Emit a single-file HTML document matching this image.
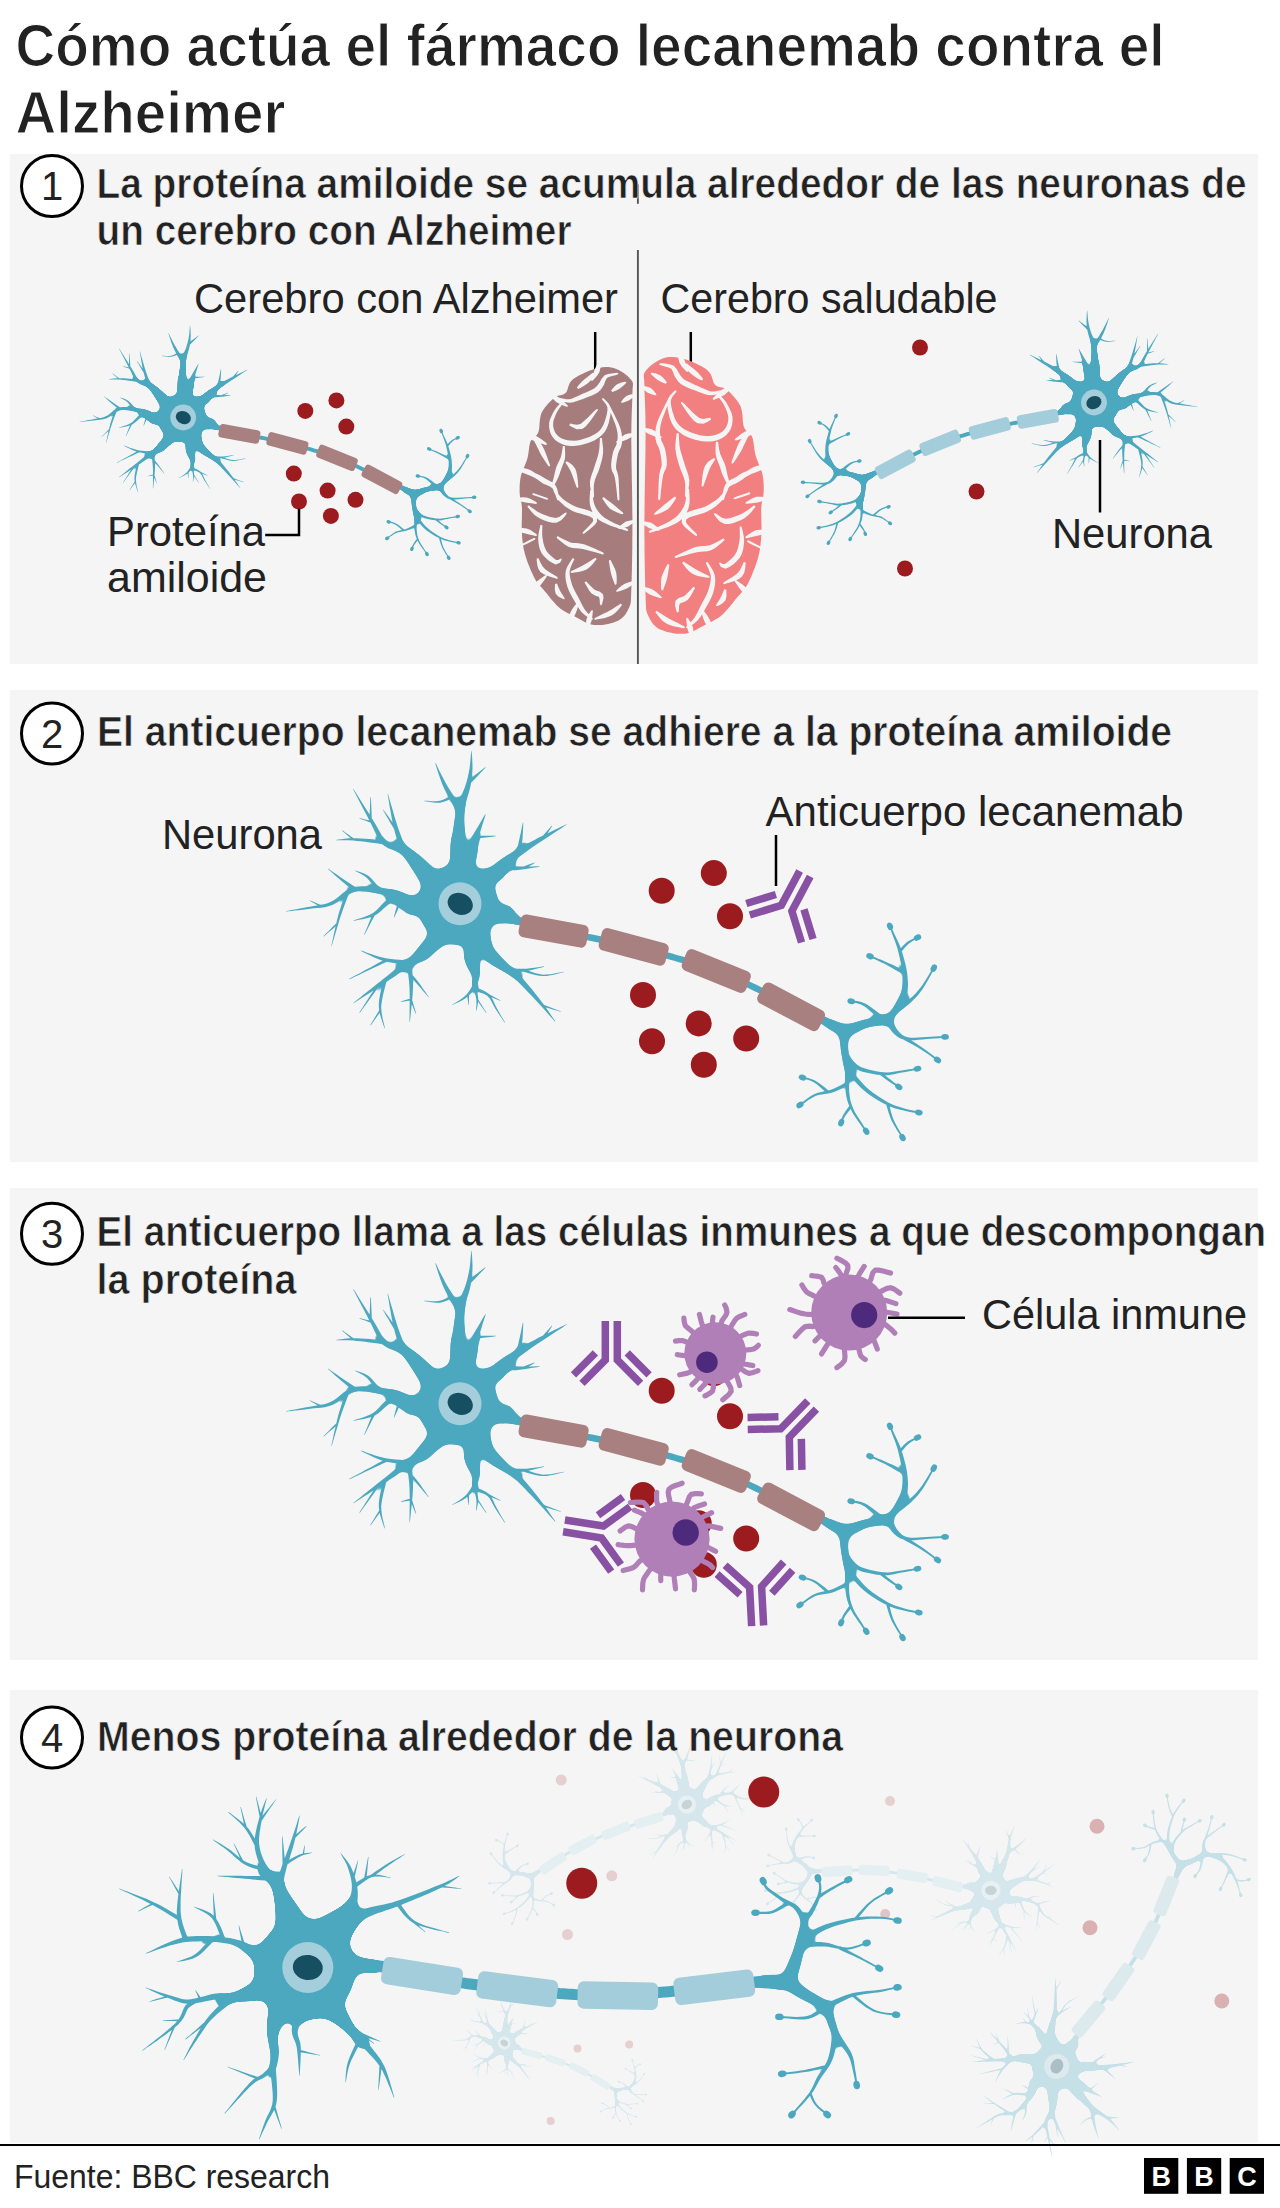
<!DOCTYPE html><html><head><meta charset="utf-8"><style>html,body{margin:0;padding:0;background:#fff}svg{display:block}text{font-family:"Liberation Sans",sans-serif}.nb{fill:var(--nb)}.ax{stroke:var(--nb)}.my{fill:var(--my)}.nr{fill:var(--nr)}.nn{fill:var(--nn)}.bf{fill:var(--bf)}</style></head><body>
<svg width="1280" height="2208" viewBox="0 0 1280 2208">
<defs>
<filter id="goo2" x="-50%" y="-50%" width="200%" height="200%" color-interpolation-filters="sRGB"><feGaussianBlur stdDeviation="6"/><feColorMatrix type="matrix" values="1 0 0 0 0 0 1 0 0 0 0 0 1 0 0 0 0 0 30 -13"/></filter>
<filter id="goo" x="-50%" y="-50%" width="200%" height="200%" color-interpolation-filters="sRGB"><feGaussianBlur stdDeviation="4"/><feColorMatrix type="matrix" values="1 0 0 0 0 0 1 0 0 0 0 0 1 0 0 0 0 0 14 -6"/></filter>
<g id="nA">
<path class="ax" d="M60.0 17.0L62.3 17.7L65.2 18.5L68.6 19.6L72.4 20.7L76.6 21.9L81.0 23.2L85.4 24.4L89.8 25.6L94.0 26.6L97.4 27.4L100.9 28.1L104.5 28.9L108.1 29.6L111.8 30.3L115.5 31.0L119.2 31.7L122.9 32.3L126.6 33.1L130.3 33.8L134.0 34.5L137.6 35.2L141.3 36.0L144.9 36.7L148.5 37.4L152.1 38.2L155.8 38.9L159.4 39.7L163.0 40.5L166.7 41.3L170.3 42.1L174.0 43.0L177.7 43.9L181.4 44.8L185.1 45.8L188.8 46.7L192.6 47.7L196.3 48.7L200.0 49.7L203.8 50.8L207.5 51.8L211.3 52.9L215.0 54.0L218.7 55.1L222.5 56.2L226.2 57.3L230.0 58.4L233.7 59.5L237.5 60.7L241.2 61.9L245.0 63.1L248.7 64.4L252.3 65.7L256.0 67.0L259.6 68.4L263.3 69.8L266.9 71.3L270.5 72.8L274.0 74.3L277.6 75.9L281.1 77.5L284.6 79.1L288.1 80.7L291.6 82.4L295.0 84.0L298.4 85.7L301.8 87.4L305.2 89.2L308.6 91.1L312.0 92.9L315.3 94.7L318.6 96.5L321.8 98.3L324.9 99.9L328.0 101.5L331.0 103.0L335.0 104.8L338.9 106.5L342.6 108.1L346.2 109.6L349.8 111.0L353.3 112.3L356.7 113.6L360.0 115.0L363.9 116.6L367.9 118.3L371.9 120.0L375.7 121.5L379.0 122.9L381.9 124.1L384.0 125.0" fill="none" stroke-width="6.5" stroke-linecap="round"/>
<path class="nb" d="M10.0 -18.0L9.5 -20.4L8.9 -23.7L8.1 -27.6L7.3 -31.9L6.5 -36.1L6.0 -40.0L5.7 -43.9L5.4 -47.9L5.3 -51.9L5.2 -55.7L5.1 -59.1L5.0 -61.7L4.8 -64.7L4.8 -66.4L4.7 -69.6L4.5 -73.1L4.3 -76.9L4.0 -80.8L4.0 -84.6L4.1 -88.2L4.3 -91.7L4.7 -95.3L5.4 -99.1L6.2 -102.4L7.2 -106.0L8.4 -109.8L9.5 -113.6L10.4 -117.3L11.1 -120.9L11.6 -124.4L12.0 -127.9L12.3 -131.3L12.5 -134.9L12.5 -138.7L12.3 -142.9L12.1 -146.9L11.8 -150.4L11.6 -152.8L11.4 -153.1L11.2 -152.8L11.0 -150.4L10.7 -146.9L10.4 -142.9L10.0 -138.9L9.5 -135.1L8.9 -131.8L8.2 -128.5L7.5 -125.2L6.6 -122.0L5.6 -118.7L4.4 -115.2L2.9 -111.7L1.4 -108.1L-0.1 -104.4L-1.4 -100.9L-2.6 -96.8L-3.5 -92.9L-4.3 -89.2L-5.0 -85.4L-5.6 -81.3L-6.1 -77.2L-6.5 -73.4L-6.9 -70.4L-7.6 -68.2L-8.4 -66.2L-9.0 -62.3L-9.2 -59.2L-9.3 -55.7L-9.4 -51.8L-9.5 -47.8L-9.7 -43.8L-10.0 -40.0L-10.5 -36.1L-11.3 -31.9L-12.1 -27.6L-12.9 -23.7L-13.5 -20.4L-14.0 -18.0ZM3.0 -93.9L1.7 -95.8L0.0 -98.3L-2.0 -101.2L-4.1 -104.5L-6.4 -108.0L-8.7 -111.4L-10.8 -114.8L-12.6 -117.8L-14.6 -121.3L-16.5 -125.0L-18.5 -128.7L-20.3 -132.3L-21.9 -135.6L-23.2 -138.4L-24.3 -140.4L-24.6 -140.6L-24.7 -140.2L-24.0 -138.0L-23.1 -135.1L-22.0 -131.6L-20.7 -127.8L-19.3 -123.7L-17.8 -119.8L-16.2 -116.0L-14.6 -112.7L-12.7 -109.1L-10.7 -105.4L-8.6 -101.8L-6.6 -98.3L-4.8 -95.2L-3.2 -92.7L-2.1 -90.7ZM-9.2 -108.0L-11.1 -107.0L-13.8 -105.4L-16.9 -103.9L-20.1 -102.9L-23.9 -102.6L-28.4 -102.6L-32.6 -102.9L-35.5 -103.0L-35.8 -102.8L-35.5 -102.6L-32.7 -102.2L-28.5 -101.6L-24.0 -101.1L-19.9 -101.1L-16.2 -101.9L-12.8 -103.2L-9.9 -104.5L-7.9 -105.3ZM10.2 -120.0L12.0 -121.9L14.8 -124.8L17.9 -128.1L21.1 -131.4L23.8 -134.3L25.7 -136.2L25.7 -136.6L25.3 -136.6L23.2 -134.9L20.0 -132.5L16.4 -129.8L12.8 -127.0L9.6 -124.6L7.5 -122.9ZM9.0 -13.1L9.6 -15.9L10.4 -19.8L11.4 -24.3L12.4 -28.8L13.3 -32.7L14.2 -36.9L15.1 -40.8L16.0 -44.7L16.8 -48.5L17.4 -52.2L17.8 -55.6L18.1 -58.6L18.4 -61.2L18.6 -63.7L18.7 -65.6L19.5 -69.0L20.3 -71.9L21.4 -75.6L22.6 -79.7L23.9 -83.6L25.0 -87.0L25.7 -89.4L25.6 -89.8L25.3 -89.6L24.0 -87.5L22.2 -84.4L20.1 -80.8L17.9 -77.1L15.9 -73.7L14.3 -71.0L12.5 -67.7L11.5 -65.4L10.6 -62.8L9.8 -60.1L9.2 -57.1L8.4 -54.3L7.2 -51.5L5.6 -48.8L3.6 -45.9L1.2 -42.8L-1.3 -39.3L-3.6 -35.9L-6.3 -32.2L-9.0 -28.4L-11.3 -25.2L-13.0 -22.9ZM15.7 -65.1L18.7 -65.5L23.2 -66.0L28.1 -66.6L32.6 -67.1L35.6 -67.5L35.9 -67.7L35.6 -67.9L32.5 -68.0L28.1 -68.0L23.1 -68.1L18.6 -68.1L15.6 -68.1ZM1.6 -8.8L3.8 -9.5L6.9 -10.6L10.7 -11.8L14.9 -13.2L19.2 -14.7L23.6 -16.2L27.8 -17.7L31.5 -19.1L35.0 -20.6L40.0 -23.4L43.6 -26.7L45.2 -29.2L46.6 -31.2L48.5 -34.1L50.3 -37.3L52.2 -40.4L55.3 -43.9L57.6 -45.9L60.3 -48.0L63.4 -50.3L66.7 -52.5L70.2 -54.9L73.8 -57.4L77.5 -59.9L80.6 -62.0L84.1 -64.3L87.9 -66.8L91.7 -69.3L95.4 -71.7L99.0 -74.0L102.1 -76.1L104.8 -77.9L106.8 -79.2L107.0 -79.5L106.6 -79.6L104.4 -78.6L101.5 -77.2L98.1 -75.6L94.3 -73.7L90.3 -71.8L86.2 -69.8L82.1 -67.8L78.3 -65.9L75.0 -64.1L71.0 -62.0L67.2 -59.9L63.4 -57.8L59.9 -55.8L56.5 -53.8L53.3 -52.0L50.3 -50.1L45.9 -47.4L42.3 -44.9L39.3 -42.8L36.4 -40.8L33.8 -38.4L32.6 -36.8L32.0 -36.3L29.0 -35.4L26.9 -35.1L23.5 -34.7L19.5 -34.2L15.1 -33.8L10.7 -33.4L6.4 -33.1L2.4 -32.8L-0.9 -32.5L-3.4 -32.2ZM60.6 -50.5L61.0 -53.0L61.5 -56.6L62.0 -60.7L62.5 -64.8L62.7 -68.1L62.9 -71.9L63.1 -75.5L63.2 -78.7L63.2 -80.9L63.0 -81.2L62.8 -80.9L62.3 -78.8L61.7 -75.7L61.0 -72.1L60.2 -68.5L59.5 -65.2L58.6 -61.3L57.7 -57.3L56.8 -53.8L56.2 -51.3ZM84.3 -65.1L85.9 -67.7L88.2 -71.4L90.5 -75.1L92.1 -77.7L92.1 -78.0L91.7 -77.9L89.7 -75.7L86.8 -72.4L83.9 -69.2L81.9 -66.9ZM42.7 -34.6L44.6 -34.4L47.6 -33.9L51.4 -33.6L55.8 -33.6L59.5 -34.0L63.8 -34.5L68.5 -35.2L72.9 -35.9L76.7 -36.5L79.4 -37.0L79.7 -37.2L79.4 -37.4L76.7 -37.4L72.8 -37.3L68.3 -37.2L63.7 -37.2L59.4 -37.3L56.0 -37.6L52.3 -38.6L49.3 -39.9L47.0 -41.3L45.2 -42.2ZM64.3 -34.7L66.4 -36.0L69.5 -37.8L72.7 -39.6L74.8 -40.9L75.0 -41.2L74.6 -41.3L72.3 -40.4L68.9 -39.2L65.5 -37.9L63.2 -37.0ZM10.9 19.0L13.5 19.0L17.1 18.9L21.4 18.9L25.8 18.8L29.9 18.8L33.4 18.9L38.3 19.2L41.5 19.5L43.4 19.4L45.7 19.1L49.1 19.3L53.1 20.1L57.0 20.9L60.6 21.8L63.0 22.4L68.0 20.2L65.0 15.6L62.7 14.8L59.6 13.6L56.9 11.9L55.4 9.4L53.4 5.9L49.6 2.6L45.1 0.9L41.0 0.2L36.6 -0.9L33.5 -2.0L29.7 -3.4L25.5 -4.9L21.5 -6.4L18.1 -7.7L15.7 -8.6ZM5.1 8.2L5.9 10.4L6.9 13.5L8.2 17.2L9.6 21.4L11.2 25.8L12.7 30.2L14.3 34.6L15.8 38.6L17.1 42.2L18.4 45.4L20.7 50.3L23.0 53.8L25.3 56.0L27.6 57.8L30.6 59.9L34.1 62.2L37.8 64.3L41.3 66.3L44.5 68.2L47.5 70.1L50.0 71.5L52.4 73.2L55.7 75.9L57.8 77.8L60.2 80.2L62.7 82.7L65.4 85.5L68.1 88.4L70.9 91.3L73.5 94.1L76.0 96.8L78.6 99.6L81.3 102.5L84.0 105.5L86.7 108.5L89.2 111.4L91.5 113.9L93.4 116.0L94.8 117.7L95.2 117.7L95.2 117.3L94.0 115.6L92.3 113.2L90.4 110.4L88.3 107.3L86.0 104.0L83.6 100.6L81.2 97.4L79.0 94.4L76.6 91.4L74.2 88.4L71.7 85.3L69.1 82.2L66.6 79.2L64.2 76.4L61.9 73.9L59.9 71.6L56.7 68.3L54.1 66.0L51.9 64.2L49.3 61.8L46.8 59.3L43.9 56.4L41.0 53.4L38.5 50.7L36.4 48.2L34.2 46.0L33.3 45.3L32.7 44.5L31.6 40.6L31.1 38.2L30.5 34.7L29.9 30.7L29.3 26.2L28.8 21.6L28.2 17.1L27.7 12.8L27.2 8.9L26.8 5.6L26.5 3.1ZM49.8 69.1L52.1 68.9L55.3 68.7L59.1 68.3L63.0 67.9L66.8 67.3L70.5 66.6L74.5 65.6L78.4 64.6L81.7 63.7L84.1 63.0L84.3 62.7L83.9 62.6L81.5 62.9L78.1 63.4L74.2 64.0L70.2 64.5L66.4 64.9L62.8 65.0L58.9 65.1L55.1 65.1L51.9 65.1L49.6 65.1ZM62.6 67.7L64.7 68.3L67.8 69.2L71.4 70.2L75.3 71.2L79.2 72.0L83.0 72.3L86.7 72.2L90.7 71.6L94.7 70.7L98.4 69.8L101.5 69.1L103.8 68.5L104.0 68.2L103.7 68.1L101.4 68.5L98.3 69.1L94.5 69.8L90.5 70.4L86.6 70.8L83.0 70.9L79.5 70.3L75.7 69.4L72.0 68.3L68.4 67.0L65.5 66.0L63.3 65.3ZM82.1 102.5L84.9 103.4L89.0 104.6L93.5 105.9L97.6 107.1L100.4 107.9L100.8 107.8L100.6 107.5L97.9 106.4L93.9 104.9L89.5 103.2L85.5 101.7L82.8 100.6ZM9.7 19.7L9.2 22.0L8.4 25.4L7.5 29.6L6.4 34.1L5.5 38.6L4.7 42.8L4.1 46.9L4.0 52.2L4.8 56.6L5.8 59.6L6.8 61.9L8.6 65.4L10.7 68.3L12.0 70.5L12.4 72.6L12.3 75.0L12.0 77.6L12.0 80.7L12.0 82.8L14.2 86.0L17.0 83.2L17.4 81.3L18.0 78.4L18.6 76.2L19.5 73.3L20.0 69.5L19.9 65.5L19.5 61.8L19.2 58.1L18.5 55.3L17.7 53.2L17.4 51.7L17.9 49.1L18.9 47.1L20.6 43.9L22.6 40.3L24.9 36.6L27.0 33.0L28.9 30.0L30.2 27.7ZM12.9 81.7L11.5 83.8L9.5 86.7L7.2 89.9L4.7 92.6L1.6 95.0L-2.1 97.4L-5.5 99.4L-7.9 100.9L-8.1 101.2L-7.7 101.3L-5.2 100.1L-1.6 98.4L2.4 96.4L5.9 94.2L9.0 91.6L11.9 88.7L14.4 86.1L16.1 84.3ZM7.1 90.8L7.5 93.9L8.0 98.1L8.4 101.1L8.6 101.4L8.8 101.1L8.9 98.0L9.0 93.8L9.1 90.7ZM13.0 83.4L13.7 85.7L14.7 88.9L15.7 92.5L16.3 95.7L16.5 99.7L16.2 103.7L16.0 106.6L16.2 106.9L16.5 106.6L17.1 103.9L17.9 99.8L18.3 95.5L17.9 92.1L17.2 88.3L16.5 84.9L16.0 82.6ZM16.7 96.0L18.5 98.6L21.3 102.5L24.0 106.3L25.9 108.9L26.3 109.0L26.3 108.6L24.6 105.9L22.1 101.9L19.6 97.9L17.9 95.2ZM14.5 86.9L17.0 87.8L20.7 88.9L24.4 90.3L27.5 92.2L29.6 94.6L31.5 97.8L33.3 101.3L35.2 104.8L37.2 107.7L39.3 111.0L41.4 114.1L43.2 116.8L44.5 118.7L44.9 118.9L44.9 118.5L43.8 116.5L42.1 113.7L40.2 110.4L38.3 107.1L36.6 104.0L34.8 100.5L33.3 96.9L31.5 93.4L29.1 90.3L25.7 87.9L21.8 86.0L18.1 84.6L15.7 83.7ZM27.9 92.2L30.4 93.1L34.0 94.5L37.7 96.0L40.2 96.9L40.6 96.8L40.4 96.5L38.0 95.2L34.6 93.4L31.1 91.6L28.7 90.3ZM-21.5 15.8L-22.9 17.9L-24.9 20.9L-27.1 24.5L-29.5 28.2L-31.8 31.6L-33.8 34.5L-36.4 37.9L-38.6 40.6L-40.5 42.8L-42.1 44.7L-44.0 47.3L-46.0 49.9L-48.3 52.4L-50.5 54.3L-52.9 56.2L-56.9 59.2L-59.0 61.0L-61.5 62.9L-64.2 65.1L-67.1 67.4L-70.1 69.9L-73.2 72.4L-76.4 74.9L-79.5 77.4L-82.5 79.8L-85.8 82.4L-89.3 85.2L-92.8 88.0L-96.3 90.8L-99.5 93.4L-102.4 95.8L-104.9 97.7L-106.7 99.2L-106.8 99.6L-106.5 99.6L-104.5 98.3L-101.8 96.6L-98.7 94.6L-95.2 92.3L-91.5 89.9L-87.7 87.4L-84.0 85.0L-80.4 82.7L-77.3 80.6L-73.9 78.4L-70.5 76.1L-67.2 73.9L-63.9 71.7L-60.9 69.6L-58.0 67.7L-55.4 66.0L-53.1 64.6L-49.0 62.1L-46.4 60.8L-43.7 59.6L-40.4 58.4L-36.8 57.3L-32.9 55.3L-30.1 53.1L-27.7 50.7L-25.2 48.1L-22.2 45.5L-19.4 43.4L-16.1 40.9L-12.5 38.3L-9.1 35.9L-6.2 33.8L-4.1 32.3ZM-50.7 56.9L-53.1 56.7L-56.4 56.4L-60.2 56.1L-64.5 55.8L-68.8 55.3L-72.9 54.8L-76.5 54.1L-80.6 53.1L-84.9 51.8L-89.1 50.3L-93.0 48.9L-96.3 47.6L-98.7 46.8L-99.0 46.9L-98.8 47.2L-96.6 48.4L-93.5 50.0L-89.8 51.8L-85.7 53.8L-81.4 55.6L-77.3 57.1L-73.5 58.0L-69.3 58.8L-64.9 59.5L-60.7 60.1L-56.8 60.6L-53.5 61.0L-51.2 61.3ZM-73.9 55.1L-76.0 56.2L-78.8 57.7L-82.2 59.6L-86.1 61.7L-90.1 63.9L-94.3 66.1L-98.4 68.4L-102.2 70.4L-105.7 72.3L-108.5 73.8L-110.6 75.0L-110.8 75.3L-110.4 75.4L-108.2 74.4L-105.3 73.0L-101.8 71.4L-97.8 69.6L-93.6 67.6L-89.3 65.6L-85.1 63.6L-81.1 61.8L-77.6 60.1L-74.7 58.7L-72.5 57.7ZM-53.4 59.4L-53.1 61.5L-52.7 64.4L-52.2 67.7L-51.7 71.4L-51.2 75.4L-50.8 79.6L-50.5 83.8L-50.4 87.3L-50.3 91.3L-50.3 95.7L-50.3 100.2L-50.4 104.6L-50.4 108.8L-50.5 112.6L-50.5 115.7L-50.5 118.1L-50.3 118.4L-50.1 118.1L-49.8 115.8L-49.5 112.6L-49.1 108.9L-48.7 104.7L-48.2 100.3L-47.8 95.8L-47.4 91.4L-47.2 87.4L-47.0 83.7L-47.0 79.4L-47.1 75.1L-47.4 71.0L-47.7 67.2L-48.0 63.8L-48.3 61.0L-48.4 58.8ZM-50.6 72.2L-48.9 74.0L-46.3 76.5L-43.3 79.7L-41.1 82.2L-38.5 85.3L-35.8 88.5L-33.4 91.3L-31.8 93.3L-31.4 93.3L-31.4 92.9L-32.8 90.9L-34.9 87.8L-37.3 84.4L-39.6 81.1L-41.7 78.3L-44.4 74.8L-46.8 72.0L-48.4 70.2ZM-49.3 94.8L-52.1 95.6L-56.1 96.7L-59.0 97.6L-59.2 97.9L-58.8 98.0L-55.9 97.7L-51.8 97.1L-48.8 96.7ZM-50.0 96.1L-48.8 98.9L-47.1 103.1L-45.4 107.2L-44.2 110.1L-43.9 110.3L-43.8 109.9L-44.6 107.0L-45.9 102.7L-47.2 98.4L-48.1 95.4ZM-76.9 76.3L-77.3 78.6L-78.1 81.9L-78.9 85.8L-79.8 90.0L-80.6 94.4L-81.1 98.6L-81.2 102.5L-80.8 106.8L-79.9 111.1L-78.6 115.2L-77.4 119.0L-76.3 122.2L-75.5 124.5L-75.2 124.7L-75.1 124.3L-75.6 122.0L-76.4 118.7L-77.3 114.9L-78.1 110.7L-78.6 106.5L-78.8 102.5L-78.4 98.9L-77.7 94.9L-76.8 90.6L-75.8 86.5L-74.8 82.6L-74.0 79.4L-73.4 77.0ZM-80.5 106.1L-81.9 108.4L-84.0 111.7L-86.2 115.5L-88.2 118.8L-89.6 121.1L-89.6 121.5L-89.2 121.4L-87.6 119.2L-85.3 116.0L-82.8 112.5L-80.4 109.3L-78.9 107.2ZM-82.5 80.5L-83.8 82.6L-85.6 85.4L-87.8 88.8L-90.3 92.6L-92.8 96.5L-95.2 100.3L-97.4 103.7L-99.2 106.6L-100.5 108.6L-100.5 109.0L-100.1 108.9L-98.7 106.9L-96.7 104.2L-94.3 100.9L-91.6 97.3L-88.9 93.5L-86.3 89.9L-83.9 86.6L-81.9 83.9L-80.4 81.9ZM-8.4 -30.5L-10.3 -29.2L-12.9 -27.5L-15.9 -25.6L-19.3 -23.3L-22.9 -21.0L-26.6 -18.6L-30.3 -16.2L-33.8 -14.0L-37.0 -12.1L-39.7 -10.4L-41.5 -9.4L-45.3 -7.7L-45.9 -7.4L-45.6 -7.4L-45.9 -7.0L-47.7 -6.7L-50.7 -7.9L-54.9 -10.0L-58.0 -11.3L-60.9 -12.5L-64.7 -13.8L-69.9 -14.7L-72.9 -15.1L-76.4 -15.6L-80.4 -16.1L-84.6 -16.6L-89.0 -17.1L-93.3 -17.4L-97.6 -17.5L-101.7 -17.3L-105.5 -16.7L-109.8 -15.3L-113.6 -13.2L-117.1 -10.7L-120.3 -8.1L-123.3 -5.6L-126.2 -3.5L-129.1 -1.9L-132.5 -0.5L-136.0 0.4L-139.4 1.1L-142.9 1.7L-146.5 2.2L-150.2 2.9L-153.6 3.6L-157.4 4.3L-161.4 5.0L-165.2 5.7L-168.7 6.3L-171.6 6.9L-173.8 7.3L-174.0 7.5L-173.7 7.7L-171.5 7.5L-168.6 7.2L-165.0 6.8L-161.2 6.4L-157.2 6.0L-153.3 5.5L-149.8 5.1L-146.1 4.6L-142.5 4.3L-139.0 3.9L-135.3 3.4L-131.6 2.5L-127.7 1.3L-124.3 -0.4L-121.0 -2.6L-117.9 -5.0L-114.7 -7.4L-111.4 -9.5L-108.1 -11.1L-104.5 -12.1L-101.4 -12.4L-97.7 -12.3L-93.7 -12.0L-89.6 -11.5L-85.4 -10.8L-81.4 -10.1L-77.6 -9.3L-74.1 -8.5L-71.3 -7.8L-66.9 -6.5L-64.4 -5.2L-62.6 -3.7L-61.1 -2.0L-59.6 0.9L-57.9 5.1L-54.1 9.0L-50.1 10.8L-45.6 11.6L-40.3 10.9L-34.5 9.4L-31.3 8.3L-27.9 7.1L-24.1 5.7L-20.0 4.1L-15.8 2.5L-11.6 0.8L-7.6 -0.8L-3.8 -2.3L-0.5 -3.6L2.3 -4.7L4.4 -5.5ZM-103.8 -16.0L-105.6 -17.2L-108.2 -18.9L-111.2 -20.9L-114.3 -23.0L-117.2 -25.0L-120.3 -27.1L-123.5 -29.4L-126.7 -31.6L-129.5 -33.5L-131.4 -34.9L-131.8 -34.9L-131.8 -34.5L-130.0 -32.9L-127.5 -30.7L-124.6 -28.1L-121.5 -25.4L-118.8 -23.0L-116.0 -20.7L-113.1 -18.3L-110.3 -16.1L-107.9 -14.2L-106.2 -12.8ZM-79.3 -14.3L-80.9 -16.3L-83.2 -19.1L-86.0 -22.3L-88.9 -25.4L-91.7 -27.9L-95.4 -30.0L-99.2 -31.5L-102.6 -32.6L-104.9 -33.3L-105.3 -33.2L-105.1 -32.9L-102.9 -31.8L-99.8 -30.2L-96.3 -28.3L-93.3 -25.9L-91.0 -23.4L-88.5 -20.2L-86.0 -16.9L-83.9 -13.9L-82.4 -11.9ZM-114.2 -11.9L-114.9 -9.8L-115.8 -7.1L-116.9 -3.8L-118.2 -0.1L-119.4 3.9L-120.7 7.9L-121.8 11.8L-122.7 15.5L-123.7 19.6L-124.7 24.0L-125.7 28.3L-126.6 32.5L-127.4 36.3L-128.1 39.5L-128.6 41.8L-128.5 42.2L-128.2 42.0L-127.5 39.6L-126.6 36.5L-125.5 32.8L-124.3 28.7L-123.0 24.4L-121.8 20.2L-120.5 16.1L-119.4 12.6L-118.1 8.7L-116.7 4.8L-115.3 0.9L-113.9 -2.7L-112.7 -6.0L-111.7 -8.7L-110.9 -10.8ZM-123.4 19.2L-125.4 21.2L-128.3 24.1L-131.5 27.4L-134.4 30.3L-136.4 32.3L-136.5 32.7L-136.1 32.7L-133.9 30.8L-130.8 28.1L-127.3 25.2L-124.2 22.5L-122.1 20.6ZM-138.7 1.6L-141.0 0.6L-144.4 -1.0L-147.9 -2.6L-150.2 -3.6L-150.6 -3.5L-150.4 -3.2L-148.2 -1.8L-145.0 0.1L-141.8 2.1L-139.6 3.4ZM-48.9 -1.8L-51.3 -2.7L-54.8 -4.2L-59.1 -5.8L-63.8 -6.8L-68.6 -6.4L-72.3 -4.6L-75.4 -1.9L-78.4 1.1L-81.3 4.3L-84.1 7.1L-87.0 9.3L-90.2 11.0L-93.9 12.5L-97.8 13.9L-101.4 15.0L-104.5 15.9L-106.7 16.7L-106.9 17.0L-106.5 17.1L-104.3 16.7L-101.1 16.1L-97.4 15.4L-93.3 14.6L-89.3 13.4L-85.5 11.9L-82.0 9.7L-78.7 7.0L-75.5 4.1L-72.5 1.4L-69.8 -0.6L-67.4 -1.6L-64.4 -1.5L-60.7 -0.5L-57.0 1.1L-53.6 2.7L-51.1 3.8ZM-87.4 10.1L-88.4 12.6L-89.9 16.2L-91.6 20.4L-93.3 24.7L-94.8 28.3L-95.8 30.8L-95.7 31.2L-95.4 31.0L-94.1 28.6L-92.3 25.1L-90.2 21.1L-88.2 17.0L-86.3 13.5L-85.1 11.1ZM-61.6 -3.8L-62.3 -1.1L-63.3 2.8L-64.5 7.1L-65.5 11.0L-66.2 13.7L-66.1 14.0L-65.8 13.8L-64.6 11.3L-62.9 7.7L-61.1 3.6L-59.4 -0.1L-58.3 -2.6ZM-6.6 -19.2L-8.8 -20.8L-11.8 -23.1L-15.3 -25.8L-18.9 -28.6L-22.3 -31.4L-24.9 -33.7L-27.7 -36.3L-30.4 -39.0L-33.3 -41.7L-36.1 -44.3L-38.8 -46.7L-41.9 -49.2L-44.9 -51.6L-47.9 -53.8L-51.1 -55.9L-54.5 -57.8L-58.9 -59.2L-63.1 -59.9L-66.7 -60.4L-69.5 -61.1L-72.2 -62.2L-74.1 -63.4L-76.4 -65.9L-78.0 -68.1L-79.6 -70.8L-81.4 -74.0L-83.6 -77.9L-86.3 -82.4L-88.0 -85.2L-90.0 -88.4L-92.2 -92.0L-94.6 -95.7L-97.0 -99.5L-99.3 -103.3L-101.5 -106.8L-103.5 -109.9L-105.1 -112.5L-106.4 -114.5L-106.7 -114.7L-106.8 -114.3L-105.7 -112.2L-104.3 -109.5L-102.6 -106.2L-100.7 -102.5L-98.6 -98.6L-96.5 -94.6L-94.5 -90.7L-92.5 -87.0L-90.8 -83.6L-89.3 -80.8L-87.0 -76.1L-85.2 -72.1L-83.6 -68.7L-82.1 -65.7L-80.4 -62.9L-77.8 -59.6L-75.0 -57.4L-71.7 -55.5L-68.3 -54.2L-64.7 -53.1L-61.4 -51.9L-58.7 -50.2L-57.0 -48.4L-55.1 -46.2L-53.3 -43.5L-51.3 -40.5L-49.2 -37.3L-47.4 -34.6L-45.5 -31.6L-43.6 -28.4L-41.6 -25.1L-39.6 -21.8L-37.7 -18.6L-35.4 -14.7L-33.1 -10.6L-31.0 -6.6L-29.2 -3.3L-27.9 -1.0ZM-53.8 -55.0L-54.6 -57.0L-55.6 -59.6L-56.9 -62.6L-58.3 -66.0L-59.7 -69.7L-61.1 -73.6L-62.5 -77.4L-63.5 -80.7L-64.7 -84.5L-65.9 -88.6L-67.1 -92.9L-68.3 -97.0L-69.5 -101.0L-70.5 -104.5L-71.3 -107.5L-72.0 -109.8L-72.3 -110.0L-72.4 -109.6L-72.0 -107.4L-71.5 -104.3L-70.9 -100.7L-70.2 -96.6L-69.4 -92.3L-68.7 -88.0L-67.9 -83.8L-67.1 -79.8L-66.3 -76.4L-65.3 -72.3L-64.2 -68.2L-63.0 -64.4L-61.9 -60.8L-60.9 -57.6L-60.0 -55.0L-59.4 -53.0ZM-62.0 -73.7L-63.4 -75.7L-65.5 -78.7L-68.0 -82.1L-70.6 -85.7L-73.1 -89.2L-75.2 -92.1L-76.7 -94.1L-77.1 -94.3L-77.1 -93.9L-75.9 -91.7L-74.1 -88.6L-71.9 -84.9L-69.7 -81.0L-67.5 -77.4L-65.7 -74.3L-64.5 -72.1ZM-88.1 -84.4L-88.3 -87.1L-88.4 -91.0L-88.6 -95.5L-88.8 -100.0L-89.0 -103.9L-89.2 -106.6L-89.4 -106.9L-89.6 -106.6L-89.8 -103.9L-89.9 -100.0L-90.1 -95.5L-90.3 -91.0L-90.5 -87.1L-90.6 -84.4ZM-87.5 -82.6L-90.1 -83.2L-93.9 -84.1L-97.6 -85.1L-100.2 -85.7L-100.6 -85.6L-100.4 -85.3L-97.9 -84.3L-94.2 -83.0L-90.6 -81.6L-88.1 -80.6ZM-75.7 -63.5L-78.2 -63.7L-81.5 -64.0L-85.6 -64.3L-90.0 -64.7L-94.6 -65.0L-99.0 -65.3L-103.1 -65.6L-106.6 -65.6L-111.2 -65.5L-115.3 -65.1L-118.8 -64.6L-121.7 -64.2L-123.8 -63.8L-124.0 -63.6L-123.7 -63.4L-121.6 -63.4L-118.7 -63.5L-115.2 -63.5L-111.2 -63.4L-106.6 -63.2L-103.3 -62.8L-99.3 -62.4L-94.9 -61.9L-90.4 -61.3L-86.0 -60.7L-81.9 -60.2L-78.6 -59.8L-76.1 -59.5ZM-106.0 -65.2L-108.3 -66.8L-111.7 -69.2L-115.0 -71.6L-117.3 -73.2L-117.7 -73.2L-117.7 -72.8L-115.5 -70.9L-112.4 -68.2L-109.3 -65.5L-107.2 -63.6Z"/>
<g filter="url(#goo)"><circle class="nb" cx="-2" cy="1" r="40"/><path class="nb" d="M10.0 -18.0L9.5 -20.4L8.9 -23.7L8.1 -27.6L7.3 -31.9L6.5 -36.1L6.0 -40.0L5.7 -43.9L5.4 -47.9L5.3 -51.9L5.2 -55.7L5.1 -59.1L5.0 -61.7L4.8 -64.7L4.8 -66.4L4.7 -69.6L4.5 -73.1L4.3 -76.9L4.0 -80.8L4.0 -84.6L4.1 -88.2L4.3 -91.7L4.7 -95.3L5.4 -99.1L6.2 -102.4L7.2 -106.0L8.4 -109.8L9.5 -113.6L10.4 -117.3L11.1 -120.9L11.6 -124.4L12.0 -127.9L12.3 -131.3L12.5 -134.9L12.5 -138.7L12.3 -142.9L12.1 -146.9L11.8 -150.4L11.6 -152.8L11.4 -153.1L11.2 -152.8L11.0 -150.4L10.7 -146.9L10.4 -142.9L10.0 -138.9L9.5 -135.1L8.9 -131.8L8.2 -128.5L7.5 -125.2L6.6 -122.0L5.6 -118.7L4.4 -115.2L2.9 -111.7L1.4 -108.1L-0.1 -104.4L-1.4 -100.9L-2.6 -96.8L-3.5 -92.9L-4.3 -89.2L-5.0 -85.4L-5.6 -81.3L-6.1 -77.2L-6.5 -73.4L-6.9 -70.4L-7.6 -68.2L-8.4 -66.2L-9.0 -62.3L-9.2 -59.2L-9.3 -55.7L-9.4 -51.8L-9.5 -47.8L-9.7 -43.8L-10.0 -40.0L-10.5 -36.1L-11.3 -31.9L-12.1 -27.6L-12.9 -23.7L-13.5 -20.4L-14.0 -18.0ZM3.0 -93.9L1.7 -95.8L0.0 -98.3L-2.0 -101.2L-4.1 -104.5L-6.4 -108.0L-8.7 -111.4L-10.8 -114.8L-12.6 -117.8L-14.6 -121.3L-16.5 -125.0L-18.5 -128.7L-20.3 -132.3L-21.9 -135.6L-23.2 -138.4L-24.3 -140.4L-24.6 -140.6L-24.7 -140.2L-24.0 -138.0L-23.1 -135.1L-22.0 -131.6L-20.7 -127.8L-19.3 -123.7L-17.8 -119.8L-16.2 -116.0L-14.6 -112.7L-12.7 -109.1L-10.7 -105.4L-8.6 -101.8L-6.6 -98.3L-4.8 -95.2L-3.2 -92.7L-2.1 -90.7ZM-9.2 -108.0L-11.1 -107.0L-13.8 -105.4L-16.9 -103.9L-20.1 -102.9L-23.9 -102.6L-28.4 -102.6L-32.6 -102.9L-35.5 -103.0L-35.8 -102.8L-35.5 -102.6L-32.7 -102.2L-28.5 -101.6L-24.0 -101.1L-19.9 -101.1L-16.2 -101.9L-12.8 -103.2L-9.9 -104.5L-7.9 -105.3ZM10.2 -120.0L12.0 -121.9L14.8 -124.8L17.9 -128.1L21.1 -131.4L23.8 -134.3L25.7 -136.2L25.7 -136.6L25.3 -136.6L23.2 -134.9L20.0 -132.5L16.4 -129.8L12.8 -127.0L9.6 -124.6L7.5 -122.9ZM9.0 -13.1L9.6 -15.9L10.4 -19.8L11.4 -24.3L12.4 -28.8L13.3 -32.7L14.2 -36.9L15.1 -40.8L16.0 -44.7L16.8 -48.5L17.4 -52.2L17.8 -55.6L18.1 -58.6L18.4 -61.2L18.6 -63.7L18.7 -65.6L19.5 -69.0L20.3 -71.9L21.4 -75.6L22.6 -79.7L23.9 -83.6L25.0 -87.0L25.7 -89.4L25.6 -89.8L25.3 -89.6L24.0 -87.5L22.2 -84.4L20.1 -80.8L17.9 -77.1L15.9 -73.7L14.3 -71.0L12.5 -67.7L11.5 -65.4L10.6 -62.8L9.8 -60.1L9.2 -57.1L8.4 -54.3L7.2 -51.5L5.6 -48.8L3.6 -45.9L1.2 -42.8L-1.3 -39.3L-3.6 -35.9L-6.3 -32.2L-9.0 -28.4L-11.3 -25.2L-13.0 -22.9ZM15.7 -65.1L18.7 -65.5L23.2 -66.0L28.1 -66.6L32.6 -67.1L35.6 -67.5L35.9 -67.7L35.6 -67.9L32.5 -68.0L28.1 -68.0L23.1 -68.1L18.6 -68.1L15.6 -68.1ZM1.6 -8.8L3.8 -9.5L6.9 -10.6L10.7 -11.8L14.9 -13.2L19.2 -14.7L23.6 -16.2L27.8 -17.7L31.5 -19.1L35.0 -20.6L40.0 -23.4L43.6 -26.7L45.2 -29.2L46.6 -31.2L48.5 -34.1L50.3 -37.3L52.2 -40.4L55.3 -43.9L57.6 -45.9L60.3 -48.0L63.4 -50.3L66.7 -52.5L70.2 -54.9L73.8 -57.4L77.5 -59.9L80.6 -62.0L84.1 -64.3L87.9 -66.8L91.7 -69.3L95.4 -71.7L99.0 -74.0L102.1 -76.1L104.8 -77.9L106.8 -79.2L107.0 -79.5L106.6 -79.6L104.4 -78.6L101.5 -77.2L98.1 -75.6L94.3 -73.7L90.3 -71.8L86.2 -69.8L82.1 -67.8L78.3 -65.9L75.0 -64.1L71.0 -62.0L67.2 -59.9L63.4 -57.8L59.9 -55.8L56.5 -53.8L53.3 -52.0L50.3 -50.1L45.9 -47.4L42.3 -44.9L39.3 -42.8L36.4 -40.8L33.8 -38.4L32.6 -36.8L32.0 -36.3L29.0 -35.4L26.9 -35.1L23.5 -34.7L19.5 -34.2L15.1 -33.8L10.7 -33.4L6.4 -33.1L2.4 -32.8L-0.9 -32.5L-3.4 -32.2ZM60.6 -50.5L61.0 -53.0L61.5 -56.6L62.0 -60.7L62.5 -64.8L62.7 -68.1L62.9 -71.9L63.1 -75.5L63.2 -78.7L63.2 -80.9L63.0 -81.2L62.8 -80.9L62.3 -78.8L61.7 -75.7L61.0 -72.1L60.2 -68.5L59.5 -65.2L58.6 -61.3L57.7 -57.3L56.8 -53.8L56.2 -51.3ZM84.3 -65.1L85.9 -67.7L88.2 -71.4L90.5 -75.1L92.1 -77.7L92.1 -78.0L91.7 -77.9L89.7 -75.7L86.8 -72.4L83.9 -69.2L81.9 -66.9ZM42.7 -34.6L44.6 -34.4L47.6 -33.9L51.4 -33.6L55.8 -33.6L59.5 -34.0L63.8 -34.5L68.5 -35.2L72.9 -35.9L76.7 -36.5L79.4 -37.0L79.7 -37.2L79.4 -37.4L76.7 -37.4L72.8 -37.3L68.3 -37.2L63.7 -37.2L59.4 -37.3L56.0 -37.6L52.3 -38.6L49.3 -39.9L47.0 -41.3L45.2 -42.2ZM64.3 -34.7L66.4 -36.0L69.5 -37.8L72.7 -39.6L74.8 -40.9L75.0 -41.2L74.6 -41.3L72.3 -40.4L68.9 -39.2L65.5 -37.9L63.2 -37.0ZM10.9 19.0L13.5 19.0L17.1 18.9L21.4 18.9L25.8 18.8L29.9 18.8L33.4 18.9L38.3 19.2L41.5 19.5L43.4 19.4L45.7 19.1L49.1 19.3L53.1 20.1L57.0 20.9L60.6 21.8L63.0 22.4L68.0 20.2L65.0 15.6L62.7 14.8L59.6 13.6L56.9 11.9L55.4 9.4L53.4 5.9L49.6 2.6L45.1 0.9L41.0 0.2L36.6 -0.9L33.5 -2.0L29.7 -3.4L25.5 -4.9L21.5 -6.4L18.1 -7.7L15.7 -8.6ZM5.1 8.2L5.9 10.4L6.9 13.5L8.2 17.2L9.6 21.4L11.2 25.8L12.7 30.2L14.3 34.6L15.8 38.6L17.1 42.2L18.4 45.4L20.7 50.3L23.0 53.8L25.3 56.0L27.6 57.8L30.6 59.9L34.1 62.2L37.8 64.3L41.3 66.3L44.5 68.2L47.5 70.1L50.0 71.5L52.4 73.2L55.7 75.9L57.8 77.8L60.2 80.2L62.7 82.7L65.4 85.5L68.1 88.4L70.9 91.3L73.5 94.1L76.0 96.8L78.6 99.6L81.3 102.5L84.0 105.5L86.7 108.5L89.2 111.4L91.5 113.9L93.4 116.0L94.8 117.7L95.2 117.7L95.2 117.3L94.0 115.6L92.3 113.2L90.4 110.4L88.3 107.3L86.0 104.0L83.6 100.6L81.2 97.4L79.0 94.4L76.6 91.4L74.2 88.4L71.7 85.3L69.1 82.2L66.6 79.2L64.2 76.4L61.9 73.9L59.9 71.6L56.7 68.3L54.1 66.0L51.9 64.2L49.3 61.8L46.8 59.3L43.9 56.4L41.0 53.4L38.5 50.7L36.4 48.2L34.2 46.0L33.3 45.3L32.7 44.5L31.6 40.6L31.1 38.2L30.5 34.7L29.9 30.7L29.3 26.2L28.8 21.6L28.2 17.1L27.7 12.8L27.2 8.9L26.8 5.6L26.5 3.1ZM49.8 69.1L52.1 68.9L55.3 68.7L59.1 68.3L63.0 67.9L66.8 67.3L70.5 66.6L74.5 65.6L78.4 64.6L81.7 63.7L84.1 63.0L84.3 62.7L83.9 62.6L81.5 62.9L78.1 63.4L74.2 64.0L70.2 64.5L66.4 64.9L62.8 65.0L58.9 65.1L55.1 65.1L51.9 65.1L49.6 65.1ZM62.6 67.7L64.7 68.3L67.8 69.2L71.4 70.2L75.3 71.2L79.2 72.0L83.0 72.3L86.7 72.2L90.7 71.6L94.7 70.7L98.4 69.8L101.5 69.1L103.8 68.5L104.0 68.2L103.7 68.1L101.4 68.5L98.3 69.1L94.5 69.8L90.5 70.4L86.6 70.8L83.0 70.9L79.5 70.3L75.7 69.4L72.0 68.3L68.4 67.0L65.5 66.0L63.3 65.3ZM82.1 102.5L84.9 103.4L89.0 104.6L93.5 105.9L97.6 107.1L100.4 107.9L100.8 107.8L100.6 107.5L97.9 106.4L93.9 104.9L89.5 103.2L85.5 101.7L82.8 100.6ZM9.7 19.7L9.2 22.0L8.4 25.4L7.5 29.6L6.4 34.1L5.5 38.6L4.7 42.8L4.1 46.9L4.0 52.2L4.8 56.6L5.8 59.6L6.8 61.9L8.6 65.4L10.7 68.3L12.0 70.5L12.4 72.6L12.3 75.0L12.0 77.6L12.0 80.7L12.0 82.8L14.2 86.0L17.0 83.2L17.4 81.3L18.0 78.4L18.6 76.2L19.5 73.3L20.0 69.5L19.9 65.5L19.5 61.8L19.2 58.1L18.5 55.3L17.7 53.2L17.4 51.7L17.9 49.1L18.9 47.1L20.6 43.9L22.6 40.3L24.9 36.6L27.0 33.0L28.9 30.0L30.2 27.7ZM12.9 81.7L11.5 83.8L9.5 86.7L7.2 89.9L4.7 92.6L1.6 95.0L-2.1 97.4L-5.5 99.4L-7.9 100.9L-8.1 101.2L-7.7 101.3L-5.2 100.1L-1.6 98.4L2.4 96.4L5.9 94.2L9.0 91.6L11.9 88.7L14.4 86.1L16.1 84.3ZM7.1 90.8L7.5 93.9L8.0 98.1L8.4 101.1L8.6 101.4L8.8 101.1L8.9 98.0L9.0 93.8L9.1 90.7ZM13.0 83.4L13.7 85.7L14.7 88.9L15.7 92.5L16.3 95.7L16.5 99.7L16.2 103.7L16.0 106.6L16.2 106.9L16.5 106.6L17.1 103.9L17.9 99.8L18.3 95.5L17.9 92.1L17.2 88.3L16.5 84.9L16.0 82.6ZM16.7 96.0L18.5 98.6L21.3 102.5L24.0 106.3L25.9 108.9L26.3 109.0L26.3 108.6L24.6 105.9L22.1 101.9L19.6 97.9L17.9 95.2ZM14.5 86.9L17.0 87.8L20.7 88.9L24.4 90.3L27.5 92.2L29.6 94.6L31.5 97.8L33.3 101.3L35.2 104.8L37.2 107.7L39.3 111.0L41.4 114.1L43.2 116.8L44.5 118.7L44.9 118.9L44.9 118.5L43.8 116.5L42.1 113.7L40.2 110.4L38.3 107.1L36.6 104.0L34.8 100.5L33.3 96.9L31.5 93.4L29.1 90.3L25.7 87.9L21.8 86.0L18.1 84.6L15.7 83.7ZM27.9 92.2L30.4 93.1L34.0 94.5L37.7 96.0L40.2 96.9L40.6 96.8L40.4 96.5L38.0 95.2L34.6 93.4L31.1 91.6L28.7 90.3ZM-21.5 15.8L-22.9 17.9L-24.9 20.9L-27.1 24.5L-29.5 28.2L-31.8 31.6L-33.8 34.5L-36.4 37.9L-38.6 40.6L-40.5 42.8L-42.1 44.7L-44.0 47.3L-46.0 49.9L-48.3 52.4L-50.5 54.3L-52.9 56.2L-56.9 59.2L-59.0 61.0L-61.5 62.9L-64.2 65.1L-67.1 67.4L-70.1 69.9L-73.2 72.4L-76.4 74.9L-79.5 77.4L-82.5 79.8L-85.8 82.4L-89.3 85.2L-92.8 88.0L-96.3 90.8L-99.5 93.4L-102.4 95.8L-104.9 97.7L-106.7 99.2L-106.8 99.6L-106.5 99.6L-104.5 98.3L-101.8 96.6L-98.7 94.6L-95.2 92.3L-91.5 89.9L-87.7 87.4L-84.0 85.0L-80.4 82.7L-77.3 80.6L-73.9 78.4L-70.5 76.1L-67.2 73.9L-63.9 71.7L-60.9 69.6L-58.0 67.7L-55.4 66.0L-53.1 64.6L-49.0 62.1L-46.4 60.8L-43.7 59.6L-40.4 58.4L-36.8 57.3L-32.9 55.3L-30.1 53.1L-27.7 50.7L-25.2 48.1L-22.2 45.5L-19.4 43.4L-16.1 40.9L-12.5 38.3L-9.1 35.9L-6.2 33.8L-4.1 32.3ZM-50.7 56.9L-53.1 56.7L-56.4 56.4L-60.2 56.1L-64.5 55.8L-68.8 55.3L-72.9 54.8L-76.5 54.1L-80.6 53.1L-84.9 51.8L-89.1 50.3L-93.0 48.9L-96.3 47.6L-98.7 46.8L-99.0 46.9L-98.8 47.2L-96.6 48.4L-93.5 50.0L-89.8 51.8L-85.7 53.8L-81.4 55.6L-77.3 57.1L-73.5 58.0L-69.3 58.8L-64.9 59.5L-60.7 60.1L-56.8 60.6L-53.5 61.0L-51.2 61.3ZM-73.9 55.1L-76.0 56.2L-78.8 57.7L-82.2 59.6L-86.1 61.7L-90.1 63.9L-94.3 66.1L-98.4 68.4L-102.2 70.4L-105.7 72.3L-108.5 73.8L-110.6 75.0L-110.8 75.3L-110.4 75.4L-108.2 74.4L-105.3 73.0L-101.8 71.4L-97.8 69.6L-93.6 67.6L-89.3 65.6L-85.1 63.6L-81.1 61.8L-77.6 60.1L-74.7 58.7L-72.5 57.7ZM-53.4 59.4L-53.1 61.5L-52.7 64.4L-52.2 67.7L-51.7 71.4L-51.2 75.4L-50.8 79.6L-50.5 83.8L-50.4 87.3L-50.3 91.3L-50.3 95.7L-50.3 100.2L-50.4 104.6L-50.4 108.8L-50.5 112.6L-50.5 115.7L-50.5 118.1L-50.3 118.4L-50.1 118.1L-49.8 115.8L-49.5 112.6L-49.1 108.9L-48.7 104.7L-48.2 100.3L-47.8 95.8L-47.4 91.4L-47.2 87.4L-47.0 83.7L-47.0 79.4L-47.1 75.1L-47.4 71.0L-47.7 67.2L-48.0 63.8L-48.3 61.0L-48.4 58.8ZM-50.6 72.2L-48.9 74.0L-46.3 76.5L-43.3 79.7L-41.1 82.2L-38.5 85.3L-35.8 88.5L-33.4 91.3L-31.8 93.3L-31.4 93.3L-31.4 92.9L-32.8 90.9L-34.9 87.8L-37.3 84.4L-39.6 81.1L-41.7 78.3L-44.4 74.8L-46.8 72.0L-48.4 70.2ZM-49.3 94.8L-52.1 95.6L-56.1 96.7L-59.0 97.6L-59.2 97.9L-58.8 98.0L-55.9 97.7L-51.8 97.1L-48.8 96.7ZM-50.0 96.1L-48.8 98.9L-47.1 103.1L-45.4 107.2L-44.2 110.1L-43.9 110.3L-43.8 109.9L-44.6 107.0L-45.9 102.7L-47.2 98.4L-48.1 95.4ZM-76.9 76.3L-77.3 78.6L-78.1 81.9L-78.9 85.8L-79.8 90.0L-80.6 94.4L-81.1 98.6L-81.2 102.5L-80.8 106.8L-79.9 111.1L-78.6 115.2L-77.4 119.0L-76.3 122.2L-75.5 124.5L-75.2 124.7L-75.1 124.3L-75.6 122.0L-76.4 118.7L-77.3 114.9L-78.1 110.7L-78.6 106.5L-78.8 102.5L-78.4 98.9L-77.7 94.9L-76.8 90.6L-75.8 86.5L-74.8 82.6L-74.0 79.4L-73.4 77.0ZM-80.5 106.1L-81.9 108.4L-84.0 111.7L-86.2 115.5L-88.2 118.8L-89.6 121.1L-89.6 121.5L-89.2 121.4L-87.6 119.2L-85.3 116.0L-82.8 112.5L-80.4 109.3L-78.9 107.2ZM-82.5 80.5L-83.8 82.6L-85.6 85.4L-87.8 88.8L-90.3 92.6L-92.8 96.5L-95.2 100.3L-97.4 103.7L-99.2 106.6L-100.5 108.6L-100.5 109.0L-100.1 108.9L-98.7 106.9L-96.7 104.2L-94.3 100.9L-91.6 97.3L-88.9 93.5L-86.3 89.9L-83.9 86.6L-81.9 83.9L-80.4 81.9ZM-8.4 -30.5L-10.3 -29.2L-12.9 -27.5L-15.9 -25.6L-19.3 -23.3L-22.9 -21.0L-26.6 -18.6L-30.3 -16.2L-33.8 -14.0L-37.0 -12.1L-39.7 -10.4L-41.5 -9.4L-45.3 -7.7L-45.9 -7.4L-45.6 -7.4L-45.9 -7.0L-47.7 -6.7L-50.7 -7.9L-54.9 -10.0L-58.0 -11.3L-60.9 -12.5L-64.7 -13.8L-69.9 -14.7L-72.9 -15.1L-76.4 -15.6L-80.4 -16.1L-84.6 -16.6L-89.0 -17.1L-93.3 -17.4L-97.6 -17.5L-101.7 -17.3L-105.5 -16.7L-109.8 -15.3L-113.6 -13.2L-117.1 -10.7L-120.3 -8.1L-123.3 -5.6L-126.2 -3.5L-129.1 -1.9L-132.5 -0.5L-136.0 0.4L-139.4 1.1L-142.9 1.7L-146.5 2.2L-150.2 2.9L-153.6 3.6L-157.4 4.3L-161.4 5.0L-165.2 5.7L-168.7 6.3L-171.6 6.9L-173.8 7.3L-174.0 7.5L-173.7 7.7L-171.5 7.5L-168.6 7.2L-165.0 6.8L-161.2 6.4L-157.2 6.0L-153.3 5.5L-149.8 5.1L-146.1 4.6L-142.5 4.3L-139.0 3.9L-135.3 3.4L-131.6 2.5L-127.7 1.3L-124.3 -0.4L-121.0 -2.6L-117.9 -5.0L-114.7 -7.4L-111.4 -9.5L-108.1 -11.1L-104.5 -12.1L-101.4 -12.4L-97.7 -12.3L-93.7 -12.0L-89.6 -11.5L-85.4 -10.8L-81.4 -10.1L-77.6 -9.3L-74.1 -8.5L-71.3 -7.8L-66.9 -6.5L-64.4 -5.2L-62.6 -3.7L-61.1 -2.0L-59.6 0.9L-57.9 5.1L-54.1 9.0L-50.1 10.8L-45.6 11.6L-40.3 10.9L-34.5 9.4L-31.3 8.3L-27.9 7.1L-24.1 5.7L-20.0 4.1L-15.8 2.5L-11.6 0.8L-7.6 -0.8L-3.8 -2.3L-0.5 -3.6L2.3 -4.7L4.4 -5.5ZM-103.8 -16.0L-105.6 -17.2L-108.2 -18.9L-111.2 -20.9L-114.3 -23.0L-117.2 -25.0L-120.3 -27.1L-123.5 -29.4L-126.7 -31.6L-129.5 -33.5L-131.4 -34.9L-131.8 -34.9L-131.8 -34.5L-130.0 -32.9L-127.5 -30.7L-124.6 -28.1L-121.5 -25.4L-118.8 -23.0L-116.0 -20.7L-113.1 -18.3L-110.3 -16.1L-107.9 -14.2L-106.2 -12.8ZM-79.3 -14.3L-80.9 -16.3L-83.2 -19.1L-86.0 -22.3L-88.9 -25.4L-91.7 -27.9L-95.4 -30.0L-99.2 -31.5L-102.6 -32.6L-104.9 -33.3L-105.3 -33.2L-105.1 -32.9L-102.9 -31.8L-99.8 -30.2L-96.3 -28.3L-93.3 -25.9L-91.0 -23.4L-88.5 -20.2L-86.0 -16.9L-83.9 -13.9L-82.4 -11.9ZM-114.2 -11.9L-114.9 -9.8L-115.8 -7.1L-116.9 -3.8L-118.2 -0.1L-119.4 3.9L-120.7 7.9L-121.8 11.8L-122.7 15.5L-123.7 19.6L-124.7 24.0L-125.7 28.3L-126.6 32.5L-127.4 36.3L-128.1 39.5L-128.6 41.8L-128.5 42.2L-128.2 42.0L-127.5 39.6L-126.6 36.5L-125.5 32.8L-124.3 28.7L-123.0 24.4L-121.8 20.2L-120.5 16.1L-119.4 12.6L-118.1 8.7L-116.7 4.8L-115.3 0.9L-113.9 -2.7L-112.7 -6.0L-111.7 -8.7L-110.9 -10.8ZM-123.4 19.2L-125.4 21.2L-128.3 24.1L-131.5 27.4L-134.4 30.3L-136.4 32.3L-136.5 32.7L-136.1 32.7L-133.9 30.8L-130.8 28.1L-127.3 25.2L-124.2 22.5L-122.1 20.6ZM-138.7 1.6L-141.0 0.6L-144.4 -1.0L-147.9 -2.6L-150.2 -3.6L-150.6 -3.5L-150.4 -3.2L-148.2 -1.8L-145.0 0.1L-141.8 2.1L-139.6 3.4ZM-48.9 -1.8L-51.3 -2.7L-54.8 -4.2L-59.1 -5.8L-63.8 -6.8L-68.6 -6.4L-72.3 -4.6L-75.4 -1.9L-78.4 1.1L-81.3 4.3L-84.1 7.1L-87.0 9.3L-90.2 11.0L-93.9 12.5L-97.8 13.9L-101.4 15.0L-104.5 15.9L-106.7 16.7L-106.9 17.0L-106.5 17.1L-104.3 16.7L-101.1 16.1L-97.4 15.4L-93.3 14.6L-89.3 13.4L-85.5 11.9L-82.0 9.7L-78.7 7.0L-75.5 4.1L-72.5 1.4L-69.8 -0.6L-67.4 -1.6L-64.4 -1.5L-60.7 -0.5L-57.0 1.1L-53.6 2.7L-51.1 3.8ZM-87.4 10.1L-88.4 12.6L-89.9 16.2L-91.6 20.4L-93.3 24.7L-94.8 28.3L-95.8 30.8L-95.7 31.2L-95.4 31.0L-94.1 28.6L-92.3 25.1L-90.2 21.1L-88.2 17.0L-86.3 13.5L-85.1 11.1ZM-61.6 -3.8L-62.3 -1.1L-63.3 2.8L-64.5 7.1L-65.5 11.0L-66.2 13.7L-66.1 14.0L-65.8 13.8L-64.6 11.3L-62.9 7.7L-61.1 3.6L-59.4 -0.1L-58.3 -2.6ZM-6.6 -19.2L-8.8 -20.8L-11.8 -23.1L-15.3 -25.8L-18.9 -28.6L-22.3 -31.4L-24.9 -33.7L-27.7 -36.3L-30.4 -39.0L-33.3 -41.7L-36.1 -44.3L-38.8 -46.7L-41.9 -49.2L-44.9 -51.6L-47.9 -53.8L-51.1 -55.9L-54.5 -57.8L-58.9 -59.2L-63.1 -59.9L-66.7 -60.4L-69.5 -61.1L-72.2 -62.2L-74.1 -63.4L-76.4 -65.9L-78.0 -68.1L-79.6 -70.8L-81.4 -74.0L-83.6 -77.9L-86.3 -82.4L-88.0 -85.2L-90.0 -88.4L-92.2 -92.0L-94.6 -95.7L-97.0 -99.5L-99.3 -103.3L-101.5 -106.8L-103.5 -109.9L-105.1 -112.5L-106.4 -114.5L-106.7 -114.7L-106.8 -114.3L-105.7 -112.2L-104.3 -109.5L-102.6 -106.2L-100.7 -102.5L-98.6 -98.6L-96.5 -94.6L-94.5 -90.7L-92.5 -87.0L-90.8 -83.6L-89.3 -80.8L-87.0 -76.1L-85.2 -72.1L-83.6 -68.7L-82.1 -65.7L-80.4 -62.9L-77.8 -59.6L-75.0 -57.4L-71.7 -55.5L-68.3 -54.2L-64.7 -53.1L-61.4 -51.9L-58.7 -50.2L-57.0 -48.4L-55.1 -46.2L-53.3 -43.5L-51.3 -40.5L-49.2 -37.3L-47.4 -34.6L-45.5 -31.6L-43.6 -28.4L-41.6 -25.1L-39.6 -21.8L-37.7 -18.6L-35.4 -14.7L-33.1 -10.6L-31.0 -6.6L-29.2 -3.3L-27.9 -1.0ZM-53.8 -55.0L-54.6 -57.0L-55.6 -59.6L-56.9 -62.6L-58.3 -66.0L-59.7 -69.7L-61.1 -73.6L-62.5 -77.4L-63.5 -80.7L-64.7 -84.5L-65.9 -88.6L-67.1 -92.9L-68.3 -97.0L-69.5 -101.0L-70.5 -104.5L-71.3 -107.5L-72.0 -109.8L-72.3 -110.0L-72.4 -109.6L-72.0 -107.4L-71.5 -104.3L-70.9 -100.7L-70.2 -96.6L-69.4 -92.3L-68.7 -88.0L-67.9 -83.8L-67.1 -79.8L-66.3 -76.4L-65.3 -72.3L-64.2 -68.2L-63.0 -64.4L-61.9 -60.8L-60.9 -57.6L-60.0 -55.0L-59.4 -53.0ZM-62.0 -73.7L-63.4 -75.7L-65.5 -78.7L-68.0 -82.1L-70.6 -85.7L-73.1 -89.2L-75.2 -92.1L-76.7 -94.1L-77.1 -94.3L-77.1 -93.9L-75.9 -91.7L-74.1 -88.6L-71.9 -84.9L-69.7 -81.0L-67.5 -77.4L-65.7 -74.3L-64.5 -72.1ZM-88.1 -84.4L-88.3 -87.1L-88.4 -91.0L-88.6 -95.5L-88.8 -100.0L-89.0 -103.9L-89.2 -106.6L-89.4 -106.9L-89.6 -106.6L-89.8 -103.9L-89.9 -100.0L-90.1 -95.5L-90.3 -91.0L-90.5 -87.1L-90.6 -84.4ZM-87.5 -82.6L-90.1 -83.2L-93.9 -84.1L-97.6 -85.1L-100.2 -85.7L-100.6 -85.6L-100.4 -85.3L-97.9 -84.3L-94.2 -83.0L-90.6 -81.6L-88.1 -80.6ZM-75.7 -63.5L-78.2 -63.7L-81.5 -64.0L-85.6 -64.3L-90.0 -64.7L-94.6 -65.0L-99.0 -65.3L-103.1 -65.6L-106.6 -65.6L-111.2 -65.5L-115.3 -65.1L-118.8 -64.6L-121.7 -64.2L-123.8 -63.8L-124.0 -63.6L-123.7 -63.4L-121.6 -63.4L-118.7 -63.5L-115.2 -63.5L-111.2 -63.4L-106.6 -63.2L-103.3 -62.8L-99.3 -62.4L-94.9 -61.9L-90.4 -61.3L-86.0 -60.7L-81.9 -60.2L-78.6 -59.8L-76.1 -59.5ZM-106.0 -65.2L-108.3 -66.8L-111.7 -69.2L-115.0 -71.6L-117.3 -73.2L-117.7 -73.2L-117.7 -72.8L-115.5 -70.9L-112.4 -68.2L-109.3 -65.5L-107.2 -63.6Z"/></g>
<path class="nb" d="M360.7 119.8L362.6 121.0L365.2 122.7L368.5 124.8L372.2 127.1L376.1 129.1L380.2 130.8L384.6 131.7L389.2 131.5L393.3 130.3L396.9 128.6L400.1 126.7L403.1 125.1L406.0 123.9L409.3 123.1L413.0 122.6L417.0 122.1L421.2 121.4L425.5 120.1L429.4 117.9L432.5 115.3L435.3 112.3L437.9 109.0L440.2 105.5L442.3 101.9L444.1 98.4L445.5 94.9L446.8 91.1L447.5 87.4L447.9 83.6L448.0 79.9L447.8 76.2L447.5 72.3L447.1 68.8L446.4 65.0L445.6 61.1L444.6 57.3L443.6 53.6L442.6 50.1L441.7 47.0L440.4 43.2L438.9 39.8L437.5 36.8L436.2 34.1L435.0 31.6L433.3 27.7L431.8 24.4L430.8 22.1L429.6 21.5L429.2 22.9L430.1 25.1L431.5 28.4L433.0 32.4L434.0 35.0L435.1 37.8L436.2 40.9L437.3 44.2L438.3 48.0L439.0 51.1L439.8 54.5L440.6 58.2L441.3 62.0L441.9 65.7L442.3 69.3L442.5 72.7L442.5 76.3L442.4 79.8L442.1 83.1L441.6 86.3L440.7 89.4L439.5 92.6L438.1 95.5L436.4 98.7L434.5 101.9L432.4 105.0L430.1 107.9L427.8 110.3L425.6 112.1L422.8 113.5L419.7 114.3L416.1 114.8L412.2 115.1L408.1 115.5L404.0 116.1L400.0 117.2L396.4 118.4L393.1 119.6L390.2 120.4L387.7 120.8L385.4 120.8L383.2 120.4L380.1 119.4L376.5 118.1L372.9 116.5L369.5 115.0L366.5 113.6L364.3 112.7ZM441.1 48.5L443.1 46.1L445.8 42.8L448.7 39.9L451.9 37.7L455.4 35.8L457.9 34.5L458.4 33.3L457.1 33.0L454.6 34.2L450.9 36.0L447.3 38.1L444.0 41.0L441.0 44.3L438.9 46.5ZM445.6 67.3L443.4 66.2L440.2 64.7L436.5 63.0L432.6 61.1L428.8 59.4L425.5 57.9L421.9 56.3L418.3 54.9L415.1 53.6L412.3 52.5L410.3 51.8L409.1 52.1L409.7 53.2L411.6 54.1L414.3 55.3L417.5 56.8L421.0 58.4L424.5 60.1L427.6 61.8L431.3 63.8L435.0 65.9L438.6 67.9L441.6 69.6L443.8 70.8ZM436.6 109.3L438.6 107.9L441.5 105.9L444.8 103.4L448.2 100.9L451.1 98.4L453.5 96.1L455.8 93.8L457.9 91.5L460.0 88.8L462.3 85.7L464.1 83.0L466.0 79.7L468.1 76.2L470.0 72.7L471.8 69.5L473.3 66.8L474.4 64.8L474.2 63.6L473.1 64.0L471.9 65.9L470.3 68.6L468.4 71.8L466.3 75.2L464.2 78.6L462.1 81.7L460.2 84.3L457.9 87.1L455.8 89.6L453.6 91.7L451.4 93.7L448.9 95.6L445.9 97.7L442.4 99.8L438.9 101.8L435.8 103.5L433.6 104.7ZM425.8 114.9L423.9 113.4L421.4 111.4L418.4 109.0L415.1 106.4L411.7 103.9L408.6 101.7L405.7 99.9L401.3 98.2L397.1 97.3L393.7 97.0L391.4 96.7L390.3 97.3L391.1 98.3L393.4 98.8L396.7 99.5L400.4 100.6L404.3 102.6L406.7 104.3L409.5 106.7L412.6 109.4L415.6 112.2L418.4 114.8L420.8 117.1L422.5 118.7ZM424.5 116.8L425.7 118.6L427.5 121.4L429.6 124.7L432.0 127.9L434.4 130.5L437.2 132.7L440.0 134.5L443.3 135.7L447.3 136.5L450.6 136.6L454.5 136.5L458.6 136.1L462.7 135.7L466.6 135.3L470.1 135.0L474.7 134.7L479.0 134.4L482.5 134.1L485.1 133.9L486.0 133.0L484.9 132.3L482.4 132.4L478.9 132.6L474.6 132.8L469.9 133.0L466.5 133.2L462.5 133.5L458.4 133.8L454.4 133.9L450.7 133.9L447.7 133.5L444.4 132.5L442.0 131.1L440.1 129.3L438.1 127.0L436.4 124.7L434.7 121.6L433.0 118.3L431.6 115.3L430.5 113.2ZM443.0 135.6L445.0 136.7L447.9 138.3L451.2 140.1L454.8 142.1L458.3 144.1L461.4 145.9L464.9 148.2L468.6 150.8L472.0 153.2L474.9 155.4L477.0 156.9L478.3 156.8L478.0 155.6L475.9 154.0L473.1 151.8L469.7 149.3L466.1 146.6L462.6 144.1L459.5 142.0L456.1 139.8L452.7 137.6L449.4 135.6L446.7 133.9L444.7 132.6ZM379.5 125.6L379.6 128.4L379.8 132.5L380.0 136.9L380.3 140.2L380.6 143.5L381.0 146.9L381.5 150.5L382.3 154.5L383.1 158.9L384.0 162.8L384.5 165.5L388.1 168.5L390.5 164.5L390.1 161.7L389.5 157.8L388.9 153.4L388.5 149.5L388.2 146.2L388.0 142.9L387.9 139.9L388.0 137.1L388.7 133.2L389.7 129.5L390.5 126.9ZM383.6 156.2L385.5 157.7L388.1 159.8L391.4 162.4L395.1 164.8L399.2 166.8L402.4 167.9L405.9 168.8L409.5 169.6L413.3 170.3L417.0 170.9L420.5 171.3L423.7 171.5L427.5 171.5L430.9 171.1L434.0 170.4L437.0 169.7L440.2 169.1L443.9 168.4L447.9 167.7L451.9 166.9L455.2 166.3L457.6 165.8L458.4 164.8L457.4 164.2L455.0 164.6L451.5 165.2L447.6 165.8L443.5 166.4L439.8 166.9L436.6 167.4L433.5 168.0L430.6 168.4L427.4 168.7L423.8 168.5L420.8 168.2L417.5 167.7L413.9 167.0L410.3 166.2L406.8 165.3L403.6 164.3L400.8 163.2L397.5 161.2L394.4 158.6L391.6 155.9L389.3 153.4L387.6 151.7ZM419.7 170.9L422.2 172.7L425.8 175.4L429.3 177.9L432.7 180.2L436.0 182.3L438.3 183.8L439.5 183.6L439.2 182.4L437.0 180.8L433.8 178.5L430.7 176.1L427.3 173.4L424.0 170.5L421.6 168.5ZM385.6 166.6L387.1 168.4L389.2 170.9L391.7 173.9L394.5 177.2L397.5 180.5L400.6 183.7L403.7 186.5L406.8 189.0L410.1 191.4L413.6 193.7L417.0 195.9L420.5 197.9L423.7 199.7L426.8 201.3L430.8 203.1L434.6 204.5L438.2 205.5L441.5 206.3L444.7 207.1L448.8 208.0L452.8 208.7L456.2 209.2L458.6 209.5L459.7 208.9L458.9 208.0L456.5 207.5L453.1 206.8L449.2 206.0L445.3 204.9L442.1 204.0L438.9 203.1L435.5 201.9L431.9 200.5L428.2 198.7L425.3 197.0L422.1 195.1L418.9 193.0L415.6 190.8L412.3 188.4L409.2 186.0L406.3 183.5L403.6 180.8L400.7 177.6L397.9 174.3L395.3 171.0L392.9 167.9L390.9 165.3L389.4 163.4ZM426.1 200.4L426.7 202.6L427.6 205.6L428.7 209.2L430.0 213.1L431.5 216.7L433.1 219.8L435.0 223.1L437.0 226.5L439.0 229.6L440.6 232.3L441.8 234.2L443.0 234.6L443.2 233.3L442.1 231.4L440.5 228.7L438.6 225.5L436.7 222.2L434.9 218.8L433.5 215.8L432.2 212.3L431.1 208.5L430.2 204.9L429.5 201.8L428.9 199.6ZM385.0 164.9L385.0 167.6L385.0 171.3L385.0 175.7L385.1 180.4L385.3 185.0L385.8 188.9L386.4 192.9L387.2 196.4L388.3 199.7L389.6 203.1L391.4 206.8L393.1 209.9L395.3 213.3L397.6 216.8L400.1 220.2L402.3 223.4L404.2 226.0L405.6 227.9L406.8 228.3L406.9 227.1L405.6 225.1L403.8 222.4L401.7 219.1L399.4 215.6L397.1 212.1L395.1 208.7L393.6 205.7L392.1 202.1L391.0 198.8L390.2 195.7L389.7 192.3L389.2 188.6L389.1 184.8L389.1 180.4L389.3 175.8L389.6 171.5L389.9 167.7L390.0 165.1ZM389.7 201.7L387.8 204.3L385.2 208.0L383.0 211.5L381.3 215.6L380.5 218.5L380.9 219.7L382.0 219.0L383.1 216.3L385.0 212.5L387.2 209.4L390.0 206.0L392.1 203.5ZM386.3 178.6L384.1 179.7L381.2 181.2L377.7 183.0L374.1 184.7L370.8 186.1L367.7 187.0L364.5 187.6L361.2 188.2L357.9 189.0L354.6 190.2L351.2 192.1L347.6 194.5L344.3 196.9L341.5 199.1L339.5 200.6L339.2 201.8L340.5 201.9L342.5 200.5L345.4 198.4L348.7 196.1L352.2 193.9L355.4 192.3L358.5 191.3L361.7 190.7L364.9 190.2L368.3 189.7L371.7 188.9L375.3 187.7L379.1 186.1L382.7 184.6L385.8 183.2L388.0 182.2ZM369.0 187.2L367.2 185.8L364.6 183.6L361.6 181.2L358.5 178.9L355.5 177.0L351.9 175.5L348.2 174.3L345.0 173.5L342.7 173.0L341.6 173.5L342.3 174.5L344.5 175.2L347.7 176.1L351.2 177.3L354.5 179.0L357.1 180.8L360.0 183.2L362.8 185.7L365.3 188.0L367.0 189.5Z"/>
<g filter="url(#goo)"><path class="nb" d="M360.7 119.8L362.6 121.0L365.2 122.7L368.5 124.8L372.2 127.1L376.1 129.1L380.2 130.8L384.6 131.7L389.2 131.5L393.3 130.3L396.9 128.6L400.1 126.7L403.1 125.1L406.0 123.9L409.3 123.1L413.0 122.6L417.0 122.1L421.2 121.4L425.5 120.1L429.4 117.9L432.5 115.3L435.3 112.3L437.9 109.0L440.2 105.5L442.3 101.9L444.1 98.4L445.5 94.9L446.8 91.1L447.5 87.4L447.9 83.6L448.0 79.9L447.8 76.2L447.5 72.3L447.1 68.8L446.4 65.0L445.6 61.1L444.6 57.3L443.6 53.6L442.6 50.1L441.7 47.0L440.4 43.2L438.9 39.8L437.5 36.8L436.2 34.1L435.0 31.6L433.3 27.7L431.8 24.4L430.8 22.1L429.6 21.5L429.2 22.9L430.1 25.1L431.5 28.4L433.0 32.4L434.0 35.0L435.1 37.8L436.2 40.9L437.3 44.2L438.3 48.0L439.0 51.1L439.8 54.5L440.6 58.2L441.3 62.0L441.9 65.7L442.3 69.3L442.5 72.7L442.5 76.3L442.4 79.8L442.1 83.1L441.6 86.3L440.7 89.4L439.5 92.6L438.1 95.5L436.4 98.7L434.5 101.9L432.4 105.0L430.1 107.9L427.8 110.3L425.6 112.1L422.8 113.5L419.7 114.3L416.1 114.8L412.2 115.1L408.1 115.5L404.0 116.1L400.0 117.2L396.4 118.4L393.1 119.6L390.2 120.4L387.7 120.8L385.4 120.8L383.2 120.4L380.1 119.4L376.5 118.1L372.9 116.5L369.5 115.0L366.5 113.6L364.3 112.7ZM441.1 48.5L443.1 46.1L445.8 42.8L448.7 39.9L451.9 37.7L455.4 35.8L457.9 34.5L458.4 33.3L457.1 33.0L454.6 34.2L450.9 36.0L447.3 38.1L444.0 41.0L441.0 44.3L438.9 46.5ZM445.6 67.3L443.4 66.2L440.2 64.7L436.5 63.0L432.6 61.1L428.8 59.4L425.5 57.9L421.9 56.3L418.3 54.9L415.1 53.6L412.3 52.5L410.3 51.8L409.1 52.1L409.7 53.2L411.6 54.1L414.3 55.3L417.5 56.8L421.0 58.4L424.5 60.1L427.6 61.8L431.3 63.8L435.0 65.9L438.6 67.9L441.6 69.6L443.8 70.8ZM436.6 109.3L438.6 107.9L441.5 105.9L444.8 103.4L448.2 100.9L451.1 98.4L453.5 96.1L455.8 93.8L457.9 91.5L460.0 88.8L462.3 85.7L464.1 83.0L466.0 79.7L468.1 76.2L470.0 72.7L471.8 69.5L473.3 66.8L474.4 64.8L474.2 63.6L473.1 64.0L471.9 65.9L470.3 68.6L468.4 71.8L466.3 75.2L464.2 78.6L462.1 81.7L460.2 84.3L457.9 87.1L455.8 89.6L453.6 91.7L451.4 93.7L448.9 95.6L445.9 97.7L442.4 99.8L438.9 101.8L435.8 103.5L433.6 104.7ZM425.8 114.9L423.9 113.4L421.4 111.4L418.4 109.0L415.1 106.4L411.7 103.9L408.6 101.7L405.7 99.9L401.3 98.2L397.1 97.3L393.7 97.0L391.4 96.7L390.3 97.3L391.1 98.3L393.4 98.8L396.7 99.5L400.4 100.6L404.3 102.6L406.7 104.3L409.5 106.7L412.6 109.4L415.6 112.2L418.4 114.8L420.8 117.1L422.5 118.7ZM424.5 116.8L425.7 118.6L427.5 121.4L429.6 124.7L432.0 127.9L434.4 130.5L437.2 132.7L440.0 134.5L443.3 135.7L447.3 136.5L450.6 136.6L454.5 136.5L458.6 136.1L462.7 135.7L466.6 135.3L470.1 135.0L474.7 134.7L479.0 134.4L482.5 134.1L485.1 133.9L486.0 133.0L484.9 132.3L482.4 132.4L478.9 132.6L474.6 132.8L469.9 133.0L466.5 133.2L462.5 133.5L458.4 133.8L454.4 133.9L450.7 133.9L447.7 133.5L444.4 132.5L442.0 131.1L440.1 129.3L438.1 127.0L436.4 124.7L434.7 121.6L433.0 118.3L431.6 115.3L430.5 113.2ZM443.0 135.6L445.0 136.7L447.9 138.3L451.2 140.1L454.8 142.1L458.3 144.1L461.4 145.9L464.9 148.2L468.6 150.8L472.0 153.2L474.9 155.4L477.0 156.9L478.3 156.8L478.0 155.6L475.9 154.0L473.1 151.8L469.7 149.3L466.1 146.6L462.6 144.1L459.5 142.0L456.1 139.8L452.7 137.6L449.4 135.6L446.7 133.9L444.7 132.6ZM379.5 125.6L379.6 128.4L379.8 132.5L380.0 136.9L380.3 140.2L380.6 143.5L381.0 146.9L381.5 150.5L382.3 154.5L383.1 158.9L384.0 162.8L384.5 165.5L388.1 168.5L390.5 164.5L390.1 161.7L389.5 157.8L388.9 153.4L388.5 149.5L388.2 146.2L388.0 142.9L387.9 139.9L388.0 137.1L388.7 133.2L389.7 129.5L390.5 126.9ZM383.6 156.2L385.5 157.7L388.1 159.8L391.4 162.4L395.1 164.8L399.2 166.8L402.4 167.9L405.9 168.8L409.5 169.6L413.3 170.3L417.0 170.9L420.5 171.3L423.7 171.5L427.5 171.5L430.9 171.1L434.0 170.4L437.0 169.7L440.2 169.1L443.9 168.4L447.9 167.7L451.9 166.9L455.2 166.3L457.6 165.8L458.4 164.8L457.4 164.2L455.0 164.6L451.5 165.2L447.6 165.8L443.5 166.4L439.8 166.9L436.6 167.4L433.5 168.0L430.6 168.4L427.4 168.7L423.8 168.5L420.8 168.2L417.5 167.7L413.9 167.0L410.3 166.2L406.8 165.3L403.6 164.3L400.8 163.2L397.5 161.2L394.4 158.6L391.6 155.9L389.3 153.4L387.6 151.7ZM419.7 170.9L422.2 172.7L425.8 175.4L429.3 177.9L432.7 180.2L436.0 182.3L438.3 183.8L439.5 183.6L439.2 182.4L437.0 180.8L433.8 178.5L430.7 176.1L427.3 173.4L424.0 170.5L421.6 168.5ZM385.6 166.6L387.1 168.4L389.2 170.9L391.7 173.9L394.5 177.2L397.5 180.5L400.6 183.7L403.7 186.5L406.8 189.0L410.1 191.4L413.6 193.7L417.0 195.9L420.5 197.9L423.7 199.7L426.8 201.3L430.8 203.1L434.6 204.5L438.2 205.5L441.5 206.3L444.7 207.1L448.8 208.0L452.8 208.7L456.2 209.2L458.6 209.5L459.7 208.9L458.9 208.0L456.5 207.5L453.1 206.8L449.2 206.0L445.3 204.9L442.1 204.0L438.9 203.1L435.5 201.9L431.9 200.5L428.2 198.7L425.3 197.0L422.1 195.1L418.9 193.0L415.6 190.8L412.3 188.4L409.2 186.0L406.3 183.5L403.6 180.8L400.7 177.6L397.9 174.3L395.3 171.0L392.9 167.9L390.9 165.3L389.4 163.4ZM426.1 200.4L426.7 202.6L427.6 205.6L428.7 209.2L430.0 213.1L431.5 216.7L433.1 219.8L435.0 223.1L437.0 226.5L439.0 229.6L440.6 232.3L441.8 234.2L443.0 234.6L443.2 233.3L442.1 231.4L440.5 228.7L438.6 225.5L436.7 222.2L434.9 218.8L433.5 215.8L432.2 212.3L431.1 208.5L430.2 204.9L429.5 201.8L428.9 199.6ZM385.0 164.9L385.0 167.6L385.0 171.3L385.0 175.7L385.1 180.4L385.3 185.0L385.8 188.9L386.4 192.9L387.2 196.4L388.3 199.7L389.6 203.1L391.4 206.8L393.1 209.9L395.3 213.3L397.6 216.8L400.1 220.2L402.3 223.4L404.2 226.0L405.6 227.9L406.8 228.3L406.9 227.1L405.6 225.1L403.8 222.4L401.7 219.1L399.4 215.6L397.1 212.1L395.1 208.7L393.6 205.7L392.1 202.1L391.0 198.8L390.2 195.7L389.7 192.3L389.2 188.6L389.1 184.8L389.1 180.4L389.3 175.8L389.6 171.5L389.9 167.7L390.0 165.1ZM389.7 201.7L387.8 204.3L385.2 208.0L383.0 211.5L381.3 215.6L380.5 218.5L380.9 219.7L382.0 219.0L383.1 216.3L385.0 212.5L387.2 209.4L390.0 206.0L392.1 203.5ZM386.3 178.6L384.1 179.7L381.2 181.2L377.7 183.0L374.1 184.7L370.8 186.1L367.7 187.0L364.5 187.6L361.2 188.2L357.9 189.0L354.6 190.2L351.2 192.1L347.6 194.5L344.3 196.9L341.5 199.1L339.5 200.6L339.2 201.8L340.5 201.9L342.5 200.5L345.4 198.4L348.7 196.1L352.2 193.9L355.4 192.3L358.5 191.3L361.7 190.7L364.9 190.2L368.3 189.7L371.7 188.9L375.3 187.7L379.1 186.1L382.7 184.6L385.8 183.2L388.0 182.2ZM369.0 187.2L367.2 185.8L364.6 183.6L361.6 181.2L358.5 178.9L355.5 177.0L351.9 175.5L348.2 174.3L345.0 173.5L342.7 173.0L341.6 173.5L342.3 174.5L344.5 175.2L347.7 176.1L351.2 177.3L354.5 179.0L357.1 180.8L360.0 183.2L362.8 185.7L365.3 188.0L367.0 189.5Z"/></g>
<ellipse class="nb" cx="430.0" cy="22.5" rx="3.9" ry="2.9" transform="rotate(-113 430.0 22.5)"/>
<ellipse class="nb" cx="457.5" cy="33.8" rx="3.9" ry="2.9" transform="rotate(-29 457.5 33.8)"/>
<ellipse class="nb" cx="410.0" cy="52.5" rx="3.9" ry="2.9" transform="rotate(-157 410.0 52.5)"/>
<ellipse class="nb" cx="473.8" cy="64.4" rx="3.9" ry="2.9" transform="rotate(-59 473.8 64.4)"/>
<ellipse class="nb" cx="391.2" cy="97.5" rx="3.9" ry="2.9" transform="rotate(-165 391.2 97.5)"/>
<ellipse class="nb" cx="485.0" cy="133.1" rx="3.9" ry="2.9" transform="rotate(-3 485.0 133.1)"/>
<ellipse class="nb" cx="477.5" cy="156.2" rx="3.9" ry="2.9" transform="rotate(36 477.5 156.2)"/>
<ellipse class="nb" cx="457.5" cy="165.0" rx="3.9" ry="2.9" transform="rotate(-10 457.5 165.0)"/>
<ellipse class="nb" cx="438.8" cy="183.1" rx="3.9" ry="2.9" transform="rotate(35 438.8 183.1)"/>
<ellipse class="nb" cx="458.8" cy="208.8" rx="3.9" ry="2.9" transform="rotate(11 458.8 208.8)"/>
<ellipse class="nb" cx="442.5" cy="233.8" rx="3.9" ry="2.9" transform="rotate(60 442.5 233.8)"/>
<ellipse class="nb" cx="406.2" cy="227.5" rx="3.9" ry="2.9" transform="rotate(57 406.2 227.5)"/>
<ellipse class="nb" cx="381.2" cy="218.8" rx="3.9" ry="2.9" transform="rotate(112 381.2 218.8)"/>
<ellipse class="nb" cx="340.0" cy="201.2" rx="3.9" ry="2.9" transform="rotate(146 340.0 201.2)"/>
<ellipse class="nb" cx="342.5" cy="173.8" rx="3.9" ry="2.9" transform="rotate(-161 342.5 173.8)"/>
<rect class="my" x="59.1" y="15.8" width="69" height="23" rx="5.5" transform="rotate(10.3 93.6 27.3)"/>
<rect class="my" x="139.2" y="31.6" width="69" height="23" rx="5.5" transform="rotate(15 173.7 43.1)"/>
<rect class="my" x="221.8" y="55.7" width="69" height="23" rx="5.5" transform="rotate(22 256.3 67.2)"/>
<rect class="my" x="296.6" y="91.6" width="69" height="23" rx="5.5" transform="rotate(28 331.1 103.1)"/>
<circle class="nr" cx="0" cy="0" r="21.5"/>
<ellipse class="nn" cx="0.3" cy="0" rx="13" ry="10.5" transform="rotate(25)"/>
</g>
<g id="brainL">
<path d="M631.3 380.0L629.9 378.4L628.1 376.6L626.0 374.8L623.7 373.1L621.2 371.5L618.7 370.1L616.2 368.9L613.8 368.0L611.1 367.4L608.4 367.1L605.6 367.0L602.8 367.3L600.0 367.7L597.0 368.3L594.1 369.1L591.7 369.9L589.1 370.8L586.4 371.9L583.7 373.2L581.0 374.5L578.4 375.8L576.1 377.2L574.0 378.6L572.2 380.0L570.0 382.6L568.7 385.5L567.8 388.4L567.0 391.0L565.6 393.1L563.2 394.6L560.6 395.2L557.7 395.8L554.7 397.5L552.9 399.1L550.8 400.9L548.7 403.1L546.6 405.4L544.7 407.8L543.0 410.3L541.6 412.8L540.7 415.5L540.1 418.4L539.7 421.5L539.5 424.6L539.3 427.5L538.9 430.2L538.3 432.5L536.6 435.3L534.4 437.0L532.3 438.7L530.6 441.3L529.8 443.7L529.3 446.5L528.9 449.5L528.5 452.6L528.0 455.8L527.3 458.8L526.5 461.3L525.5 463.8L524.5 466.3L523.4 468.8L522.4 471.3L521.5 473.8L520.8 476.3L520.3 479.3L519.9 482.3L519.7 485.3L519.6 488.3L519.6 491.1L519.7 493.8L520.0 496.5L520.4 498.7L521.0 500.9L521.5 503.5L521.9 506.9L522.0 509.3L522.0 511.9L521.9 514.9L521.9 517.9L521.8 521.1L521.7 524.3L521.7 527.4L521.8 530.4L521.9 533.2L522.1 536.1L522.3 538.9L522.6 541.6L522.9 544.2L523.3 546.9L523.8 549.5L524.5 552.2L525.2 555.0L526.0 557.6L527.0 560.5L528.0 563.4L529.2 566.3L530.4 569.2L531.6 572.0L532.8 574.6L533.9 577.0L535.0 579.1L536.7 582.0L538.3 584.1L539.9 585.8L541.6 587.6L543.8 590.0L545.4 591.9L547.2 594.1L549.1 596.5L551.0 598.9L553.1 601.3L555.1 603.6L557.1 605.7L559.1 607.5L561.6 609.5L564.0 611.1L566.5 612.5L569.0 613.7L571.6 614.9L574.4 616.3L576.6 617.5L578.9 618.8L581.3 620.1L583.7 621.5L586.2 622.7L588.8 623.7L591.4 624.5L594.1 625.0L596.6 625.1L599.4 625.1L602.3 624.9L605.2 624.5L608.1 623.9L610.9 623.3L613.6 622.5L616.0 621.6L618.1 620.7L620.8 619.1L623.1 617.1L625.0 614.9L626.6 612.5L627.9 610.1L629.1 607.5L630.0 605.4L630.5 603.8L630.8 602.0L631.0 599.6L631.1 595.8L631.3 590.0L631.4 588.0L631.4 585.9L631.5 583.7L631.6 581.3L631.7 578.8L631.7 576.2L631.8 573.4L631.9 570.6L631.9 567.7L632.0 564.7L632.1 561.6L632.1 558.4L632.2 555.2L632.2 551.9L632.3 548.6L632.3 545.2L632.3 541.8L632.3 538.3L632.4 534.8L632.4 531.4L632.4 527.9L632.4 524.4L632.4 521.8L632.4 519.1L632.4 516.3L632.3 513.5L632.3 510.6L632.3 507.6L632.2 504.6L632.2 501.5L632.2 498.4L632.1 495.2L632.1 492.1L632.0 488.9L632.0 485.7L631.9 482.5L631.8 479.3L631.8 476.1L631.7 472.9L631.7 469.8L631.6 466.7L631.6 463.6L631.5 460.6L631.5 457.7L631.5 454.8L631.4 452.0L631.4 449.2L631.4 446.5L631.3 444.0L631.3 441.5L631.3 439.1L631.3 436.9L631.3 432.6L631.4 428.6L631.4 424.9L631.5 421.3L631.6 417.9L631.7 414.8L631.8 411.8L631.9 409.0L632.0 406.3L632.1 403.8L632.2 401.4L632.3 399.2L632.3 397.1L632.4 395.0L632.4 393.1L632.6 388.5L632.9 385.6L633.0 383.7L632.6 382.1Z" class="bf"/>
<path d="M578.1 389.0L581.2 387.5L584.9 385.3L588.1 383.0L590.9 380.3L592.8 376.9L593.9 374.3L593.8 372.8L592.3 373.1L590.2 374.8L587.5 376.9L584.8 379.0L581.9 381.5L579.0 384.8L576.9 387.6ZM559.7 399.9L562.0 400.9L565.6 402.3L569.8 402.8L573.4 402.2L577.1 401.1L580.8 399.7L584.3 398.4L587.8 397.1L591.3 395.7L594.6 394.2L597.7 392.4L600.5 389.9L602.4 387.2L604.1 384.5L605.4 380.8L607.0 378.0L608.9 377.1L612.2 376.1L615.4 375.2L617.7 374.6L618.6 373.5L617.3 372.8L615.0 373.0L611.6 373.4L608.0 374.0L604.6 375.2L601.6 378.7L599.7 382.3L598.3 384.3L596.7 386.3L594.5 388.2L592.2 389.5L589.2 390.9L585.9 392.4L582.5 393.8L579.1 395.4L575.6 397.0L572.3 398.4L569.6 399.2L566.1 399.3L562.7 398.6L560.3 398.1ZM612.3 392.1L614.4 391.2L617.3 390.0L619.9 388.6L623.3 385.8L625.9 383.3L626.4 381.9L624.9 381.7L621.4 382.5L617.1 384.2L614.7 386.3L612.6 388.8L611.1 390.5ZM563.1 400.4L561.5 402.0L559.3 404.3L556.8 407.1L554.7 410.0L552.9 413.1L551.3 416.4L549.9 419.8L549.1 423.3L549.1 426.8L549.6 430.3L550.6 433.6L552.2 436.6L555.1 439.9L558.8 442.5L562.9 444.4L566.4 445.4L570.1 445.9L573.9 445.9L577.8 445.6L581.2 445.0L584.6 444.1L588.0 443.0L591.3 441.8L594.3 440.4L597.4 438.6L600.2 436.6L602.7 434.3L604.8 431.7L606.5 428.7L607.9 425.5L608.9 422.2L609.6 419.1L610.4 414.9L610.8 410.6L610.2 406.5L608.2 403.0L605.5 400.2L603.6 398.3L602.1 398.2L602.2 399.7L603.9 401.6L606.1 404.4L607.4 407.3L607.4 410.5L606.8 414.2L605.8 418.1L604.9 421.0L603.8 423.9L602.5 426.6L601.0 428.9L599.2 430.9L597.1 432.7L594.7 434.3L591.9 435.8L589.3 437.0L586.3 438.1L583.2 439.1L580.0 439.9L577.2 440.4L573.8 440.7L570.5 440.6L567.4 440.2L564.7 439.6L561.2 438.2L558.3 436.2L556.0 433.8L554.8 431.7L553.8 429.2L553.2 426.4L553.1 423.7L553.5 420.8L554.5 417.7L555.8 414.5L557.3 411.6L559.0 408.7L561.1 405.9L563.1 403.4L564.5 401.6ZM569.3 425.4L572.1 427.1L576.6 429.3L582.3 428.9L585.6 426.4L588.5 423.2L591.4 419.5L594.0 415.8L596.2 412.6L597.7 410.4L597.8 408.9L596.3 409.2L594.3 411.1L591.6 413.8L588.5 417.0L585.2 420.1L582.3 422.6L580.5 423.9L577.0 424.8L573.1 424.2L570.1 423.6ZM532.2 437.6L533.6 440.2L535.6 443.8L537.3 447.2L538.5 449.6L539.6 452.0L541.1 454.9L542.9 457.7L545.0 460.9L547.0 463.9L548.3 465.9L549.7 466.5L550.1 465.1L549.2 462.7L548.0 459.4L546.7 455.8L545.5 452.7L544.3 449.8L543.1 447.3L541.5 444.6L538.8 441.5L535.9 438.5L533.8 436.4ZM562.8 446.0L562.4 449.0L561.7 453.4L560.8 457.2L559.5 460.2L558.0 463.2L556.5 466.5L555.5 469.9L554.7 473.2L554.0 476.5L553.0 480.2L551.9 484.0L551.2 486.6L551.7 488.1L553.0 487.4L554.4 485.0L556.3 481.5L558.0 477.9L559.4 474.6L560.4 471.4L561.5 468.3L562.7 465.3L564.0 462.0L565.0 458.2L565.2 453.7L565.0 449.2L564.8 446.0ZM565.4 462.7L566.9 464.8L568.8 467.8L570.7 471.2L571.7 473.8L573.1 477.5L574.5 481.4L575.7 484.8L576.6 487.2L577.8 488.1L578.4 486.8L578.1 484.3L577.8 480.6L577.3 476.4L576.5 472.3L575.3 468.8L572.4 464.9L569.0 462.6L566.6 461.3ZM599.9 438.1L599.8 440.8L599.6 444.6L599.3 448.7L598.7 452.5L597.9 455.9L596.8 459.4L595.6 463.0L594.5 466.6L593.3 470.2L591.9 473.9L590.7 477.8L589.9 481.8L590.1 486.1L590.8 490.5L591.6 494.2L592.1 496.8L593.2 497.8L594.1 496.6L594.0 493.9L593.8 490.2L593.8 486.1L594.3 482.4L595.2 479.1L596.6 475.6L598.2 472.0L599.5 468.2L600.6 464.5L601.7 460.8L602.5 457.0L603.1 453.1L603.1 448.8L602.7 444.5L602.2 440.7L601.9 438.1ZM607.9 406.3L608.8 408.4L610.1 411.4L611.6 414.9L613.1 418.7L614.6 422.5L615.9 426.0L616.7 428.9L617.5 433.0L617.7 436.6L617.5 439.7L617.1 442.5L616.1 445.5L614.6 448.3L613.1 452.0L612.3 455.7L611.6 459.7L611.2 463.8L611.2 467.6L612.1 471.3L613.6 473.9L614.8 477.6L615.3 480.6L615.9 484.7L616.4 489.1L616.9 493.4L617.2 497.1L617.5 499.7L618.6 500.8L619.5 499.5L619.4 496.9L619.2 493.2L619.1 488.9L618.9 484.4L618.7 480.3L618.4 476.8L617.4 472.5L616.4 469.8L616.0 467.2L616.2 464.2L616.7 460.5L617.4 456.7L618.1 453.6L619.3 450.4L620.9 447.4L621.9 443.5L622.1 440.0L622.0 436.4L621.5 432.4L620.3 427.9L619.1 424.8L617.5 421.3L615.7 417.5L613.9 413.8L612.2 410.4L610.7 407.6L609.7 405.5ZM518.7 471.3L520.9 472.1L524.0 473.3L527.5 474.6L530.9 475.9L533.6 477.2L537.0 479.2L539.8 481.3L543.0 483.4L546.6 485.1L549.9 486.6L552.4 488.3L553.8 490.7L555.2 494.1L556.3 497.4L557.1 499.8L558.3 500.7L558.9 499.4L558.6 496.9L558.2 493.3L557.3 489.3L555.8 485.7L552.6 482.5L548.9 480.5L545.6 478.8L542.7 476.9L539.4 475.0L535.4 473.2L532.1 472.2L528.5 471.4L524.7 470.6L521.5 469.9L519.3 469.5ZM532.3 494.8L535.3 495.8L539.6 497.3L543.9 498.7L546.9 499.7L548.3 499.2L547.5 497.9L544.5 496.9L540.2 495.4L535.9 494.0L532.9 493.0ZM553.3 490.5L554.6 493.2L556.6 497.2L559.5 501.2L562.2 503.8L565.2 506.4L568.7 508.8L572.5 510.9L576.2 512.4L580.2 513.6L584.2 514.7L587.6 515.7L589.8 516.5L592.9 518.6L593.2 520.9L592.2 522.4L589.9 525.1L587.1 528.0L584.5 530.5L582.8 532.3L582.5 533.8L584.0 533.7L586.0 532.2L588.9 529.9L592.1 527.3L594.9 524.7L597.0 521.7L597.0 516.3L592.6 512.3L589.4 510.8L585.6 509.6L581.7 508.5L577.9 507.5L574.7 506.3L571.2 504.5L567.9 502.5L564.9 500.5L562.3 498.4L559.3 495.3L556.7 491.9L554.9 489.5ZM590.2 490.0L590.0 492.7L589.7 496.7L589.6 501.1L590.0 505.1L590.9 508.6L592.3 511.7L594.0 514.6L596.1 517.2L599.0 519.9L602.4 522.1L606.8 524.1L609.9 525.4L613.6 526.7L617.6 528.0L621.4 529.2L624.7 530.2L627.0 530.9L628.4 530.4L627.6 529.1L625.5 528.1L622.3 526.7L618.7 525.1L615.0 523.4L611.5 521.7L608.8 520.3L604.9 517.9L602.3 515.9L599.9 513.6L598.3 511.6L596.7 509.3L595.3 506.8L594.2 504.1L593.4 500.7L592.8 496.6L592.4 492.7L592.2 490.0ZM602.2 498.5L603.5 500.3L605.3 503.1L607.5 506.1L610.0 508.7L613.1 510.6L616.6 512.2L619.7 513.4L621.9 514.2L623.4 514.0L622.9 512.6L621.1 511.1L618.6 508.9L615.8 506.6L613.4 504.5L610.8 502.6L608.0 500.4L605.4 498.5L603.6 497.1ZM527.3 506.7L529.1 508.7L531.5 511.7L534.6 514.9L538.2 517.5L541.5 519.2L545.1 520.7L548.9 521.9L552.7 522.7L556.5 522.7L561.2 520.3L564.5 516.7L566.5 514.1L566.6 512.6L565.1 512.7L562.6 514.6L559.1 516.9L555.5 517.9L553.4 517.6L550.3 516.9L546.9 515.8L543.5 514.5L540.6 513.3L537.2 511.4L533.8 509.1L530.8 506.9L528.7 505.3ZM540.4 525.1L539.9 527.5L539.1 531.0L538.4 535.0L538.2 539.0L538.5 542.7L539.1 546.5L540.2 550.3L542.1 554.0L545.0 557.3L548.5 560.4L552.1 562.8L555.8 564.5L560.0 562.8L561.6 560.0L561.6 558.5L560.2 558.8L558.4 560.1L556.2 560.1L554.7 558.9L551.7 556.5L548.7 553.7L546.5 551.0L545.1 548.3L544.0 545.3L543.2 541.9L542.6 538.6L542.2 535.1L542.2 531.3L542.3 527.8L542.4 525.3ZM520.4 546.9L522.6 545.8L525.9 544.2L529.5 542.4L532.7 540.8L534.9 539.7L535.5 538.3L534.1 537.9L531.9 539.0L528.6 540.6L525.0 542.4L521.8 544.0L519.6 545.1ZM556.5 537.7L558.5 539.5L561.6 542.1L565.1 544.8L568.9 547.0L572.5 548.0L576.0 548.3L579.2 548.5L582.8 549.0L585.8 549.7L589.5 550.7L593.4 551.8L597.1 552.8L600.3 553.8L602.6 554.4L604.0 553.9L603.2 552.6L601.1 551.6L598.1 550.2L594.6 548.6L590.9 546.9L587.2 545.4L584.0 544.2L579.9 543.4L576.3 543.1L573.3 542.9L570.5 542.4L567.2 541.1L563.4 539.3L560.0 537.4L557.5 536.1ZM572.8 557.9L571.4 560.1L569.3 563.2L567.1 566.9L565.8 570.8L565.4 574.7L565.6 578.7L566.3 582.7L567.3 586.5L568.7 590.3L570.5 594.0L572.4 597.4L574.2 600.6L576.0 603.7L577.8 606.8L579.7 609.7L581.9 612.4L585.4 615.5L589.0 618.0L591.5 619.6L593.0 619.6L592.7 618.2L590.6 616.1L587.6 613.1L584.9 609.8L583.4 607.3L581.9 604.5L580.4 601.4L578.8 598.2L577.0 594.9L575.1 591.5L573.5 588.2L572.1 584.9L571.1 581.5L570.2 578.0L569.7 574.6L569.6 571.4L570.4 568.1L571.8 564.5L573.4 561.2L574.4 558.9ZM595.5 557.7L593.3 559.0L590.3 561.0L587.0 563.0L584.0 564.8L580.9 566.5L577.2 568.3L573.7 569.9L571.3 571.1L570.5 572.3L571.9 572.9L574.5 572.5L578.4 571.9L582.7 571.0L586.6 569.4L589.9 566.9L592.8 563.9L595.1 561.1L596.7 559.1ZM608.8 560.6L609.2 563.0L609.7 566.6L610.3 570.3L611.0 573.6L612.2 577.6L613.6 581.3L614.6 584.0L615.8 584.9L616.6 583.6L616.7 580.8L616.7 576.7L616.2 572.4L615.0 569.0L613.3 565.4L611.7 562.2L610.6 560.0ZM536.6 558.7L536.8 561.0L537.2 564.4L538.1 568.3L540.4 571.9L543.5 574.1L547.2 575.8L551.0 577.1L554.3 578.0L556.6 578.8L558.0 578.4L557.4 577.0L555.4 575.8L552.4 574.0L549.1 572.0L546.2 569.9L544.2 568.3L542.4 566.0L540.8 563.2L539.4 560.2L538.4 558.1ZM584.5 582.4L585.7 584.4L587.4 587.5L589.3 590.7L591.6 593.5L595.0 595.5L597.8 596.4L598.8 596.7L599.5 598.5L599.8 601.7L599.9 604.2L600.8 605.4L601.9 604.4L602.6 602.0L603.5 598.3L603.0 594.3L600.0 591.7L597.0 590.8L594.6 589.7L592.6 588.0L590.1 585.4L587.7 583.0L586.1 581.2ZM555.0 584.0L554.9 586.4L554.8 590.0L555.7 593.7L558.2 596.4L561.1 598.1L563.2 599.1L564.7 599.2L564.4 597.7L563.2 595.8L561.5 593.3L560.3 591.3L559.2 588.9L557.9 585.9L557.0 583.6ZM620.8 603.6L618.7 604.9L615.8 606.8L612.5 608.9L609.4 610.7L606.7 612.2L603.3 613.8L599.9 615.5L596.9 617.0L594.8 618.0L594.0 619.3L595.4 619.8L597.7 619.3L601.0 618.7L604.8 617.9L608.6 616.8L612.0 615.3L615.4 612.8L618.3 609.7L620.5 606.9L622.0 605.0ZM599.1 359.8L597.8 362.6L596.1 366.5L594.5 370.0L593.3 373.4L592.1 377.0L591.2 379.5L591.4 381.0L592.8 380.5L594.7 378.5L597.3 375.6L599.5 372.0L600.4 367.7L600.8 363.3L600.9 360.2ZM549.4 394.8L551.1 396.8L553.6 399.6L556.5 402.2L560.0 404.1L563.8 405.7L566.5 406.8L568.0 406.6L567.5 405.2L565.5 403.2L562.5 400.3L559.5 397.8L556.3 396.0L553.0 394.3L550.6 393.2ZM525.7 435.9L528.0 437.4L531.4 439.6L534.9 441.4L538.7 442.8L542.7 444.0L545.6 444.9L547.0 444.5L546.4 443.1L544.1 441.3L540.7 438.7L537.1 436.6L533.2 435.3L529.1 434.6L526.3 434.1ZM516.7 468.9L519.3 470.4L523.1 472.6L527.0 474.5L530.0 475.5L533.4 476.5L536.5 477.3L538.6 477.9L540.0 477.5L539.4 476.1L537.6 474.9L535.0 473.0L532.0 471.1L529.0 469.5L524.7 468.3L520.4 467.6L517.3 467.1ZM515.9 500.0L518.5 500.7L522.0 501.7L525.5 502.6L529.1 503.1L532.9 503.6L535.7 503.9L537.1 503.4L536.3 502.1L533.9 500.7L530.3 498.8L526.5 497.4L522.5 497.2L518.7 497.7L516.1 498.0ZM515.9 531.0L518.5 531.7L522.0 532.7L525.4 533.6L528.9 534.4L532.8 535.3L535.6 535.9L537.1 535.5L536.4 534.1L534.0 532.5L530.5 530.1L526.6 528.4L522.6 528.1L518.7 528.6L516.1 529.0ZM530.7 592.7L533.2 591.0L536.6 588.6L539.9 585.9L542.6 582.6L545.0 579.2L546.7 576.7L546.8 575.2L545.3 575.3L542.8 577.0L539.4 579.4L536.1 582.1L533.4 585.4L531.0 588.8L529.3 591.3ZM568.9 624.4L570.1 622.6L571.9 619.9L573.8 616.9L575.4 614.1L576.9 610.2L578.1 606.2L578.9 603.4L578.5 602.0L577.1 602.6L575.3 604.9L572.8 608.2L570.6 611.9L569.4 614.9L568.4 618.3L567.7 621.4L567.1 623.6ZM587.9 630.2L589.0 627.6L590.4 624.1L591.6 620.7L592.2 617.3L592.6 613.8L592.9 611.3L592.4 609.9L591.1 610.7L589.7 612.8L587.9 615.9L586.4 619.3L586.0 623.2L586.0 627.1L586.1 629.8ZM633.7 433.1L631.5 433.3L628.2 433.6L624.9 434.6L621.6 436.7L618.6 439.3L616.5 441.2L616.0 442.6L617.5 442.8L620.1 442.0L623.8 440.7L627.1 439.4L629.9 437.9L632.5 436.1L634.3 434.9ZM633.6 520.1L630.2 520.5L625.9 521.6L623.1 523.4L620.4 525.6L618.6 527.1L618.0 528.5L619.4 528.9L621.8 528.3L625.1 527.4L628.1 526.4L631.8 524.0L634.4 521.9ZM633.6 581.1L631.3 581.6L628.0 582.4L624.8 583.7L621.6 585.8L618.6 588.3L616.5 590.2L616.0 591.6L617.5 591.8L620.1 591.0L623.8 589.8L627.2 588.3L630.1 586.5L632.6 584.4L634.4 582.9ZM633.6 394.1L630.5 394.5L626.7 395.7L623.6 398.6L621.5 401.2L621.0 402.7L622.5 402.8L625.7 401.8L629.3 400.3L632.2 398.0L634.4 395.9Z" fill="#f5f5f5"/>
</g>
</defs>
<rect width="1280" height="2208" fill="#fff"/>
<text x="15.5" y="65.5" font-size="59" font-weight="bold" fill="#222222" textLength="1149.0" lengthAdjust="spacingAndGlyphs" stroke="#fff" stroke-width="1.2">Cómo actúa el fármaco lecanemab contra el</text>
<text x="15.5" y="132.6" font-size="59" font-weight="bold" fill="#222222" textLength="270.0" lengthAdjust="spacingAndGlyphs" stroke="#fff" stroke-width="1.2">Alzheimer</text>
<rect x="10" y="154" width="1248" height="510" fill="#f5f5f5"/>
<rect x="10" y="690" width="1248" height="472" fill="#f5f5f5"/>
<rect x="10" y="1188" width="1248" height="472" fill="#f5f5f5"/>
<rect x="10" y="1690" width="1248" height="452.5" fill="#f5f5f5"/>
<circle cx="52" cy="186" r="30.5" fill="#fff" stroke="#000" stroke-width="3"/>
<text x="52" y="200" font-size="40" font-weight="normal" fill="#222222" text-anchor="middle">1</text>
<circle cx="52" cy="733.5" r="30.5" fill="#fff" stroke="#000" stroke-width="3"/>
<text x="52" y="747.5" font-size="40" font-weight="normal" fill="#222222" text-anchor="middle">2</text>
<circle cx="52" cy="1233.75" r="30.5" fill="#fff" stroke="#000" stroke-width="3"/>
<text x="52" y="1247.75" font-size="40" font-weight="normal" fill="#222222" text-anchor="middle">3</text>
<circle cx="52" cy="1737.5" r="30.5" fill="#fff" stroke="#000" stroke-width="3"/>
<text x="52" y="1751.5" font-size="40" font-weight="normal" fill="#222222" text-anchor="middle">4</text>
<line x1="637.9" y1="250" x2="637.9" y2="664" stroke="#555" stroke-width="1.9"/>
<line x1="637.9" y1="184.4" x2="637.9" y2="203.75" stroke="#555" stroke-width="1.9"/>
<text x="194.0" y="313.0" font-size="42" font-weight="normal" fill="#222222" textLength="424.0" lengthAdjust="spacingAndGlyphs">Cerebro con Alzheimer</text>
<text x="660.5" y="313.0" font-size="42" font-weight="normal" fill="#222222" textLength="337.0" lengthAdjust="spacingAndGlyphs">Cerebro saludable</text>
<line x1="595.2" y1="332" x2="595.2" y2="373.4" stroke="#000" stroke-width="2.5"/>
<line x1="690.8" y1="332" x2="690.8" y2="373.4" stroke="#000" stroke-width="2.5"/>
<use href="#brainL" style="--bf:#a67c7d"/>
<use href="#brainL" style="--bf:#f28080" transform="translate(644.4 358) scale(1.058 1.073) translate(-632.4 -368) translate(632.4 0) scale(-1 1) translate(-632.4 0)"/>
<use href="#nA" transform="translate(183.2 417.5) scale(0.6)" style="--nb:#4ba8bf;--my:#a98080;--nr:#a5cedc;--nn:#164f62"/>
<circle cx="305.3" cy="410.9" r="8" fill="#9b1b1f"/>
<circle cx="336.4" cy="400.4" r="8" fill="#9b1b1f"/>
<circle cx="346.3" cy="426.6" r="8" fill="#9b1b1f"/>
<circle cx="293.8" cy="473.6" r="8" fill="#9b1b1f"/>
<circle cx="327.6" cy="490.6" r="8" fill="#9b1b1f"/>
<circle cx="299.0" cy="501.5" r="8" fill="#9b1b1f"/>
<circle cx="355.5" cy="499.8" r="8" fill="#9b1b1f"/>
<circle cx="330.9" cy="515.9" r="8" fill="#9b1b1f"/>
<text x="107.0" y="545.7" font-size="42" font-weight="normal" fill="#222222" textLength="158.0" lengthAdjust="spacingAndGlyphs">Proteína</text>
<text x="107.0" y="592.3" font-size="42" font-weight="normal" fill="#222222" textLength="160.0" lengthAdjust="spacingAndGlyphs">amiloide</text>
<path d="M265.2 534.9H299V508.7" fill="none" stroke="#000" stroke-width="2.5"/>
<use href="#nA" transform="translate(1094 402.5) scale(-0.6 0.6)" style="--nb:#4ba8bf;--my:#a4cddb;--nr:#a5cedc;--nn:#164f62"/>
<circle cx="920.0" cy="347.5" r="8" fill="#9b1b1f"/>
<circle cx="976.5" cy="491.5" r="8" fill="#9b1b1f"/>
<circle cx="905.0" cy="568.5" r="8" fill="#9b1b1f"/>
<line x1="1100" y1="440" x2="1100" y2="512.5" stroke="#000" stroke-width="2.5"/>
<text x="1052.0" y="547.5" font-size="42" font-weight="normal" fill="#222222" textLength="160.0" lengthAdjust="spacingAndGlyphs">Neurona</text>
<use href="#nA" transform="translate(460 903.75)" style="--nb:#4ba8bf;--my:#a98080;--nr:#a5cedc;--nn:#164f62"/>
<circle cx="661.7" cy="890.8" r="13" fill="#9b1b1f"/>
<circle cx="713.8" cy="873.1" r="13" fill="#9b1b1f"/>
<circle cx="730.0" cy="916.2" r="13" fill="#9b1b1f"/>
<circle cx="643.0" cy="995.0" r="13" fill="#9b1b1f"/>
<circle cx="698.7" cy="1023.4" r="13" fill="#9b1b1f"/>
<circle cx="652.0" cy="1041.3" r="13" fill="#9b1b1f"/>
<circle cx="746.2" cy="1038.5" r="13" fill="#9b1b1f"/>
<circle cx="703.8" cy="1064.8" r="13" fill="#9b1b1f"/>
<path d="M-6.0 -39.0L-6.0 0.0L-29.3 23.3M6.0 -39.0L6.0 0.0L29.3 23.3M-15.9 -7.1L-37.8 14.8M15.9 -7.1L37.8 14.8" transform="translate(786.6 908.2) rotate(28.0)" fill="none" stroke="#8951a3" stroke-width="7.5" stroke-linejoin="miter"/>
<text x="162.0" y="849.0" font-size="42" font-weight="normal" fill="#222222" textLength="160.0" lengthAdjust="spacingAndGlyphs">Neurona</text>
<text x="765.5" y="826.0" font-size="42" font-weight="normal" fill="#222222" textLength="418.0" lengthAdjust="spacingAndGlyphs">Anticuerpo lecanemab</text>
<line x1="776" y1="835" x2="776" y2="886" stroke="#000" stroke-width="2.5"/>
<use href="#nA" transform="translate(460 1403.75)" style="--nb:#4ba8bf;--my:#a98080;--nr:#a5cedc;--nn:#164f62"/>
<circle cx="661.7" cy="1390.8" r="13" fill="#9b1b1f"/>
<circle cx="713.8" cy="1373.2" r="13" fill="#9b1b1f"/>
<circle cx="730.0" cy="1416.2" r="13" fill="#9b1b1f"/>
<circle cx="643.0" cy="1495.0" r="13" fill="#9b1b1f"/>
<circle cx="698.7" cy="1523.3" r="13" fill="#9b1b1f"/>
<circle cx="652.0" cy="1541.3" r="13" fill="#9b1b1f"/>
<circle cx="746.2" cy="1538.5" r="13" fill="#9b1b1f"/>
<circle cx="703.8" cy="1564.8" r="13" fill="#9b1b1f"/>
<path d="M-6.0 -39.0L-6.0 0.0L-29.3 23.3M6.0 -39.0L6.0 0.0L29.3 23.3M-15.9 -7.1L-37.8 14.8M15.9 -7.1L37.8 14.8" transform="translate(611.3 1360.0) rotate(0.0)" fill="none" stroke="#8951a3" stroke-width="7.5" stroke-linejoin="miter"/>
<path d="M-6.0 -39.0L-6.0 0.0L-29.3 23.3M6.0 -39.0L6.0 0.0L29.3 23.3M-15.9 -7.1L-37.8 14.8M15.9 -7.1L37.8 14.8" transform="translate(785.0 1433.0) rotate(44.0)" fill="none" stroke="#8951a3" stroke-width="7.5" stroke-linejoin="miter"/>
<path d="M-6.0 -39.0L-6.0 0.0L-29.3 23.3M6.0 -39.0L6.0 0.0L29.3 23.3M-15.9 -7.1L-37.8 14.8M15.9 -7.1L37.8 14.8" transform="translate(602.5 1532.0) rotate(-81.0)" fill="none" stroke="#8951a3" stroke-width="7.5" stroke-linejoin="miter"/>
<path d="M-6.0 -39.0L-6.0 0.0L-29.3 23.3M6.0 -39.0L6.0 0.0L29.3 23.3M-15.9 -7.1L-37.8 14.8M15.9 -7.1L37.8 14.8" transform="translate(755.6 1586.9) rotate(177.0)" fill="none" stroke="#8951a3" stroke-width="7.5" stroke-linejoin="miter"/>
<path d="M846.0 1279.2L845.7 1277.8L845.6 1275.2L846.6 1272.2L847.9 1268.6L847.8 1265.3L845.7 1263.2L842.5 1261.1L839.2 1259.4L836.9 1258.2M842.0 1279.1L842.0 1277.6L841.2 1275.2L839.5 1272.6L837.4 1269.6L835.8 1267.5M857.7 1279.1L857.9 1277.7L858.7 1275.2L860.4 1272.3L862.6 1268.9L864.2 1266.4M868.6 1282.9L869.4 1281.9L870.8 1279.6L871.7 1276.5L872.8 1272.7L875.2 1270.2L878.6 1270.1L883.1 1271.0L887.5 1272.2L890.5 1273.0M826.4 1285.8L825.2 1284.7L823.8 1282.8L823.2 1280.0L821.6 1277.3L818.5 1276.4L814.6 1276.0L811.7 1275.7M817.5 1297.6L816.2 1297.0L813.9 1295.9L811.5 1294.7L808.7 1293.3L806.2 1291.6L803.6 1288.0L801.9 1285.0M877.3 1293.8L878.3 1293.0L880.6 1291.6L883.4 1290.1L887.0 1288.4L890.5 1287.7L894.0 1289.0L897.4 1291.4L899.8 1293.2M881.2 1301.6L882.4 1300.7L885.0 1300.3L888.5 1301.2L892.8 1302.6L895.9 1303.6M882.6 1312.3L884.0 1312.2L886.6 1312.3L890.0 1312.8L894.1 1313.5L897.0 1314.0M814.6 1314.3L813.1 1314.5L810.6 1314.5L808.2 1314.3L805.2 1314.0L801.9 1313.4L798.8 1312.6L795.3 1311.4L792.1 1310.3L789.8 1309.6M816.5 1325.2L815.1 1325.9L812.8 1326.6L809.4 1326.1L805.2 1326.6L802.7 1328.6L799.8 1331.5L797.1 1334.4L795.3 1336.4M821.4 1335.0L820.1 1336.0L818.3 1337.5L816.5 1339.3L815.0 1340.8M881.2 1323.1L882.8 1323.5L885.0 1324.4L887.7 1326.4L890.5 1328.7L893.0 1331.2L894.8 1333.1M829.3 1341.9L828.5 1343.0L827.0 1345.2L825.2 1348.0L823.1 1351.4L821.6 1353.9M845.0 1345.5L844.8 1346.8L844.5 1349.5L844.7 1352.8L845.0 1356.9L844.5 1360.5L842.2 1363.4L839.2 1365.9L836.9 1367.6M857.7 1344.5L858.0 1346.0L858.7 1348.4L859.3 1350.8L860.0 1353.7L860.9 1356.1L863.2 1358.2L865.3 1359.4M871.5 1337.8L872.6 1338.8L874.1 1340.8L875.2 1343.5L876.4 1346.7L877.3 1349.0" fill="none" stroke="#b07fb8" stroke-width="5.2" stroke-linecap="round" stroke-linejoin="round"/><circle cx="849.2" cy="1312.6" r="38" fill="#b07fb8"/><circle cx="864.2" cy="1315.1" r="13.1" fill="#4e2a7c"/>
<path d="M712.9 1325.9L712.6 1324.2L712.5 1321.9L712.7 1319.3L713.0 1317.2M703.9 1328.3L703.2 1327.2L702.2 1324.7L701.2 1321.4L700.2 1317.3L699.4 1314.4M693.8 1333.0L692.7 1332.0L690.9 1330.3L688.0 1328.2L685.3 1325.6L684.2 1321.6L683.9 1318.1M721.1 1324.8L721.2 1323.4L721.9 1320.9L723.6 1318.4L725.7 1315.4L727.0 1312.5L726.2 1308.2L724.7 1305.0M730.2 1328.1L730.9 1326.8L732.2 1324.7L733.5 1322.6L735.0 1320.2L736.9 1318.1L739.6 1316.5L742.6 1315.3L744.8 1314.4M738.2 1338.1L739.4 1337.2L741.5 1335.9L743.7 1334.9L746.3 1333.8L749.0 1333.1L753.2 1333.4L756.5 1334.0M742.2 1350.4L743.7 1350.3L746.2 1350.0L749.9 1349.7L753.7 1349.0L756.5 1347.1L758.4 1345.3M690.9 1343.9L689.4 1343.3L687.2 1342.5L685.1 1341.4L682.5 1340.6L678.7 1340.7L675.5 1341.1M689.3 1355.3L687.8 1355.5L685.3 1355.6L682.6 1355.4L679.5 1355.0L677.3 1354.7M740.5 1362.6L741.9 1363.2L744.3 1364.0L747.1 1364.5L750.4 1365.1L752.8 1365.5M739.1 1367.6L740.4 1368.4L742.5 1369.7L745.4 1371.9L749.0 1373.4L752.1 1372.8L755.5 1371.6L757.9 1370.6M692.3 1370.1L691.3 1371.2L689.1 1372.5L686.1 1373.4L682.4 1374.2L679.7 1374.8M699.8 1375.7L699.0 1377.0L697.5 1379.0L694.6 1382.1L691.9 1384.7M707.1 1379.0L706.9 1380.5L705.9 1382.8L704.0 1385.0L701.6 1387.5L699.8 1389.3M713.6 1379.7L713.6 1381.2L713.4 1383.7L713.4 1387.4L712.5 1391.2L710.2 1393.1L707.2 1394.8L705.0 1395.9M725.9 1378.2L726.5 1379.5L727.5 1381.9L729.0 1384.6L730.8 1388.0L731.2 1391.2L729.0 1394.4L725.4 1397.5L722.8 1399.7M734.2 1373.3L735.4 1374.2L736.9 1376.2L737.9 1379.2L739.0 1382.9L739.7 1385.6" fill="none" stroke="#b07fb8" stroke-width="5.2" stroke-linecap="round" stroke-linejoin="round"/><circle cx="715.3" cy="1353.3" r="31" fill="#b07fb8"/><circle cx="706.9" cy="1362.2" r="10.8" fill="#4e2a7c"/>
<path d="M658.2 1505.2L657.5 1503.9L656.7 1501.5L656.6 1498.5L656.6 1494.9L656.7 1492.3M670.1 1505.5L670.1 1504.3L669.9 1501.5L669.4 1498.9L668.6 1495.5L668.2 1492.1L668.9 1489.3L671.5 1487.2L675.4 1485.5L679.4 1484.2L682.1 1483.2M650.1 1511.7L649.1 1510.5L647.6 1508.6L646.2 1505.4L643.5 1502.5L640.5 1502.1L636.6 1502.1L632.9 1502.4L630.3 1502.5M645.5 1516.3L644.5 1515.2L642.5 1513.7L639.9 1512.4L636.7 1511.1L634.4 1510.1M685.7 1506.2L686.2 1504.9L687.2 1502.5L688.2 1499.8L689.4 1496.7L691.3 1494.4L694.6 1493.7L698.6 1493.7L701.4 1493.9M692.0 1510.9L692.5 1509.5L694.3 1507.6L697.5 1506.3L701.6 1504.9L704.5 1504.0M698.2 1520.1L699.1 1519.2L701.4 1517.7L704.7 1516.0L708.7 1514.1L711.6 1512.7M640.2 1530.0L638.8 1529.6L636.4 1528.9L634.0 1527.7L631.2 1526.4L628.3 1525.9L625.3 1527.2L622.3 1529.3L620.2 1530.9M639.3 1544.5L637.9 1544.8L635.4 1545.2L633.0 1545.4L630.2 1545.7L627.3 1545.7L624.0 1545.4L620.5 1545.0L618.1 1544.7M704.7 1527.3L705.9 1526.4L708.5 1525.9L711.2 1526.3L714.8 1527.1L718.3 1527.9L720.7 1528.4M703.6 1546.3L705.0 1546.5L707.5 1547.2L710.2 1548.5L713.3 1550.1L715.6 1551.3M642.8 1559.1L641.5 1559.9L639.5 1561.4L637.8 1563.3L635.8 1565.6L633.4 1567.5L629.9 1568.8L626.0 1569.8L623.2 1570.5M650.9 1568.4L650.1 1569.5L648.6 1571.6L647.0 1573.9L645.0 1576.7L643.5 1579.7L642.8 1583.3L642.6 1587.2L642.5 1589.9M662.0 1570.8L661.4 1572.3L660.8 1574.6L660.7 1577.9L660.8 1580.7M673.8 1571.6L673.8 1572.8L674.0 1575.6L674.3 1578.6L674.8 1582.4L675.2 1586.2L675.5 1588.8M688.3 1569.1L689.0 1570.4L690.2 1572.6L691.6 1574.6L693.2 1577.0L694.3 1579.7L694.6 1583.2L694.5 1587.1L694.3 1589.9M700.1 1559.1L701.4 1560.0L703.4 1561.4L706.5 1562.9L709.5 1564.5L711.4 1566.2L712.6 1567.6" fill="none" stroke="#b07fb8" stroke-width="5.2" stroke-linecap="round" stroke-linejoin="round"/><circle cx="672.0" cy="1539.1" r="37.6" fill="#b07fb8"/><circle cx="685.7" cy="1532.5" r="13.2" fill="#4e2a7c"/>
<line x1="888" y1="1317.8" x2="965" y2="1317.8" stroke="#000" stroke-width="2.5"/>
<text x="982.0" y="1329.0" font-size="42" font-weight="normal" fill="#222222" textLength="265.0" lengthAdjust="spacingAndGlyphs">Célula inmune</text>
<use href="#nA" transform="translate(687 1804.5) rotate(-6.4) scale(-0.4225 0.4225)" style="--nb:#d5e7ec;--my:#e4eff2;--nr:#e8f0f2;--nn:#c6d4d8"/>
<use href="#nA" transform="translate(504.2 2043) rotate(4.7) scale(0.3)" style="--nb:#d5e7ec;--my:#e4eff2;--nr:#e8f0f2;--nn:#c6d4d8"/>
<use href="#nA" transform="translate(990.9 1890.4) rotate(24.4) scale(-0.447 0.447)" style="--nb:#d5e7ec;--my:#e4eff2;--nr:#e8f0f2;--nn:#c6d4d8"/>
<use href="#nA" transform="translate(1056.8 2066.4) rotate(140) scale(-0.584 0.584)" style="--nb:#c6e0e7;--my:#dceaee;--nr:#dde9ec;--nn:#aabfc5"/>
<circle cx="561.2" cy="1780.0" r="5.5" fill="#e6cfd1"/>
<circle cx="611.8" cy="1875.8" r="5.5" fill="#e6cfd1"/>
<circle cx="567.5" cy="1934.5" r="5.5" fill="#e6cfd1"/>
<circle cx="577.5" cy="2048.5" r="4" fill="#e6cfd1"/>
<circle cx="629.2" cy="2044.4" r="4" fill="#e6cfd1"/>
<circle cx="550.7" cy="2121.1" r="4" fill="#e6cfd1"/>
<circle cx="890.0" cy="1801.0" r="5" fill="#e6cfd1"/>
<circle cx="885.2" cy="1914.1" r="5" fill="#e0c4c6"/>
<circle cx="1097.0" cy="1826.2" r="7.5" fill="#d9b1b3"/>
<circle cx="1090.0" cy="1927.7" r="7.5" fill="#d9b1b3"/>
<circle cx="1221.8" cy="2001.0" r="7.5" fill="#d9b1b3"/>
<circle cx="763.75" cy="1792" r="15.5" fill="#9b1b1f"/>
<circle cx="581.75" cy="1883.25" r="15.5" fill="#9b1b1f"/>
<path d="M382.0 1967.0L384.1 1967.5L386.7 1968.1L389.8 1968.8L393.3 1969.7L397.0 1970.5L401.0 1971.5L405.2 1972.4L409.4 1973.4L413.7 1974.3L417.9 1975.2L422.0 1976.0L425.4 1976.7L429.0 1977.3L432.5 1978.0L436.2 1978.6L439.9 1979.3L443.7 1979.9L447.4 1980.5L451.2 1981.2L455.0 1981.8L458.8 1982.4L462.6 1982.9L466.3 1983.5L470.0 1984.0L474.0 1984.5L477.9 1985.0L481.8 1985.5L485.7 1986.0L489.6 1986.4L493.5 1986.9L497.5 1987.3L501.4 1987.7L505.3 1988.1L509.3 1988.5L513.3 1988.9L517.3 1989.3L521.0 1989.7L524.8 1990.1L528.6 1990.5L532.4 1990.9L536.2 1991.3L540.0 1991.7L543.8 1992.1L547.7 1992.5L551.5 1992.8L555.4 1993.1L559.3 1993.5L563.1 1993.7L567.0 1994.0L570.9 1994.2L574.8 1994.5L578.7 1994.7L582.7 1994.9L586.7 1995.0L590.6 1995.2L594.6 1995.3L598.5 1995.4L602.5 1995.5L606.4 1995.6L610.3 1995.6L614.1 1995.6L617.9 1995.5L622.0 1995.4L625.9 1995.2L629.9 1995.0L633.8 1994.7L637.7 1994.5L641.5 1994.1L645.4 1993.8L649.3 1993.4L653.2 1993.1L657.1 1992.7L661.0 1992.3L665.0 1992.0L668.7 1991.7L672.6 1991.3L676.4 1991.0L680.3 1990.7L684.2 1990.3L688.2 1989.9L692.1 1989.6L695.9 1989.2L699.8 1988.8L703.5 1988.4L707.2 1988.1L710.8 1987.7L714.3 1987.3L718.3 1986.8L722.2 1986.4L726.0 1985.9L729.8 1985.3L733.4 1984.8L737.0 1984.3L740.5 1983.9L744.0 1983.4L747.4 1983.0L750.7 1982.6L754.0 1982.3L758.1 1982.0L762.3 1981.7L766.5 1981.5L770.7 1981.4L774.6 1981.3L778.3 1981.2L781.5 1981.1L784.3 1981.1L786.4 1981.0" fill="none" stroke="#4ba8bf" stroke-width="11" stroke-linecap="round"/>
<g filter="url(#goo2)"><circle cx="304.8" cy="1969.5" r="50" fill="#4ba8bf"/><path d="M322.4 1951.9L321.4 1949.7L320.0 1946.7L318.4 1943.4L316.7 1940.0L314.9 1936.7L313.4 1934.0L311.6 1930.7L309.6 1927.1L307.5 1923.2L305.4 1919.3L303.2 1915.5L301.0 1912.0L298.8 1908.7L296.6 1905.5L294.4 1902.5L292.3 1899.5L290.3 1896.7L288.0 1893.1L285.7 1889.6L283.6 1886.1L281.6 1883.0L279.7 1880.2L276.3 1876.6L274.2 1874.9L268.7 1874.7L269.4 1880.1L270.4 1881.3L271.9 1884.8L272.4 1887.1L273.2 1890.4L274.0 1894.2L274.7 1898.3L275.3 1902.3L275.7 1905.7L276.0 1909.2L276.1 1912.8L276.3 1916.3L276.3 1919.9L276.4 1923.5L276.3 1927.2L276.2 1931.1L276.1 1935.3L276.1 1939.6L276.2 1944.0L276.7 1948.3L277.5 1953.1L278.5 1957.7L279.6 1961.7L280.6 1964.9L281.2 1967.1ZM274.6 1875.4L273.1 1873.5L270.9 1870.9L268.4 1867.8L266.1 1864.6L264.3 1861.3L263.0 1858.6L261.9 1855.6L260.8 1852.5L260.0 1849.3L259.4 1845.9L259.0 1842.4L259.0 1839.3L259.3 1835.8L259.7 1832.1L260.3 1828.4L260.9 1824.7L261.6 1821.1L262.2 1817.8L263.0 1813.3L264.1 1808.9L265.1 1804.7L266.0 1801.2L266.6 1798.7L266.5 1798.3L266.2 1798.5L265.2 1800.9L263.9 1804.3L262.3 1808.3L260.8 1812.7L259.4 1817.2L258.6 1820.5L257.6 1824.0L256.7 1827.7L255.9 1831.5L255.2 1835.3L254.7 1839.0L254.6 1842.6L254.7 1846.4L255.2 1850.2L256.0 1853.8L257.0 1857.2L258.1 1860.5L259.3 1863.7L261.1 1867.5L263.4 1871.3L265.7 1874.8L267.6 1877.6L269.0 1879.6ZM258.6 1845.3L257.4 1843.3L255.8 1840.4L253.9 1837.0L251.7 1833.4L249.3 1829.8L246.8 1826.7L243.9 1823.8L240.5 1820.9L237.0 1818.2L233.6 1815.7L230.8 1813.6L228.8 1812.1L228.4 1812.1L228.4 1812.5L230.3 1814.2L232.9 1816.5L236.0 1819.3L239.3 1822.3L242.3 1825.4L244.8 1828.3L247.0 1831.4L249.2 1834.9L251.1 1838.6L252.9 1842.0L254.4 1844.9L255.5 1847.0ZM246.8 1827.3L246.1 1824.8L245.0 1821.3L243.8 1817.2L242.6 1813.1L241.6 1809.6L240.8 1807.1L240.5 1806.9L240.4 1807.3L240.9 1809.7L241.7 1813.3L242.6 1817.5L243.5 1821.7L244.3 1825.3L244.8 1827.7ZM261.1 1821.5L262.6 1819.4L264.7 1816.2L267.2 1812.5L269.9 1808.6L272.5 1804.9L274.6 1801.8L276.1 1799.6L276.1 1799.3L275.7 1799.4L274.1 1801.4L271.7 1804.4L268.9 1807.9L265.9 1811.5L263.1 1815.0L260.7 1818.0L259.1 1820.0ZM261.8 1817.3L261.1 1814.8L260.2 1811.2L259.1 1807.1L258.0 1802.9L257.0 1799.3L256.3 1796.8L256.0 1796.6L255.9 1797.0L256.3 1799.5L257.0 1803.1L257.8 1807.3L258.6 1811.6L259.3 1815.2L259.8 1817.7ZM281.8 1889.2L282.3 1886.9L282.9 1883.8L283.7 1880.2L284.5 1876.2L285.5 1872.0L286.5 1868.0L287.5 1864.6L288.6 1861.0L289.8 1857.3L291.0 1853.6L292.2 1849.7L293.3 1845.9L294.4 1842.1L295.3 1838.1L296.3 1833.8L297.1 1829.5L298.0 1825.3L298.7 1821.4L299.3 1818.2L299.7 1815.9L299.6 1815.5L299.3 1815.7L298.5 1818.0L297.5 1821.1L296.4 1824.9L295.1 1828.9L293.7 1833.1L292.3 1837.3L291.0 1841.1L289.7 1844.7L288.4 1848.4L287.0 1852.2L285.6 1855.9L284.2 1859.6L282.9 1863.1L281.7 1866.6L280.4 1870.6L279.0 1874.7L277.8 1878.6L276.6 1882.2L275.7 1885.2L275.0 1887.4ZM294.7 1838.6L296.5 1836.7L299.1 1834.0L302.1 1830.9L304.8 1828.2L306.6 1826.3L306.6 1825.9L306.2 1825.9L304.2 1827.6L301.2 1830.0L298.0 1832.7L295.0 1835.1L293.0 1836.8ZM286.0 1865.2L288.0 1863.9L290.8 1862.0L294.1 1859.9L297.3 1857.9L300.2 1856.4L303.4 1855.1L306.7 1854.2L309.6 1853.5L311.6 1852.9L311.9 1852.6L311.6 1852.5L309.5 1852.7L306.5 1853.0L303.0 1853.6L299.4 1854.6L296.3 1856.0L292.8 1857.8L289.4 1859.7L286.5 1861.4L284.4 1862.6ZM304.0 1854.5L304.3 1851.8L304.7 1848.2L305.0 1845.5L304.9 1845.2L304.6 1845.5L303.9 1848.1L303.1 1851.6L302.5 1854.2ZM285.6 1867.2L285.3 1864.6L285.0 1861.0L284.5 1856.6L284.1 1851.8L283.6 1847.0L283.2 1842.6L282.8 1839.0L282.5 1836.4L282.3 1836.1L282.1 1836.4L282.1 1839.0L282.2 1842.7L282.2 1847.1L282.3 1851.9L282.4 1856.7L282.5 1861.1L282.6 1864.8L282.6 1867.4ZM273.5 1876.4L271.4 1876.4L268.7 1876.3L265.4 1876.2L261.6 1876.1L257.3 1876.0L252.8 1876.0L249.3 1875.9L245.2 1875.9L240.8 1875.8L236.1 1875.8L231.5 1875.8L227.1 1875.7L223.2 1875.7L219.9 1875.7L217.4 1875.7L217.1 1875.9L217.4 1876.1L219.8 1876.4L223.1 1876.7L227.1 1877.1L231.4 1877.5L236.0 1877.9L240.6 1878.3L245.1 1878.7L249.1 1879.1L252.6 1879.4L257.1 1879.9L261.3 1880.3L265.1 1880.6L268.4 1881.0L271.1 1881.2L273.2 1881.4ZM266.4 1867.6L264.2 1867.1L261.1 1866.5L257.4 1865.7L253.6 1864.7L249.8 1863.6L246.5 1862.2L243.4 1860.4L240.3 1858.2L237.3 1855.8L234.2 1853.2L231.3 1850.8L228.4 1848.7L224.9 1846.4L221.4 1844.3L218.0 1842.3L215.2 1840.8L213.2 1839.6L212.8 1839.6L213.0 1840.0L214.9 1841.4L217.5 1843.2L220.6 1845.4L223.9 1847.8L227.2 1850.3L229.9 1852.5L232.7 1855.0L235.6 1857.7L238.7 1860.3L241.8 1862.8L245.1 1864.8L248.7 1866.5L252.6 1867.9L256.5 1869.1L260.2 1870.1L263.2 1870.9L265.4 1871.5ZM243.5 1861.1L242.4 1859.0L240.7 1855.9L238.8 1852.3L236.8 1848.6L235.2 1845.5L234.0 1843.4L233.7 1843.2L233.6 1843.6L234.6 1845.8L236.0 1849.1L237.7 1852.8L239.3 1856.6L240.8 1859.8L241.7 1862.0ZM315.4 1971.1L316.9 1969.0L318.7 1966.3L321.0 1963.1L323.5 1959.5L326.1 1955.7L328.7 1951.8L331.3 1948.1L333.6 1944.5L335.7 1941.4L338.0 1937.8L340.4 1934.1L342.7 1930.4L345.0 1926.9L347.2 1923.5L349.2 1920.2L351.0 1917.2L353.2 1913.2L355.0 1909.9L356.3 1906.6L357.1 1903.1L357.6 1899.1L357.8 1894.9L357.7 1890.5L357.1 1886.0L356.3 1882.2L355.2 1878.2L353.8 1874.1L352.4 1870.2L350.8 1866.7L348.9 1863.4L346.6 1860.3L344.3 1857.5L342.4 1855.1L341.0 1853.5L340.6 1853.4L340.6 1853.7L341.7 1855.6L343.2 1858.2L345.0 1861.3L346.7 1864.6L348.0 1867.9L349.1 1871.4L350.2 1875.2L351.1 1879.2L351.7 1883.0L351.9 1886.5L351.7 1890.4L351.0 1894.1L349.9 1897.4L348.5 1900.3L347.2 1902.5L345.9 1903.9L343.9 1905.5L340.6 1907.8L338.2 1909.2L335.2 1910.8L331.8 1912.5L328.1 1914.5L324.1 1916.6L320.0 1919.0L315.9 1921.6L312.6 1923.9L309.0 1926.5L305.2 1929.2L301.4 1932.1L297.7 1934.9L294.2 1937.6L291.1 1940.0L288.5 1942.0L286.5 1943.5ZM355.6 1887.9L357.5 1886.5L360.0 1884.6L362.9 1882.4L366.0 1880.2L369.1 1878.3L372.0 1877.1L375.7 1876.6L379.9 1876.6L384.2 1877.1L387.9 1877.6L390.6 1877.9L390.9 1877.8L390.6 1877.5L388.1 1876.9L384.4 1875.9L380.1 1875.0L375.7 1874.5L371.4 1874.7L368.0 1875.8L364.4 1877.5L361.0 1879.6L357.8 1881.6L355.2 1883.4L353.4 1884.6ZM372.6 1877.1L374.4 1875.7L377.0 1873.8L380.1 1871.5L383.3 1869.1L386.6 1866.8L389.4 1864.7L392.8 1862.4L396.3 1860.1L399.7 1857.9L402.5 1856.0L404.5 1854.7L404.7 1854.3L404.3 1854.3L402.1 1855.4L399.1 1857.0L395.6 1858.9L391.9 1861.0L388.4 1863.1L385.3 1865.0L382.0 1867.2L378.6 1869.4L375.4 1871.6L372.8 1873.4L370.8 1874.7ZM366.4 1879.0L366.7 1876.4L367.1 1872.5L367.5 1868.0L367.9 1863.5L368.3 1859.7L368.5 1857.0L368.3 1856.7L368.1 1857.0L367.6 1859.6L366.8 1863.4L366.0 1867.8L365.2 1872.2L364.5 1876.0L364.0 1878.7ZM354.3 1879.0L354.9 1876.2L355.8 1872.1L356.8 1867.5L357.6 1863.4L358.2 1860.6L358.1 1860.2L357.8 1860.4L356.9 1863.2L355.6 1867.2L354.1 1871.6L352.8 1875.6L351.9 1878.3ZM312.5 1969.7L314.2 1968.5L316.9 1966.9L320.7 1964.9L325.1 1962.5L329.8 1959.7L334.6 1956.4L339.1 1952.7L342.7 1948.9L345.6 1944.9L348.2 1940.9L350.4 1936.9L352.5 1933.1L354.4 1929.6L356.2 1926.7L357.8 1924.3L360.8 1921.1L362.9 1919.4L365.3 1918.3L369.4 1916.5L371.9 1915.4L374.9 1914.3L378.1 1913.1L381.7 1911.9L385.5 1910.6L389.6 1909.2L393.9 1907.7L398.4 1906.0L401.6 1904.7L405.0 1903.3L408.7 1901.8L412.6 1900.2L416.5 1898.6L420.5 1896.9L424.4 1895.3L428.2 1893.7L431.9 1892.1L435.3 1890.5L438.4 1889.1L441.2 1887.8L445.9 1885.3L449.9 1883.0L453.1 1880.8L455.7 1878.9L457.8 1877.3L459.5 1876.1L459.7 1875.7L459.3 1875.7L457.4 1876.6L455.1 1877.8L452.2 1879.2L448.7 1880.8L444.6 1882.7L439.8 1884.7L437.0 1885.8L433.8 1887.1L430.4 1888.5L426.7 1889.9L422.8 1891.4L418.9 1893.0L414.9 1894.5L410.9 1896.0L407.0 1897.4L403.3 1898.8L399.8 1900.0L396.6 1901.0L392.2 1902.4L387.9 1903.5L383.8 1904.4L379.9 1905.2L376.2 1906.0L372.6 1906.7L369.3 1907.6L366.2 1908.5L361.7 1910.3L358.4 1912.1L355.3 1914.2L351.2 1916.9L348.2 1918.9L345.1 1921.2L341.8 1923.7L338.4 1926.2L335.0 1928.5L331.7 1930.5L328.7 1931.8L326.5 1932.3L323.7 1932.4L320.4 1932.3L316.7 1932.0L312.9 1931.6L309.2 1931.2L305.6 1931.0L302.7 1931.0ZM395.9 1904.7L397.4 1906.4L399.2 1908.8L401.4 1911.7L404.0 1914.9L407.0 1918.0L410.3 1921.0L414.1 1923.4L417.5 1924.9L421.5 1926.3L425.9 1927.6L430.5 1928.8L435.1 1929.9L439.4 1930.8L443.3 1931.6L446.6 1932.4L449.0 1932.9L449.4 1932.8L449.2 1932.5L446.8 1931.7L443.5 1930.9L439.7 1929.8L435.4 1928.6L430.9 1927.3L426.4 1925.9L422.2 1924.4L418.4 1922.8L415.3 1921.2L412.0 1918.8L409.1 1915.9L406.5 1912.8L404.2 1909.6L402.2 1906.7L400.5 1904.1L399.1 1902.3ZM410.5 1920.6L412.7 1922.4L415.9 1924.9L419.5 1927.7L422.7 1930.3L424.8 1932.0L425.2 1932.0L425.2 1931.6L423.1 1929.7L420.2 1926.9L416.9 1923.8L413.9 1921.0L411.8 1919.1ZM440.4 1887.2L442.9 1887.5L446.5 1887.8L450.7 1888.1L454.9 1888.5L458.6 1888.8L461.1 1889.0L461.4 1888.8L461.1 1888.6L458.7 1888.2L455.1 1887.6L450.9 1886.9L446.7 1886.2L443.1 1885.7L440.6 1885.3ZM302.7 1962.5L304.4 1963.6L306.8 1965.4L309.9 1967.9L313.5 1970.7L317.5 1973.6L321.8 1976.5L326.4 1979.1L332.8 1981.6L341.1 1981.9L348.1 1979.4L352.1 1976.2L354.1 1973.8L355.2 1972.5L357.4 1971.8L360.1 1971.8L363.4 1972.2L367.2 1972.5L370.8 1972.4L374.6 1972.3L378.3 1972.2L381.5 1972.1L383.7 1972.0L390.4 1966.7L383.9 1961.0L381.7 1960.8L378.6 1960.6L374.9 1960.3L371.3 1959.9L368.4 1959.5L365.3 1958.9L362.3 1958.2L358.6 1957.4L353.8 1956.5L348.7 1956.5L344.5 1956.7L341.8 1956.0L341.8 1954.6L342.8 1953.4L344.1 1953.0L343.0 1951.2L341.1 1948.5L339.0 1945.4L336.8 1942.2L334.6 1939.1L332.5 1936.2L330.9 1934.1ZM284.2 1969.0L285.5 1970.9L287.1 1973.3L289.1 1976.4L291.4 1979.9L293.9 1983.6L296.5 1987.6L299.3 1991.6L302.0 1995.5L304.9 1999.3L307.6 2002.8L310.5 2006.0L314.2 2009.7L318.1 2012.8L321.9 2015.4L325.6 2017.6L329.0 2019.4L332.1 2021.1L334.9 2022.5L337.2 2024.0L340.3 2026.4L342.6 2028.5L344.7 2030.6L346.8 2032.9L349.4 2035.5L352.0 2037.8L354.6 2040.0L357.2 2042.2L359.9 2044.6L362.5 2047.0L365.2 2049.6L367.5 2052.0L369.8 2054.4L372.2 2056.9L374.5 2059.5L376.8 2062.3L379.0 2065.2L381.1 2068.4L382.7 2071.3L384.3 2074.7L386.0 2078.3L387.6 2082.2L389.2 2086.0L390.6 2089.6L391.9 2092.8L393.0 2095.5L393.8 2097.6L394.2 2097.8L394.3 2097.4L393.7 2095.3L392.9 2092.5L392.0 2089.1L390.9 2085.4L389.8 2081.4L388.5 2077.4L387.2 2073.5L385.9 2069.8L384.5 2066.6L382.6 2062.9L380.6 2059.6L378.4 2056.4L376.2 2053.5L374.0 2050.7L371.9 2048.1L369.8 2045.4L367.4 2042.4L364.9 2039.6L362.4 2036.9L360.1 2034.3L358.0 2031.9L356.2 2029.5L354.4 2026.9L352.9 2024.5L351.5 2021.9L349.9 2018.7L347.8 2014.8L346.1 2011.9L344.4 2008.8L342.7 2005.6L341.1 2002.4L339.5 1999.1L338.0 1995.8L336.6 1992.5L335.1 1989.0L334.1 1986.3L332.7 1982.9L331.2 1979.0L329.5 1975.0L327.8 1970.8L326.1 1966.6L324.5 1962.5L323.0 1958.7L321.6 1955.3L320.4 1952.3L319.4 1950.0ZM349.6 2032.2L351.8 2032.9L354.8 2034.0L358.4 2035.2L362.3 2036.4L365.8 2037.4L369.8 2038.6L373.9 2039.8L377.4 2040.8L379.9 2041.5L380.3 2041.4L380.1 2041.0L377.7 2040.0L374.3 2038.5L370.5 2036.8L366.6 2035.1L363.3 2033.6L359.8 2031.9L356.4 2030.1L353.6 2028.7L351.6 2027.6ZM362.2 2035.8L364.5 2037.4L367.9 2039.7L371.3 2042.1L373.6 2043.7L374.0 2043.7L374.0 2043.3L371.8 2041.5L368.7 2038.8L365.6 2036.1L363.4 2034.2ZM358.0 2038.7L357.0 2040.9L355.6 2043.9L353.9 2047.5L352.1 2051.4L350.3 2055.4L348.8 2059.3L347.6 2062.7L346.6 2067.2L346.0 2071.7L345.7 2075.9L345.5 2079.4L345.4 2081.9L345.6 2082.2L345.8 2081.9L346.3 2079.5L346.9 2076.0L347.6 2072.0L348.6 2067.7L350.0 2063.5L351.3 2060.3L353.1 2056.7L355.0 2052.8L357.0 2049.0L358.9 2045.5L360.5 2042.6L361.6 2040.5ZM379.6 2064.0L379.4 2066.5L379.2 2070.2L379.0 2074.5L378.7 2079.1L378.5 2083.5L378.3 2087.1L378.2 2089.7L378.4 2090.0L378.6 2089.7L379.0 2087.2L379.5 2083.5L380.1 2079.2L380.7 2074.7L381.2 2070.4L381.7 2066.7L382.1 2064.2ZM309.7 1983.3L308.7 1985.4L307.4 1988.3L305.7 1991.7L303.9 1995.7L301.9 1999.9L299.9 2004.3L297.9 2008.8L296.0 2013.1L294.4 2017.3L293.1 2021.2L292.2 2024.7L291.7 2029.9L292.2 2034.3L293.4 2038.0L294.8 2041.1L296.0 2044.2L296.8 2047.7L297.2 2051.0L297.6 2054.8L298.0 2058.8L298.3 2062.9L298.6 2066.9L298.9 2070.4L299.1 2073.4L299.3 2075.6L299.5 2075.9L299.7 2075.6L299.8 2073.4L300.0 2070.4L300.2 2066.8L300.4 2062.9L300.6 2058.8L300.7 2054.7L300.8 2050.8L300.8 2047.3L300.3 2043.1L299.3 2039.5L298.3 2036.4L297.7 2033.5L297.8 2030.4L299.0 2026.5L300.2 2024.0L302.0 2020.9L304.3 2017.4L306.8 2013.7L309.5 2009.9L312.3 2006.1L315.1 2002.5L317.7 1999.1L320.1 1996.0L322.1 1993.3L323.5 1991.3ZM298.8 2052.1L301.3 2052.5L305.0 2053.1L309.3 2053.8L313.5 2054.5L317.2 2055.1L319.7 2055.5L320.1 2055.4L319.9 2055.1L317.4 2054.4L313.8 2053.5L309.6 2052.4L305.4 2051.3L301.7 2050.3L299.3 2049.7ZM292.3 1958.8L291.2 1960.6L289.8 1963.0L287.9 1966.0L285.8 1969.4L283.5 1973.1L281.2 1977.1L279.0 1981.2L276.9 1985.4L275.2 1989.4L273.8 1993.3L272.6 1997.2L271.4 2001.3L270.4 2005.5L269.5 2009.8L268.7 2014.0L268.0 2018.1L267.5 2022.1L267.1 2026.1L267.1 2030.9L267.4 2035.5L268.1 2039.8L268.8 2043.8L269.5 2047.4L270.1 2050.5L270.4 2053.1L270.4 2057.5L270.1 2061.3L269.7 2064.5L269.4 2066.9L272.0 2071.6L276.2 2068.1L276.8 2065.9L277.6 2062.5L278.4 2058.2L279.0 2053.1L278.9 2049.6L278.4 2045.9L277.9 2042.3L277.4 2038.7L277.3 2035.1L277.8 2031.7L278.9 2028.5L280.3 2026.2L282.1 2023.7L284.3 2021.1L286.8 2018.5L289.5 2015.9L292.3 2013.3L295.1 2010.7L297.9 2008.1L300.4 2005.6L302.9 2003.2L305.6 2000.6L308.5 1997.9L311.4 1995.1L314.4 1992.4L317.1 1989.8L319.7 1987.4L321.9 1985.3L323.6 1983.6ZM271.1 2065.7L269.6 2067.2L267.6 2069.3L265.2 2071.6L262.6 2073.9L260.2 2075.5L257.4 2076.9L253.9 2079.1L249.6 2083.0L247.4 2085.4L244.9 2088.2L242.1 2091.5L239.2 2095.0L236.2 2098.7L233.3 2102.3L230.6 2105.7L228.2 2108.7L226.1 2111.3L224.6 2113.1L224.6 2113.5L225.0 2113.5L226.6 2111.7L228.8 2109.3L231.5 2106.4L234.4 2103.2L237.5 2099.8L240.7 2096.4L243.8 2093.0L246.8 2090.0L249.4 2087.3L251.6 2085.2L255.9 2081.8L259.1 2080.1L262.0 2078.8L265.0 2077.1L267.9 2074.9L270.7 2072.6L272.9 2070.7L274.5 2069.3ZM258.7 2077.3L256.4 2076.5L253.3 2075.5L249.4 2074.2L245.2 2072.7L240.9 2071.2L236.7 2069.8L232.9 2068.5L229.8 2067.4L227.5 2066.7L227.1 2066.8L227.3 2067.1L229.5 2068.0L232.6 2069.3L236.3 2070.8L240.4 2072.5L244.7 2074.3L248.8 2075.9L252.5 2077.5L255.6 2078.7L257.8 2079.6ZM269.8 2067.7L270.1 2070.1L270.5 2073.3L271.0 2077.0L271.5 2081.1L272.0 2085.5L272.4 2089.8L272.7 2094.0L272.8 2097.8L272.7 2101.0L272.1 2105.0L270.9 2108.6L269.5 2111.9L267.9 2115.0L266.3 2118.2L265.0 2121.4L263.5 2125.4L262.1 2129.5L260.8 2133.4L259.7 2136.7L259.0 2139.0L259.1 2139.4L259.4 2139.2L260.5 2137.0L261.9 2133.8L263.6 2130.2L265.5 2126.2L267.2 2122.4L268.8 2119.4L270.6 2116.5L272.4 2113.3L274.2 2109.9L275.7 2106.0L276.7 2101.5L277.0 2098.0L277.2 2093.9L277.1 2089.6L276.9 2085.1L276.7 2080.7L276.4 2076.5L276.1 2072.7L275.9 2069.6L275.8 2067.3ZM272.7 2105.9L273.5 2108.2L274.8 2111.4L276.2 2115.3L277.8 2119.4L279.3 2123.3L280.5 2126.6L281.4 2128.8L281.7 2129.0L281.8 2128.7L281.2 2126.3L280.2 2123.0L279.0 2119.0L277.8 2114.8L276.7 2110.8L275.7 2107.4L275.0 2105.1ZM302.2 1957.9L300.1 1958.6L296.5 1959.4L291.3 1960.6L285.1 1962.4L279.0 1965.0L274.9 1967.1L271.4 1969.3L268.0 1971.7L264.6 1974.2L261.3 1976.7L258.1 1979.1L255.1 1981.4L252.4 1983.3L250.1 1985.0L246.6 1987.0L243.1 1988.8L239.7 1990.4L236.6 1991.7L234.0 1992.7L231.9 1993.6L228.1 1998.5L233.7 2001.4L235.8 2001.4L238.6 2001.3L242.1 2001.2L246.2 2001.0L250.7 2000.7L255.5 2000.0L259.1 1999.3L262.8 1998.5L266.8 1997.6L270.7 1996.6L274.7 1995.7L278.4 1994.9L281.9 1994.2L284.8 1993.9L286.6 1994.0L290.3 1994.4L293.5 1995.3L296.6 1996.3L299.9 1997.3L302.8 1997.9ZM233.2 1994.0L231.2 1993.8L228.3 1993.5L224.7 1993.2L220.6 1993.1L216.0 1993.4L212.4 1994.1L208.4 1995.0L204.3 1996.2L200.1 1997.3L196.0 1998.3L192.2 1999.1L188.8 1999.5L185.2 1999.4L181.9 1998.9L178.7 1998.1L175.4 1997.1L172.1 1996.0L168.6 1995.0L164.7 1993.8L160.3 1992.5L156.0 1991.0L151.9 1989.6L148.4 1988.4L145.9 1987.6L145.5 1987.7L145.7 1988.0L148.1 1989.1L151.4 1990.7L155.3 1992.6L159.6 1994.5L163.8 1996.3L167.6 1997.8L171.0 1999.1L174.3 2000.4L177.6 2001.6L181.0 2002.7L184.7 2003.4L188.8 2003.7L192.7 2003.6L196.9 2003.0L201.3 2002.2L205.6 2001.3L209.7 2000.4L213.4 1999.8L216.6 1999.4L220.6 1999.4L224.2 1999.7L227.5 2000.2L230.3 2000.7L232.4 2001.0ZM167.8 1995.4L165.0 1996.3L160.8 1997.7L156.2 1999.1L152.0 2000.5L149.1 2001.4L148.9 2001.7L149.3 2001.8L152.2 2001.2L156.4 2000.2L161.2 1999.0L165.5 1998.0L168.4 1997.4ZM201.8 1999.2L200.0 1996.5L197.6 1992.9L195.8 1990.3L195.5 1990.1L195.4 1990.5L196.6 1993.4L198.3 1997.4L199.6 2000.4ZM195.5 1998.7L193.1 1999.9L189.4 2001.9L185.6 2005.3L183.9 2007.9L182.8 2010.5L181.8 2013.3L180.4 2016.2L178.5 2019.4L175.6 2022.9L173.4 2025.0L170.6 2027.5L167.4 2030.3L163.9 2033.2L160.2 2036.2L156.5 2039.1L152.9 2041.9L149.5 2044.6L146.5 2046.9L144.0 2048.9L142.1 2050.4L142.1 2050.8L142.5 2050.8L144.4 2049.4L147.0 2047.6L150.2 2045.4L153.7 2043.0L157.4 2040.4L161.3 2037.6L165.2 2034.9L168.9 2032.1L172.3 2029.5L175.3 2027.1L177.8 2024.9L181.1 2021.3L183.5 2017.9L185.1 2014.7L186.3 2012.0L187.3 2009.7L188.4 2008.1L191.8 2005.4L195.0 2003.8L197.4 2002.7ZM179.8 2019.4L177.3 2019.5L173.5 2019.7L169.3 2019.9L165.6 2020.1L163.0 2020.3L162.7 2020.5L163.0 2020.7L165.6 2020.8L169.3 2021.0L173.5 2021.1L177.3 2021.3L179.8 2021.4ZM173.4 2025.7L172.5 2028.1L171.3 2031.5L169.7 2035.5L168.1 2039.8L166.6 2043.8L165.4 2047.2L164.5 2049.6L164.6 2050.0L164.9 2049.8L166.0 2047.5L167.4 2044.1L169.2 2040.2L171.0 2036.0L172.8 2032.1L174.2 2028.8L175.3 2026.4ZM231.0 1995.1L228.9 1996.6L224.6 2000.2L222.4 2002.3L219.8 2004.9L216.8 2007.8L213.7 2010.9L210.6 2014.2L207.9 2017.5L205.7 2020.3L203.7 2023.3L201.8 2026.4L199.9 2029.5L198.1 2032.6L196.3 2035.7L194.5 2038.7L192.4 2042.5L190.2 2046.6L188.1 2050.6L186.2 2054.4L184.6 2057.6L183.4 2059.9L183.5 2060.3L183.8 2060.1L185.2 2057.9L187.1 2054.9L189.3 2051.3L191.8 2047.5L194.3 2043.6L196.7 2040.1L198.6 2037.1L200.6 2034.2L202.5 2031.2L204.6 2028.2L206.6 2025.3L208.7 2022.6L210.9 2020.0L213.8 2017.2L216.9 2014.3L220.2 2011.5L223.4 2009.0L226.2 2006.7L228.6 2004.8L232.7 2001.4L234.6 1999.9ZM206.4 2020.5L204.7 2022.1L202.1 2024.3L199.1 2027.0L195.8 2029.9L192.5 2032.7L189.5 2035.4L186.9 2037.6L185.1 2039.2L185.1 2039.6L185.5 2039.6L187.4 2038.2L190.0 2036.1L193.3 2033.7L196.7 2031.0L200.2 2028.4L203.4 2025.9L206.1 2023.9L208.0 2022.4ZM305.6 1944.4L303.3 1944.8L300.7 1945.6L298.0 1946.4L294.9 1947.2L290.9 1947.8L288.3 1948.1L284.9 1948.3L281.3 1948.4L277.4 1948.5L273.4 1948.6L269.3 1948.5L265.4 1948.4L261.6 1948.1L258.3 1947.7L255.0 1947.1L252.0 1946.1L249.1 1944.8L246.0 1943.4L242.8 1941.8L239.3 1940.4L235.3 1939.2L230.9 1938.3L227.7 1937.8L224.3 1937.4L220.6 1937.0L216.9 1936.6L212.9 1936.3L208.9 1936.1L204.9 1935.9L200.8 1935.9L196.8 1936.0L192.8 1936.2L188.9 1936.6L185.2 1937.1L181.2 1938.0L177.0 1939.3L172.8 1940.7L168.6 1942.4L164.5 1944.2L160.6 1946.0L157.0 1947.8L153.6 1949.4L150.6 1950.9L148.0 1952.2L146.0 1953.1L145.8 1953.4L146.2 1953.5L148.3 1952.9L151.0 1951.9L154.2 1950.8L157.7 1949.6L161.5 1948.3L165.6 1946.9L169.8 1945.6L174.0 1944.5L178.1 1943.4L182.2 1942.6L186.0 1942.1L189.5 1941.7L193.1 1941.5L196.9 1941.4L200.8 1941.3L204.8 1941.4L208.7 1941.5L212.6 1941.7L216.4 1942.0L220.0 1942.4L223.5 1942.9L226.8 1943.5L229.7 1944.1L233.4 1945.3L236.6 1946.7L239.4 1948.3L242.0 1950.2L244.6 1952.2L247.3 1954.4L250.4 1956.7L253.9 1958.9L257.3 1960.9L260.7 1963.0L264.3 1965.2L267.9 1967.4L271.5 1969.6L275.0 1971.8L278.4 1973.8L281.6 1975.6L284.7 1977.2L289.8 1979.5L294.6 1981.3L298.6 1982.6L301.4 1983.5L303.1 1984.3ZM188.0 1938.8L187.2 1936.6L186.1 1933.8L184.9 1930.5L183.6 1926.8L182.4 1922.7L181.4 1918.3L180.8 1913.6L180.6 1910.5L180.6 1906.9L180.6 1903.0L180.7 1898.7L180.9 1894.3L181.2 1889.9L181.4 1885.6L181.7 1881.5L181.9 1877.6L182.2 1874.2L182.3 1871.3L182.4 1869.1L182.2 1868.8L182.0 1869.1L181.7 1871.3L181.3 1874.1L180.8 1877.5L180.2 1881.3L179.6 1885.4L179.0 1889.7L178.4 1894.1L177.9 1898.5L177.4 1902.8L177.1 1906.8L176.8 1910.5L176.8 1913.9L177.2 1919.0L178.0 1923.8L179.1 1928.2L180.4 1932.1L181.6 1935.5L182.6 1938.2L183.2 1940.4ZM180.5 1893.7L179.2 1891.7L177.3 1888.7L175.0 1885.2L172.8 1881.7L170.8 1878.7L169.5 1876.7L169.1 1876.5L169.1 1876.9L170.3 1879.1L172.0 1882.2L173.9 1885.8L175.9 1889.5L177.6 1892.6L178.8 1894.7ZM180.3 1916.9L178.3 1915.8L175.7 1914.3L172.7 1912.5L169.2 1910.4L165.4 1908.3L161.5 1906.1L157.6 1904.1L153.7 1902.2L150.4 1900.7L146.8 1899.1L142.9 1897.6L138.9 1896.0L134.9 1894.4L131.1 1893.0L127.5 1891.6L124.3 1890.4L121.7 1889.4L119.6 1888.6L119.2 1888.7L119.4 1889.0L121.4 1890.0L124.0 1891.2L127.1 1892.6L130.6 1894.2L134.3 1896.0L138.1 1897.8L142.0 1899.6L145.7 1901.5L149.2 1903.2L152.3 1904.8L156.1 1906.9L159.9 1909.1L163.7 1911.3L167.3 1913.6L170.7 1915.7L173.7 1917.6L176.3 1919.2L178.3 1920.4ZM152.5 1902.6L150.4 1903.9L147.2 1905.8L143.6 1907.8L140.4 1909.7L138.3 1911.0L138.1 1911.3L138.5 1911.4L140.8 1910.4L144.1 1908.8L147.8 1907.0L151.2 1905.5L153.5 1904.4ZM225.7 1939.4L224.8 1937.2L223.6 1934.2L222.2 1930.6L220.5 1926.6L218.6 1922.7L216.5 1919.2L214.2 1916.2L211.0 1913.6L207.2 1911.5L203.3 1909.8L199.6 1908.5L196.5 1907.5L194.3 1906.7L193.9 1906.8L194.1 1907.1L196.2 1908.2L199.2 1909.7L202.6 1911.4L206.2 1913.4L209.4 1915.7L212.0 1918.2L213.8 1920.9L215.6 1924.3L217.2 1928.1L218.7 1931.9L220.0 1935.6L221.2 1938.7L222.0 1940.9ZM216.4 1919.9L216.1 1917.3L215.7 1913.4L215.2 1908.9L214.6 1904.1L214.1 1899.6L213.7 1895.7L213.3 1893.1L213.1 1892.8L212.9 1893.1L213.0 1895.8L213.1 1899.7L213.3 1904.2L213.5 1909.0L213.7 1913.6L213.8 1917.4L213.9 1920.1ZM245.5 1946.4L244.7 1943.9L243.6 1940.3L242.3 1936.1L241.0 1931.9L239.9 1928.2L239.1 1925.7L238.8 1925.5L238.7 1925.9L239.1 1928.4L239.8 1932.2L240.6 1936.5L241.4 1940.8L242.1 1944.6L242.6 1947.1ZM211.3 1937.6L209.5 1939.6L207.1 1942.4L204.2 1945.6L201.1 1948.9L198.0 1951.9L195.1 1954.2L191.4 1956.4L187.3 1958.1L183.1 1959.6L179.5 1960.8L176.9 1961.7L176.7 1962.0L177.1 1962.1L179.7 1961.6L183.5 1961.0L187.9 1960.0L192.5 1958.7L196.7 1956.8L200.1 1954.4L203.5 1951.4L206.8 1948.1L209.9 1944.9L212.4 1942.3L214.2 1940.4Z" fill="#4ba8bf"/></g>
<g filter="url(#goo)"><path d="M754.4 1987.8L757.2 1987.8L761.3 1987.9L765.9 1988.0L770.0 1988.0L772.5 1988.3L775.8 1989.1L780.1 1989.7L785.5 1989.3L790.7 1986.5L793.9 1982.8L795.9 1979.0L797.4 1975.0L798.7 1970.9L799.7 1967.0L800.7 1963.3L801.5 1960.1L802.5 1956.2L803.2 1952.6L803.7 1949.2L804.1 1946.0L804.6 1942.5L805.2 1939.1L805.9 1935.4L806.5 1931.5L807.2 1927.9L807.7 1924.9L808.1 1922.7L805.6 1917.9L801.3 1921.3L800.8 1923.4L800.0 1926.4L799.2 1930.0L798.2 1933.7L797.3 1937.4L796.4 1940.7L795.4 1944.1L794.5 1947.3L793.6 1950.2L792.5 1953.2L791.1 1956.7L789.8 1959.7L788.4 1963.2L786.9 1966.7L785.4 1970.1L783.9 1973.0L782.5 1975.0L782.1 1975.5L781.6 1975.8L780.5 1975.8L777.9 1975.6L774.2 1975.1L770.0 1975.0L765.3 1975.4L760.7 1976.0L756.6 1976.5L753.8 1976.8ZM807.4 1920.6L806.2 1918.7L804.7 1915.8L802.7 1912.5L800.4 1909.1L797.9 1906.2L795.1 1904.1L792.1 1902.4L789.1 1901.0L786.1 1899.6L783.1 1897.9L779.9 1895.9L776.4 1893.6L773.0 1891.3L769.9 1889.1L767.7 1887.3L765.0 1883.4L764.2 1880.8L762.9 1879.9L762.2 1881.4L763.0 1884.4L765.7 1888.9L768.2 1891.2L771.3 1893.6L774.6 1896.1L778.1 1898.6L781.3 1900.9L784.3 1902.8L787.3 1904.4L790.2 1905.9L792.6 1907.5L794.7 1909.4L796.5 1911.9L798.2 1915.0L799.8 1918.3L801.1 1921.3L802.0 1923.4ZM787.1 1901.0L785.0 1902.5L782.1 1904.7L778.7 1907.1L775.2 1909.3L771.9 1910.8L768.6 1911.5L764.8 1911.8L761.1 1911.8L757.8 1911.7L755.5 1911.7L754.3 1912.7L755.5 1913.7L757.8 1913.8L761.0 1913.9L764.9 1914.0L768.9 1913.9L772.7 1913.2L776.4 1911.8L780.3 1909.8L784.0 1907.6L787.1 1905.7L789.3 1904.4ZM805.2 1921.9L806.9 1920.5L809.4 1918.2L812.1 1914.7L813.8 1911.7L815.6 1908.1L817.4 1904.2L818.9 1900.4L820.1 1897.1L821.2 1892.5L821.4 1888.6L821.3 1885.1L820.2 1880.8L818.9 1877.9L817.5 1877.2L817.1 1878.7L818.2 1881.4L819.1 1885.5L819.0 1888.5L818.5 1892.0L817.3 1896.1L815.9 1899.1L814.1 1902.6L812.1 1906.2L810.1 1909.6L808.5 1912.1L806.0 1915.0L803.7 1916.8L802.1 1918.0ZM819.6 1898.1L821.5 1896.9L824.1 1895.1L827.1 1893.1L830.3 1891.1L833.4 1889.2L836.6 1887.3L840.2 1885.3L843.7 1883.4L846.7 1881.7L848.8 1880.6L849.4 1879.1L847.8 1878.8L845.7 1879.9L842.6 1881.5L839.1 1883.3L835.5 1885.2L832.2 1887.0L829.0 1888.8L825.6 1890.7L822.4 1892.5L819.7 1894.0L817.8 1895.1ZM802.4 1944.6L804.5 1943.1L807.2 1941.2L810.4 1938.9L814.0 1936.4L817.8 1934.0L821.6 1931.7L825.4 1929.8L828.4 1928.5L831.6 1927.3L835.0 1926.1L838.5 1924.9L842.0 1923.9L845.6 1922.9L849.0 1922.0L852.4 1921.3L855.5 1920.6L859.5 1919.9L863.3 1919.4L867.0 1919.0L870.7 1918.8L874.2 1918.7L877.5 1918.7L880.5 1918.7L884.7 1919.0L888.6 1919.6L892.2 1920.3L895.1 1920.9L897.3 1921.4L898.6 1920.7L897.7 1919.6L895.5 1919.2L892.6 1918.5L888.9 1917.7L884.9 1917.1L880.7 1916.7L877.5 1916.6L874.1 1916.5L870.6 1916.5L866.9 1916.6L863.1 1916.8L859.1 1917.1L855.1 1917.6L851.8 1918.1L848.3 1918.7L844.7 1919.4L841.1 1920.2L837.4 1921.0L833.8 1922.0L830.2 1923.0L826.7 1924.0L823.4 1925.2L819.2 1927.0L815.0 1929.1L810.8 1931.3L807.0 1933.6L803.6 1935.7L800.7 1937.4L798.6 1938.6ZM856.4 1920.1L858.1 1918.1L860.2 1915.4L862.9 1912.2L865.7 1908.8L868.6 1905.6L871.4 1903.0L874.4 1900.6L877.9 1898.4L881.4 1896.3L884.7 1894.4L887.5 1892.9L889.5 1891.7L890.0 1890.4L888.7 1890.1L886.6 1891.3L883.8 1892.8L880.5 1894.7L876.9 1896.8L873.3 1899.1L870.2 1901.4L867.1 1904.1L864.0 1907.3L861.0 1910.5L858.2 1913.6L855.9 1916.3L854.2 1918.1ZM799.9 1948.0L802.2 1947.9L805.2 1947.5L808.8 1947.2L812.8 1946.8L816.8 1946.6L820.7 1946.4L824.2 1946.4L828.0 1946.7L831.8 1947.4L835.6 1948.3L839.4 1949.1L843.2 1949.6L846.9 1949.7L850.8 1949.2L854.7 1948.2L858.5 1947.0L861.9 1945.7L864.8 1944.6L866.9 1943.9L867.6 1942.7L866.3 1942.1L864.2 1942.9L861.3 1943.9L857.9 1945.2L854.1 1946.3L850.4 1947.2L846.9 1947.5L843.5 1947.2L840.0 1946.4L836.3 1945.4L832.6 1944.2L828.6 1943.1L824.6 1942.4L820.8 1942.1L816.8 1941.9L812.6 1941.9L808.6 1941.9L804.9 1942.0L801.8 1942.0L799.6 1942.0ZM838.9 1949.3L841.3 1950.4L844.6 1951.9L848.5 1953.7L852.7 1955.6L856.8 1957.5L860.4 1959.3L863.9 1961.0L867.5 1962.9L870.9 1964.8L874.1 1966.6L876.8 1968.0L878.8 1969.1L880.1 1968.8L879.6 1967.5L877.7 1966.4L875.0 1965.0L871.8 1963.2L868.3 1961.3L864.8 1959.4L861.4 1957.5L857.8 1955.6L853.8 1953.4L849.8 1951.2L846.0 1949.2L842.8 1947.4L840.5 1946.2ZM782.1 1986.5L783.9 1987.7L786.4 1989.4L789.5 1991.5L792.9 1993.8L796.6 1996.1L800.4 1998.3L803.9 2000.1L807.9 2002.1L812.0 2004.1L816.1 2006.0L819.8 2007.8L822.9 2009.2L825.1 2010.3L832.0 2008.8L829.3 2002.3L827.1 2001.1L824.0 1999.4L820.5 1997.4L816.6 1995.3L812.8 1993.1L809.2 1990.9L806.2 1988.9L803.1 1986.6L800.1 1984.1L797.2 1981.5L794.6 1979.1L792.4 1977.0L790.7 1975.5ZM828.5 2009.0L830.7 2007.8L833.7 2006.1L837.2 2004.1L841.1 2002.0L845.2 2000.0L849.2 1998.1L853.0 1996.7L856.3 1995.7L859.8 1994.9L863.5 1994.3L867.2 1993.8L870.9 1993.3L874.4 1992.8L877.8 1992.4L880.8 1991.9L885.2 1991.0L889.2 1990.1L892.7 1989.3L895.6 1988.7L897.7 1988.2L898.6 1987.1L897.3 1986.4L895.2 1986.9L892.3 1987.5L888.8 1988.2L884.8 1989.0L880.4 1989.7L877.5 1990.1L874.2 1990.4L870.6 1990.7L866.9 1991.1L863.1 1991.4L859.3 1991.9L855.6 1992.5L852.0 1993.3L847.9 1994.6L843.5 1996.1L839.2 1997.8L835.0 1999.6L831.3 2001.3L828.2 2002.6L825.9 2003.6ZM851.6 1996.2L853.5 1997.6L856.1 1999.7L859.2 2002.2L862.6 2004.8L866.2 2007.4L869.8 2009.6L873.2 2011.4L877.3 2012.8L881.7 2013.8L886.0 2014.5L890.1 2014.9L893.5 2015.3L896.0 2015.6L897.2 2014.8L896.2 2013.8L893.7 2013.5L890.3 2013.1L886.3 2012.7L882.0 2012.0L877.8 2011.0L874.0 2009.6L870.9 2007.8L867.5 2005.5L864.1 2002.9L860.8 2000.1L857.8 1997.6L855.3 1995.4L853.4 1993.8ZM825.8 2004.2L823.8 2005.7L821.1 2007.8L818.0 2010.2L814.5 2012.6L810.9 2014.7L807.1 2016.0L804.1 2016.6L800.4 2016.8L796.4 2016.9L792.3 2016.7L788.3 2016.5L784.7 2016.2L781.7 2016.0L779.5 2015.9L778.3 2016.7L779.3 2017.7L781.6 2017.9L784.6 2018.2L788.2 2018.6L792.1 2019.0L796.3 2019.3L800.4 2019.5L804.3 2019.4L807.9 2019.0L812.1 2017.7L816.3 2015.8L820.2 2013.6L823.7 2011.5L826.5 2009.6L828.6 2008.4ZM822.8 2007.3L823.6 2010.0L824.7 2014.0L826.2 2018.6L827.3 2022.0L828.7 2025.9L830.2 2029.8L831.4 2033.2L832.3 2035.5L836.9 2038.4L838.9 2033.3L838.2 2030.9L837.1 2027.4L835.9 2023.5L834.7 2019.6L833.8 2016.4L832.8 2011.9L832.1 2008.0L831.6 2005.3ZM833.2 2036.2L834.6 2038.0L836.7 2040.4L839.1 2043.3L841.6 2046.4L844.1 2049.5L846.3 2052.5L847.9 2055.0L849.5 2058.2L850.6 2061.2L851.4 2064.2L852.1 2067.2L852.8 2070.2L853.7 2074.4L854.6 2078.7L855.3 2082.5L855.8 2085.1L856.9 2086.1L857.6 2084.9L857.2 2082.2L856.6 2078.3L856.0 2074.0L855.2 2069.8L854.7 2066.7L854.3 2063.6L853.8 2060.4L852.9 2056.9L851.5 2053.2L849.9 2050.2L847.9 2046.9L845.6 2043.4L843.3 2040.1L841.1 2037.0L839.3 2034.4L838.0 2032.6ZM832.7 2033.8L832.3 2036.2L831.8 2039.5L831.2 2043.3L830.6 2047.5L829.8 2051.7L828.9 2055.6L827.9 2058.9L826.5 2062.2L824.8 2065.3L822.9 2068.3L820.9 2071.3L819.0 2074.2L817.2 2077.1L815.5 2080.4L814.2 2083.4L813.0 2086.3L811.4 2089.3L809.3 2092.7L807.1 2095.6L804.4 2098.9L801.4 2102.4L798.3 2106.0L795.5 2109.2L793.0 2111.9L791.3 2113.9L791.3 2115.3L792.7 2115.1L794.4 2113.2L796.9 2110.5L799.8 2107.3L803.0 2103.9L806.1 2100.4L809.0 2097.0L811.3 2094.1L813.7 2090.7L815.5 2087.6L817.0 2084.8L818.5 2081.9L820.2 2078.9L822.0 2076.2L824.0 2073.5L826.2 2070.6L828.3 2067.5L830.3 2064.2L832.1 2060.5L833.4 2056.9L834.6 2052.8L835.6 2048.5L836.6 2044.3L837.4 2040.5L838.0 2037.3L838.5 2035.0ZM826.2 2065.0L823.9 2065.5L820.7 2066.3L816.9 2067.3L812.8 2068.2L808.7 2069.1L804.8 2069.9L800.9 2070.6L796.5 2071.2L792.1 2071.7L788.1 2072.2L784.6 2072.6L782.1 2072.9L781.1 2073.9L782.3 2074.7L784.8 2074.4L788.3 2074.1L792.4 2073.7L796.8 2073.2L801.2 2072.6L805.2 2072.1L809.1 2071.4L813.3 2070.6L817.5 2069.8L821.3 2069.0L824.5 2068.4L826.9 2067.9ZM809.1 2093.9L810.1 2095.9L811.4 2098.9L813.0 2102.2L815.1 2105.3L817.9 2108.2L821.3 2111.0L824.5 2113.5L826.6 2115.2L828.0 2115.2L827.8 2113.8L825.6 2112.1L822.5 2109.6L819.2 2106.8L816.7 2104.1L814.9 2101.2L813.4 2098.0L812.3 2095.0L811.5 2092.9Z" fill="#4ba8bf"/></g>
<path d="M322.4 1951.9L321.4 1949.7L320.0 1946.7L318.4 1943.4L316.7 1940.0L314.9 1936.7L313.4 1934.0L311.6 1930.7L309.6 1927.1L307.5 1923.2L305.4 1919.3L303.2 1915.5L301.0 1912.0L298.8 1908.7L296.6 1905.5L294.4 1902.5L292.3 1899.5L290.3 1896.7L288.0 1893.1L285.7 1889.6L283.6 1886.1L281.6 1883.0L279.7 1880.2L276.3 1876.6L274.2 1874.9L268.7 1874.7L269.4 1880.1L270.4 1881.3L271.9 1884.8L272.4 1887.1L273.2 1890.4L274.0 1894.2L274.7 1898.3L275.3 1902.3L275.7 1905.7L276.0 1909.2L276.1 1912.8L276.3 1916.3L276.3 1919.9L276.4 1923.5L276.3 1927.2L276.2 1931.1L276.1 1935.3L276.1 1939.6L276.2 1944.0L276.7 1948.3L277.5 1953.1L278.5 1957.7L279.6 1961.7L280.6 1964.9L281.2 1967.1ZM274.6 1875.4L273.1 1873.5L270.9 1870.9L268.4 1867.8L266.1 1864.6L264.3 1861.3L263.0 1858.6L261.9 1855.6L260.8 1852.5L260.0 1849.3L259.4 1845.9L259.0 1842.4L259.0 1839.3L259.3 1835.8L259.7 1832.1L260.3 1828.4L260.9 1824.7L261.6 1821.1L262.2 1817.8L263.0 1813.3L264.1 1808.9L265.1 1804.7L266.0 1801.2L266.6 1798.7L266.5 1798.3L266.2 1798.5L265.2 1800.9L263.9 1804.3L262.3 1808.3L260.8 1812.7L259.4 1817.2L258.6 1820.5L257.6 1824.0L256.7 1827.7L255.9 1831.5L255.2 1835.3L254.7 1839.0L254.6 1842.6L254.7 1846.4L255.2 1850.2L256.0 1853.8L257.0 1857.2L258.1 1860.5L259.3 1863.7L261.1 1867.5L263.4 1871.3L265.7 1874.8L267.6 1877.6L269.0 1879.6ZM258.6 1845.3L257.4 1843.3L255.8 1840.4L253.9 1837.0L251.7 1833.4L249.3 1829.8L246.8 1826.7L243.9 1823.8L240.5 1820.9L237.0 1818.2L233.6 1815.7L230.8 1813.6L228.8 1812.1L228.4 1812.1L228.4 1812.5L230.3 1814.2L232.9 1816.5L236.0 1819.3L239.3 1822.3L242.3 1825.4L244.8 1828.3L247.0 1831.4L249.2 1834.9L251.1 1838.6L252.9 1842.0L254.4 1844.9L255.5 1847.0ZM246.8 1827.3L246.1 1824.8L245.0 1821.3L243.8 1817.2L242.6 1813.1L241.6 1809.6L240.8 1807.1L240.5 1806.9L240.4 1807.3L240.9 1809.7L241.7 1813.3L242.6 1817.5L243.5 1821.7L244.3 1825.3L244.8 1827.7ZM261.1 1821.5L262.6 1819.4L264.7 1816.2L267.2 1812.5L269.9 1808.6L272.5 1804.9L274.6 1801.8L276.1 1799.6L276.1 1799.3L275.7 1799.4L274.1 1801.4L271.7 1804.4L268.9 1807.9L265.9 1811.5L263.1 1815.0L260.7 1818.0L259.1 1820.0ZM261.8 1817.3L261.1 1814.8L260.2 1811.2L259.1 1807.1L258.0 1802.9L257.0 1799.3L256.3 1796.8L256.0 1796.6L255.9 1797.0L256.3 1799.5L257.0 1803.1L257.8 1807.3L258.6 1811.6L259.3 1815.2L259.8 1817.7ZM281.8 1889.2L282.3 1886.9L282.9 1883.8L283.7 1880.2L284.5 1876.2L285.5 1872.0L286.5 1868.0L287.5 1864.6L288.6 1861.0L289.8 1857.3L291.0 1853.6L292.2 1849.7L293.3 1845.9L294.4 1842.1L295.3 1838.1L296.3 1833.8L297.1 1829.5L298.0 1825.3L298.7 1821.4L299.3 1818.2L299.7 1815.9L299.6 1815.5L299.3 1815.7L298.5 1818.0L297.5 1821.1L296.4 1824.9L295.1 1828.9L293.7 1833.1L292.3 1837.3L291.0 1841.1L289.7 1844.7L288.4 1848.4L287.0 1852.2L285.6 1855.9L284.2 1859.6L282.9 1863.1L281.7 1866.6L280.4 1870.6L279.0 1874.7L277.8 1878.6L276.6 1882.2L275.7 1885.2L275.0 1887.4ZM294.7 1838.6L296.5 1836.7L299.1 1834.0L302.1 1830.9L304.8 1828.2L306.6 1826.3L306.6 1825.9L306.2 1825.9L304.2 1827.6L301.2 1830.0L298.0 1832.7L295.0 1835.1L293.0 1836.8ZM286.0 1865.2L288.0 1863.9L290.8 1862.0L294.1 1859.9L297.3 1857.9L300.2 1856.4L303.4 1855.1L306.7 1854.2L309.6 1853.5L311.6 1852.9L311.9 1852.6L311.6 1852.5L309.5 1852.7L306.5 1853.0L303.0 1853.6L299.4 1854.6L296.3 1856.0L292.8 1857.8L289.4 1859.7L286.5 1861.4L284.4 1862.6ZM304.0 1854.5L304.3 1851.8L304.7 1848.2L305.0 1845.5L304.9 1845.2L304.6 1845.5L303.9 1848.1L303.1 1851.6L302.5 1854.2ZM285.6 1867.2L285.3 1864.6L285.0 1861.0L284.5 1856.6L284.1 1851.8L283.6 1847.0L283.2 1842.6L282.8 1839.0L282.5 1836.4L282.3 1836.1L282.1 1836.4L282.1 1839.0L282.2 1842.7L282.2 1847.1L282.3 1851.9L282.4 1856.7L282.5 1861.1L282.6 1864.8L282.6 1867.4ZM273.5 1876.4L271.4 1876.4L268.7 1876.3L265.4 1876.2L261.6 1876.1L257.3 1876.0L252.8 1876.0L249.3 1875.9L245.2 1875.9L240.8 1875.8L236.1 1875.8L231.5 1875.8L227.1 1875.7L223.2 1875.7L219.9 1875.7L217.4 1875.7L217.1 1875.9L217.4 1876.1L219.8 1876.4L223.1 1876.7L227.1 1877.1L231.4 1877.5L236.0 1877.9L240.6 1878.3L245.1 1878.7L249.1 1879.1L252.6 1879.4L257.1 1879.9L261.3 1880.3L265.1 1880.6L268.4 1881.0L271.1 1881.2L273.2 1881.4ZM266.4 1867.6L264.2 1867.1L261.1 1866.5L257.4 1865.7L253.6 1864.7L249.8 1863.6L246.5 1862.2L243.4 1860.4L240.3 1858.2L237.3 1855.8L234.2 1853.2L231.3 1850.8L228.4 1848.7L224.9 1846.4L221.4 1844.3L218.0 1842.3L215.2 1840.8L213.2 1839.6L212.8 1839.6L213.0 1840.0L214.9 1841.4L217.5 1843.2L220.6 1845.4L223.9 1847.8L227.2 1850.3L229.9 1852.5L232.7 1855.0L235.6 1857.7L238.7 1860.3L241.8 1862.8L245.1 1864.8L248.7 1866.5L252.6 1867.9L256.5 1869.1L260.2 1870.1L263.2 1870.9L265.4 1871.5ZM243.5 1861.1L242.4 1859.0L240.7 1855.9L238.8 1852.3L236.8 1848.6L235.2 1845.5L234.0 1843.4L233.7 1843.2L233.6 1843.6L234.6 1845.8L236.0 1849.1L237.7 1852.8L239.3 1856.6L240.8 1859.8L241.7 1862.0ZM315.4 1971.1L316.9 1969.0L318.7 1966.3L321.0 1963.1L323.5 1959.5L326.1 1955.7L328.7 1951.8L331.3 1948.1L333.6 1944.5L335.7 1941.4L338.0 1937.8L340.4 1934.1L342.7 1930.4L345.0 1926.9L347.2 1923.5L349.2 1920.2L351.0 1917.2L353.2 1913.2L355.0 1909.9L356.3 1906.6L357.1 1903.1L357.6 1899.1L357.8 1894.9L357.7 1890.5L357.1 1886.0L356.3 1882.2L355.2 1878.2L353.8 1874.1L352.4 1870.2L350.8 1866.7L348.9 1863.4L346.6 1860.3L344.3 1857.5L342.4 1855.1L341.0 1853.5L340.6 1853.4L340.6 1853.7L341.7 1855.6L343.2 1858.2L345.0 1861.3L346.7 1864.6L348.0 1867.9L349.1 1871.4L350.2 1875.2L351.1 1879.2L351.7 1883.0L351.9 1886.5L351.7 1890.4L351.0 1894.1L349.9 1897.4L348.5 1900.3L347.2 1902.5L345.9 1903.9L343.9 1905.5L340.6 1907.8L338.2 1909.2L335.2 1910.8L331.8 1912.5L328.1 1914.5L324.1 1916.6L320.0 1919.0L315.9 1921.6L312.6 1923.9L309.0 1926.5L305.2 1929.2L301.4 1932.1L297.7 1934.9L294.2 1937.6L291.1 1940.0L288.5 1942.0L286.5 1943.5ZM355.6 1887.9L357.5 1886.5L360.0 1884.6L362.9 1882.4L366.0 1880.2L369.1 1878.3L372.0 1877.1L375.7 1876.6L379.9 1876.6L384.2 1877.1L387.9 1877.6L390.6 1877.9L390.9 1877.8L390.6 1877.5L388.1 1876.9L384.4 1875.9L380.1 1875.0L375.7 1874.5L371.4 1874.7L368.0 1875.8L364.4 1877.5L361.0 1879.6L357.8 1881.6L355.2 1883.4L353.4 1884.6ZM372.6 1877.1L374.4 1875.7L377.0 1873.8L380.1 1871.5L383.3 1869.1L386.6 1866.8L389.4 1864.7L392.8 1862.4L396.3 1860.1L399.7 1857.9L402.5 1856.0L404.5 1854.7L404.7 1854.3L404.3 1854.3L402.1 1855.4L399.1 1857.0L395.6 1858.9L391.9 1861.0L388.4 1863.1L385.3 1865.0L382.0 1867.2L378.6 1869.4L375.4 1871.6L372.8 1873.4L370.8 1874.7ZM366.4 1879.0L366.7 1876.4L367.1 1872.5L367.5 1868.0L367.9 1863.5L368.3 1859.7L368.5 1857.0L368.3 1856.7L368.1 1857.0L367.6 1859.6L366.8 1863.4L366.0 1867.8L365.2 1872.2L364.5 1876.0L364.0 1878.7ZM354.3 1879.0L354.9 1876.2L355.8 1872.1L356.8 1867.5L357.6 1863.4L358.2 1860.6L358.1 1860.2L357.8 1860.4L356.9 1863.2L355.6 1867.2L354.1 1871.6L352.8 1875.6L351.9 1878.3ZM312.5 1969.7L314.2 1968.5L316.9 1966.9L320.7 1964.9L325.1 1962.5L329.8 1959.7L334.6 1956.4L339.1 1952.7L342.7 1948.9L345.6 1944.9L348.2 1940.9L350.4 1936.9L352.5 1933.1L354.4 1929.6L356.2 1926.7L357.8 1924.3L360.8 1921.1L362.9 1919.4L365.3 1918.3L369.4 1916.5L371.9 1915.4L374.9 1914.3L378.1 1913.1L381.7 1911.9L385.5 1910.6L389.6 1909.2L393.9 1907.7L398.4 1906.0L401.6 1904.7L405.0 1903.3L408.7 1901.8L412.6 1900.2L416.5 1898.6L420.5 1896.9L424.4 1895.3L428.2 1893.7L431.9 1892.1L435.3 1890.5L438.4 1889.1L441.2 1887.8L445.9 1885.3L449.9 1883.0L453.1 1880.8L455.7 1878.9L457.8 1877.3L459.5 1876.1L459.7 1875.7L459.3 1875.7L457.4 1876.6L455.1 1877.8L452.2 1879.2L448.7 1880.8L444.6 1882.7L439.8 1884.7L437.0 1885.8L433.8 1887.1L430.4 1888.5L426.7 1889.9L422.8 1891.4L418.9 1893.0L414.9 1894.5L410.9 1896.0L407.0 1897.4L403.3 1898.8L399.8 1900.0L396.6 1901.0L392.2 1902.4L387.9 1903.5L383.8 1904.4L379.9 1905.2L376.2 1906.0L372.6 1906.7L369.3 1907.6L366.2 1908.5L361.7 1910.3L358.4 1912.1L355.3 1914.2L351.2 1916.9L348.2 1918.9L345.1 1921.2L341.8 1923.7L338.4 1926.2L335.0 1928.5L331.7 1930.5L328.7 1931.8L326.5 1932.3L323.7 1932.4L320.4 1932.3L316.7 1932.0L312.9 1931.6L309.2 1931.2L305.6 1931.0L302.7 1931.0ZM395.9 1904.7L397.4 1906.4L399.2 1908.8L401.4 1911.7L404.0 1914.9L407.0 1918.0L410.3 1921.0L414.1 1923.4L417.5 1924.9L421.5 1926.3L425.9 1927.6L430.5 1928.8L435.1 1929.9L439.4 1930.8L443.3 1931.6L446.6 1932.4L449.0 1932.9L449.4 1932.8L449.2 1932.5L446.8 1931.7L443.5 1930.9L439.7 1929.8L435.4 1928.6L430.9 1927.3L426.4 1925.9L422.2 1924.4L418.4 1922.8L415.3 1921.2L412.0 1918.8L409.1 1915.9L406.5 1912.8L404.2 1909.6L402.2 1906.7L400.5 1904.1L399.1 1902.3ZM410.5 1920.6L412.7 1922.4L415.9 1924.9L419.5 1927.7L422.7 1930.3L424.8 1932.0L425.2 1932.0L425.2 1931.6L423.1 1929.7L420.2 1926.9L416.9 1923.8L413.9 1921.0L411.8 1919.1ZM440.4 1887.2L442.9 1887.5L446.5 1887.8L450.7 1888.1L454.9 1888.5L458.6 1888.8L461.1 1889.0L461.4 1888.8L461.1 1888.6L458.7 1888.2L455.1 1887.6L450.9 1886.9L446.7 1886.2L443.1 1885.7L440.6 1885.3ZM302.7 1962.5L304.4 1963.6L306.8 1965.4L309.9 1967.9L313.5 1970.7L317.5 1973.6L321.8 1976.5L326.4 1979.1L332.8 1981.6L341.1 1981.9L348.1 1979.4L352.1 1976.2L354.1 1973.8L355.2 1972.5L357.4 1971.8L360.1 1971.8L363.4 1972.2L367.2 1972.5L370.8 1972.4L374.6 1972.3L378.3 1972.2L381.5 1972.1L383.7 1972.0L390.4 1966.7L383.9 1961.0L381.7 1960.8L378.6 1960.6L374.9 1960.3L371.3 1959.9L368.4 1959.5L365.3 1958.9L362.3 1958.2L358.6 1957.4L353.8 1956.5L348.7 1956.5L344.5 1956.7L341.8 1956.0L341.8 1954.6L342.8 1953.4L344.1 1953.0L343.0 1951.2L341.1 1948.5L339.0 1945.4L336.8 1942.2L334.6 1939.1L332.5 1936.2L330.9 1934.1ZM284.2 1969.0L285.5 1970.9L287.1 1973.3L289.1 1976.4L291.4 1979.9L293.9 1983.6L296.5 1987.6L299.3 1991.6L302.0 1995.5L304.9 1999.3L307.6 2002.8L310.5 2006.0L314.2 2009.7L318.1 2012.8L321.9 2015.4L325.6 2017.6L329.0 2019.4L332.1 2021.1L334.9 2022.5L337.2 2024.0L340.3 2026.4L342.6 2028.5L344.7 2030.6L346.8 2032.9L349.4 2035.5L352.0 2037.8L354.6 2040.0L357.2 2042.2L359.9 2044.6L362.5 2047.0L365.2 2049.6L367.5 2052.0L369.8 2054.4L372.2 2056.9L374.5 2059.5L376.8 2062.3L379.0 2065.2L381.1 2068.4L382.7 2071.3L384.3 2074.7L386.0 2078.3L387.6 2082.2L389.2 2086.0L390.6 2089.6L391.9 2092.8L393.0 2095.5L393.8 2097.6L394.2 2097.8L394.3 2097.4L393.7 2095.3L392.9 2092.5L392.0 2089.1L390.9 2085.4L389.8 2081.4L388.5 2077.4L387.2 2073.5L385.9 2069.8L384.5 2066.6L382.6 2062.9L380.6 2059.6L378.4 2056.4L376.2 2053.5L374.0 2050.7L371.9 2048.1L369.8 2045.4L367.4 2042.4L364.9 2039.6L362.4 2036.9L360.1 2034.3L358.0 2031.9L356.2 2029.5L354.4 2026.9L352.9 2024.5L351.5 2021.9L349.9 2018.7L347.8 2014.8L346.1 2011.9L344.4 2008.8L342.7 2005.6L341.1 2002.4L339.5 1999.1L338.0 1995.8L336.6 1992.5L335.1 1989.0L334.1 1986.3L332.7 1982.9L331.2 1979.0L329.5 1975.0L327.8 1970.8L326.1 1966.6L324.5 1962.5L323.0 1958.7L321.6 1955.3L320.4 1952.3L319.4 1950.0ZM349.6 2032.2L351.8 2032.9L354.8 2034.0L358.4 2035.2L362.3 2036.4L365.8 2037.4L369.8 2038.6L373.9 2039.8L377.4 2040.8L379.9 2041.5L380.3 2041.4L380.1 2041.0L377.7 2040.0L374.3 2038.5L370.5 2036.8L366.6 2035.1L363.3 2033.6L359.8 2031.9L356.4 2030.1L353.6 2028.7L351.6 2027.6ZM362.2 2035.8L364.5 2037.4L367.9 2039.7L371.3 2042.1L373.6 2043.7L374.0 2043.7L374.0 2043.3L371.8 2041.5L368.7 2038.8L365.6 2036.1L363.4 2034.2ZM358.0 2038.7L357.0 2040.9L355.6 2043.9L353.9 2047.5L352.1 2051.4L350.3 2055.4L348.8 2059.3L347.6 2062.7L346.6 2067.2L346.0 2071.7L345.7 2075.9L345.5 2079.4L345.4 2081.9L345.6 2082.2L345.8 2081.9L346.3 2079.5L346.9 2076.0L347.6 2072.0L348.6 2067.7L350.0 2063.5L351.3 2060.3L353.1 2056.7L355.0 2052.8L357.0 2049.0L358.9 2045.5L360.5 2042.6L361.6 2040.5ZM379.6 2064.0L379.4 2066.5L379.2 2070.2L379.0 2074.5L378.7 2079.1L378.5 2083.5L378.3 2087.1L378.2 2089.7L378.4 2090.0L378.6 2089.7L379.0 2087.2L379.5 2083.5L380.1 2079.2L380.7 2074.7L381.2 2070.4L381.7 2066.7L382.1 2064.2ZM309.7 1983.3L308.7 1985.4L307.4 1988.3L305.7 1991.7L303.9 1995.7L301.9 1999.9L299.9 2004.3L297.9 2008.8L296.0 2013.1L294.4 2017.3L293.1 2021.2L292.2 2024.7L291.7 2029.9L292.2 2034.3L293.4 2038.0L294.8 2041.1L296.0 2044.2L296.8 2047.7L297.2 2051.0L297.6 2054.8L298.0 2058.8L298.3 2062.9L298.6 2066.9L298.9 2070.4L299.1 2073.4L299.3 2075.6L299.5 2075.9L299.7 2075.6L299.8 2073.4L300.0 2070.4L300.2 2066.8L300.4 2062.9L300.6 2058.8L300.7 2054.7L300.8 2050.8L300.8 2047.3L300.3 2043.1L299.3 2039.5L298.3 2036.4L297.7 2033.5L297.8 2030.4L299.0 2026.5L300.2 2024.0L302.0 2020.9L304.3 2017.4L306.8 2013.7L309.5 2009.9L312.3 2006.1L315.1 2002.5L317.7 1999.1L320.1 1996.0L322.1 1993.3L323.5 1991.3ZM298.8 2052.1L301.3 2052.5L305.0 2053.1L309.3 2053.8L313.5 2054.5L317.2 2055.1L319.7 2055.5L320.1 2055.4L319.9 2055.1L317.4 2054.4L313.8 2053.5L309.6 2052.4L305.4 2051.3L301.7 2050.3L299.3 2049.7ZM292.3 1958.8L291.2 1960.6L289.8 1963.0L287.9 1966.0L285.8 1969.4L283.5 1973.1L281.2 1977.1L279.0 1981.2L276.9 1985.4L275.2 1989.4L273.8 1993.3L272.6 1997.2L271.4 2001.3L270.4 2005.5L269.5 2009.8L268.7 2014.0L268.0 2018.1L267.5 2022.1L267.1 2026.1L267.1 2030.9L267.4 2035.5L268.1 2039.8L268.8 2043.8L269.5 2047.4L270.1 2050.5L270.4 2053.1L270.4 2057.5L270.1 2061.3L269.7 2064.5L269.4 2066.9L272.0 2071.6L276.2 2068.1L276.8 2065.9L277.6 2062.5L278.4 2058.2L279.0 2053.1L278.9 2049.6L278.4 2045.9L277.9 2042.3L277.4 2038.7L277.3 2035.1L277.8 2031.7L278.9 2028.5L280.3 2026.2L282.1 2023.7L284.3 2021.1L286.8 2018.5L289.5 2015.9L292.3 2013.3L295.1 2010.7L297.9 2008.1L300.4 2005.6L302.9 2003.2L305.6 2000.6L308.5 1997.9L311.4 1995.1L314.4 1992.4L317.1 1989.8L319.7 1987.4L321.9 1985.3L323.6 1983.6ZM271.1 2065.7L269.6 2067.2L267.6 2069.3L265.2 2071.6L262.6 2073.9L260.2 2075.5L257.4 2076.9L253.9 2079.1L249.6 2083.0L247.4 2085.4L244.9 2088.2L242.1 2091.5L239.2 2095.0L236.2 2098.7L233.3 2102.3L230.6 2105.7L228.2 2108.7L226.1 2111.3L224.6 2113.1L224.6 2113.5L225.0 2113.5L226.6 2111.7L228.8 2109.3L231.5 2106.4L234.4 2103.2L237.5 2099.8L240.7 2096.4L243.8 2093.0L246.8 2090.0L249.4 2087.3L251.6 2085.2L255.9 2081.8L259.1 2080.1L262.0 2078.8L265.0 2077.1L267.9 2074.9L270.7 2072.6L272.9 2070.7L274.5 2069.3ZM258.7 2077.3L256.4 2076.5L253.3 2075.5L249.4 2074.2L245.2 2072.7L240.9 2071.2L236.7 2069.8L232.9 2068.5L229.8 2067.4L227.5 2066.7L227.1 2066.8L227.3 2067.1L229.5 2068.0L232.6 2069.3L236.3 2070.8L240.4 2072.5L244.7 2074.3L248.8 2075.9L252.5 2077.5L255.6 2078.7L257.8 2079.6ZM269.8 2067.7L270.1 2070.1L270.5 2073.3L271.0 2077.0L271.5 2081.1L272.0 2085.5L272.4 2089.8L272.7 2094.0L272.8 2097.8L272.7 2101.0L272.1 2105.0L270.9 2108.6L269.5 2111.9L267.9 2115.0L266.3 2118.2L265.0 2121.4L263.5 2125.4L262.1 2129.5L260.8 2133.4L259.7 2136.7L259.0 2139.0L259.1 2139.4L259.4 2139.2L260.5 2137.0L261.9 2133.8L263.6 2130.2L265.5 2126.2L267.2 2122.4L268.8 2119.4L270.6 2116.5L272.4 2113.3L274.2 2109.9L275.7 2106.0L276.7 2101.5L277.0 2098.0L277.2 2093.9L277.1 2089.6L276.9 2085.1L276.7 2080.7L276.4 2076.5L276.1 2072.7L275.9 2069.6L275.8 2067.3ZM272.7 2105.9L273.5 2108.2L274.8 2111.4L276.2 2115.3L277.8 2119.4L279.3 2123.3L280.5 2126.6L281.4 2128.8L281.7 2129.0L281.8 2128.7L281.2 2126.3L280.2 2123.0L279.0 2119.0L277.8 2114.8L276.7 2110.8L275.7 2107.4L275.0 2105.1ZM302.2 1957.9L300.1 1958.6L296.5 1959.4L291.3 1960.6L285.1 1962.4L279.0 1965.0L274.9 1967.1L271.4 1969.3L268.0 1971.7L264.6 1974.2L261.3 1976.7L258.1 1979.1L255.1 1981.4L252.4 1983.3L250.1 1985.0L246.6 1987.0L243.1 1988.8L239.7 1990.4L236.6 1991.7L234.0 1992.7L231.9 1993.6L228.1 1998.5L233.7 2001.4L235.8 2001.4L238.6 2001.3L242.1 2001.2L246.2 2001.0L250.7 2000.7L255.5 2000.0L259.1 1999.3L262.8 1998.5L266.8 1997.6L270.7 1996.6L274.7 1995.7L278.4 1994.9L281.9 1994.2L284.8 1993.9L286.6 1994.0L290.3 1994.4L293.5 1995.3L296.6 1996.3L299.9 1997.3L302.8 1997.9ZM233.2 1994.0L231.2 1993.8L228.3 1993.5L224.7 1993.2L220.6 1993.1L216.0 1993.4L212.4 1994.1L208.4 1995.0L204.3 1996.2L200.1 1997.3L196.0 1998.3L192.2 1999.1L188.8 1999.5L185.2 1999.4L181.9 1998.9L178.7 1998.1L175.4 1997.1L172.1 1996.0L168.6 1995.0L164.7 1993.8L160.3 1992.5L156.0 1991.0L151.9 1989.6L148.4 1988.4L145.9 1987.6L145.5 1987.7L145.7 1988.0L148.1 1989.1L151.4 1990.7L155.3 1992.6L159.6 1994.5L163.8 1996.3L167.6 1997.8L171.0 1999.1L174.3 2000.4L177.6 2001.6L181.0 2002.7L184.7 2003.4L188.8 2003.7L192.7 2003.6L196.9 2003.0L201.3 2002.2L205.6 2001.3L209.7 2000.4L213.4 1999.8L216.6 1999.4L220.6 1999.4L224.2 1999.7L227.5 2000.2L230.3 2000.7L232.4 2001.0ZM167.8 1995.4L165.0 1996.3L160.8 1997.7L156.2 1999.1L152.0 2000.5L149.1 2001.4L148.9 2001.7L149.3 2001.8L152.2 2001.2L156.4 2000.2L161.2 1999.0L165.5 1998.0L168.4 1997.4ZM201.8 1999.2L200.0 1996.5L197.6 1992.9L195.8 1990.3L195.5 1990.1L195.4 1990.5L196.6 1993.4L198.3 1997.4L199.6 2000.4ZM195.5 1998.7L193.1 1999.9L189.4 2001.9L185.6 2005.3L183.9 2007.9L182.8 2010.5L181.8 2013.3L180.4 2016.2L178.5 2019.4L175.6 2022.9L173.4 2025.0L170.6 2027.5L167.4 2030.3L163.9 2033.2L160.2 2036.2L156.5 2039.1L152.9 2041.9L149.5 2044.6L146.5 2046.9L144.0 2048.9L142.1 2050.4L142.1 2050.8L142.5 2050.8L144.4 2049.4L147.0 2047.6L150.2 2045.4L153.7 2043.0L157.4 2040.4L161.3 2037.6L165.2 2034.9L168.9 2032.1L172.3 2029.5L175.3 2027.1L177.8 2024.9L181.1 2021.3L183.5 2017.9L185.1 2014.7L186.3 2012.0L187.3 2009.7L188.4 2008.1L191.8 2005.4L195.0 2003.8L197.4 2002.7ZM179.8 2019.4L177.3 2019.5L173.5 2019.7L169.3 2019.9L165.6 2020.1L163.0 2020.3L162.7 2020.5L163.0 2020.7L165.6 2020.8L169.3 2021.0L173.5 2021.1L177.3 2021.3L179.8 2021.4ZM173.4 2025.7L172.5 2028.1L171.3 2031.5L169.7 2035.5L168.1 2039.8L166.6 2043.8L165.4 2047.2L164.5 2049.6L164.6 2050.0L164.9 2049.8L166.0 2047.5L167.4 2044.1L169.2 2040.2L171.0 2036.0L172.8 2032.1L174.2 2028.8L175.3 2026.4ZM231.0 1995.1L228.9 1996.6L224.6 2000.2L222.4 2002.3L219.8 2004.9L216.8 2007.8L213.7 2010.9L210.6 2014.2L207.9 2017.5L205.7 2020.3L203.7 2023.3L201.8 2026.4L199.9 2029.5L198.1 2032.6L196.3 2035.7L194.5 2038.7L192.4 2042.5L190.2 2046.6L188.1 2050.6L186.2 2054.4L184.6 2057.6L183.4 2059.9L183.5 2060.3L183.8 2060.1L185.2 2057.9L187.1 2054.9L189.3 2051.3L191.8 2047.5L194.3 2043.6L196.7 2040.1L198.6 2037.1L200.6 2034.2L202.5 2031.2L204.6 2028.2L206.6 2025.3L208.7 2022.6L210.9 2020.0L213.8 2017.2L216.9 2014.3L220.2 2011.5L223.4 2009.0L226.2 2006.7L228.6 2004.8L232.7 2001.4L234.6 1999.9ZM206.4 2020.5L204.7 2022.1L202.1 2024.3L199.1 2027.0L195.8 2029.9L192.5 2032.7L189.5 2035.4L186.9 2037.6L185.1 2039.2L185.1 2039.6L185.5 2039.6L187.4 2038.2L190.0 2036.1L193.3 2033.7L196.7 2031.0L200.2 2028.4L203.4 2025.9L206.1 2023.9L208.0 2022.4ZM305.6 1944.4L303.3 1944.8L300.7 1945.6L298.0 1946.4L294.9 1947.2L290.9 1947.8L288.3 1948.1L284.9 1948.3L281.3 1948.4L277.4 1948.5L273.4 1948.6L269.3 1948.5L265.4 1948.4L261.6 1948.1L258.3 1947.7L255.0 1947.1L252.0 1946.1L249.1 1944.8L246.0 1943.4L242.8 1941.8L239.3 1940.4L235.3 1939.2L230.9 1938.3L227.7 1937.8L224.3 1937.4L220.6 1937.0L216.9 1936.6L212.9 1936.3L208.9 1936.1L204.9 1935.9L200.8 1935.9L196.8 1936.0L192.8 1936.2L188.9 1936.6L185.2 1937.1L181.2 1938.0L177.0 1939.3L172.8 1940.7L168.6 1942.4L164.5 1944.2L160.6 1946.0L157.0 1947.8L153.6 1949.4L150.6 1950.9L148.0 1952.2L146.0 1953.1L145.8 1953.4L146.2 1953.5L148.3 1952.9L151.0 1951.9L154.2 1950.8L157.7 1949.6L161.5 1948.3L165.6 1946.9L169.8 1945.6L174.0 1944.5L178.1 1943.4L182.2 1942.6L186.0 1942.1L189.5 1941.7L193.1 1941.5L196.9 1941.4L200.8 1941.3L204.8 1941.4L208.7 1941.5L212.6 1941.7L216.4 1942.0L220.0 1942.4L223.5 1942.9L226.8 1943.5L229.7 1944.1L233.4 1945.3L236.6 1946.7L239.4 1948.3L242.0 1950.2L244.6 1952.2L247.3 1954.4L250.4 1956.7L253.9 1958.9L257.3 1960.9L260.7 1963.0L264.3 1965.2L267.9 1967.4L271.5 1969.6L275.0 1971.8L278.4 1973.8L281.6 1975.6L284.7 1977.2L289.8 1979.5L294.6 1981.3L298.6 1982.6L301.4 1983.5L303.1 1984.3ZM188.0 1938.8L187.2 1936.6L186.1 1933.8L184.9 1930.5L183.6 1926.8L182.4 1922.7L181.4 1918.3L180.8 1913.6L180.6 1910.5L180.6 1906.9L180.6 1903.0L180.7 1898.7L180.9 1894.3L181.2 1889.9L181.4 1885.6L181.7 1881.5L181.9 1877.6L182.2 1874.2L182.3 1871.3L182.4 1869.1L182.2 1868.8L182.0 1869.1L181.7 1871.3L181.3 1874.1L180.8 1877.5L180.2 1881.3L179.6 1885.4L179.0 1889.7L178.4 1894.1L177.9 1898.5L177.4 1902.8L177.1 1906.8L176.8 1910.5L176.8 1913.9L177.2 1919.0L178.0 1923.8L179.1 1928.2L180.4 1932.1L181.6 1935.5L182.6 1938.2L183.2 1940.4ZM180.5 1893.7L179.2 1891.7L177.3 1888.7L175.0 1885.2L172.8 1881.7L170.8 1878.7L169.5 1876.7L169.1 1876.5L169.1 1876.9L170.3 1879.1L172.0 1882.2L173.9 1885.8L175.9 1889.5L177.6 1892.6L178.8 1894.7ZM180.3 1916.9L178.3 1915.8L175.7 1914.3L172.7 1912.5L169.2 1910.4L165.4 1908.3L161.5 1906.1L157.6 1904.1L153.7 1902.2L150.4 1900.7L146.8 1899.1L142.9 1897.6L138.9 1896.0L134.9 1894.4L131.1 1893.0L127.5 1891.6L124.3 1890.4L121.7 1889.4L119.6 1888.6L119.2 1888.7L119.4 1889.0L121.4 1890.0L124.0 1891.2L127.1 1892.6L130.6 1894.2L134.3 1896.0L138.1 1897.8L142.0 1899.6L145.7 1901.5L149.2 1903.2L152.3 1904.8L156.1 1906.9L159.9 1909.1L163.7 1911.3L167.3 1913.6L170.7 1915.7L173.7 1917.6L176.3 1919.2L178.3 1920.4ZM152.5 1902.6L150.4 1903.9L147.2 1905.8L143.6 1907.8L140.4 1909.7L138.3 1911.0L138.1 1911.3L138.5 1911.4L140.8 1910.4L144.1 1908.8L147.8 1907.0L151.2 1905.5L153.5 1904.4ZM225.7 1939.4L224.8 1937.2L223.6 1934.2L222.2 1930.6L220.5 1926.6L218.6 1922.7L216.5 1919.2L214.2 1916.2L211.0 1913.6L207.2 1911.5L203.3 1909.8L199.6 1908.5L196.5 1907.5L194.3 1906.7L193.9 1906.8L194.1 1907.1L196.2 1908.2L199.2 1909.7L202.6 1911.4L206.2 1913.4L209.4 1915.7L212.0 1918.2L213.8 1920.9L215.6 1924.3L217.2 1928.1L218.7 1931.9L220.0 1935.6L221.2 1938.7L222.0 1940.9ZM216.4 1919.9L216.1 1917.3L215.7 1913.4L215.2 1908.9L214.6 1904.1L214.1 1899.6L213.7 1895.7L213.3 1893.1L213.1 1892.8L212.9 1893.1L213.0 1895.8L213.1 1899.7L213.3 1904.2L213.5 1909.0L213.7 1913.6L213.8 1917.4L213.9 1920.1ZM245.5 1946.4L244.7 1943.9L243.6 1940.3L242.3 1936.1L241.0 1931.9L239.9 1928.2L239.1 1925.7L238.8 1925.5L238.7 1925.9L239.1 1928.4L239.8 1932.2L240.6 1936.5L241.4 1940.8L242.1 1944.6L242.6 1947.1ZM211.3 1937.6L209.5 1939.6L207.1 1942.4L204.2 1945.6L201.1 1948.9L198.0 1951.9L195.1 1954.2L191.4 1956.4L187.3 1958.1L183.1 1959.6L179.5 1960.8L176.9 1961.7L176.7 1962.0L177.1 1962.1L179.7 1961.6L183.5 1961.0L187.9 1960.0L192.5 1958.7L196.7 1956.8L200.1 1954.4L203.5 1951.4L206.8 1948.1L209.9 1944.9L212.4 1942.3L214.2 1940.4Z" fill="#4ba8bf"/>
<path d="M754.4 1987.8L757.2 1987.8L761.3 1987.9L765.9 1988.0L770.0 1988.0L772.5 1988.3L775.8 1989.1L780.1 1989.7L785.5 1989.3L790.7 1986.5L793.9 1982.8L795.9 1979.0L797.4 1975.0L798.7 1970.9L799.7 1967.0L800.7 1963.3L801.5 1960.1L802.5 1956.2L803.2 1952.6L803.7 1949.2L804.1 1946.0L804.6 1942.5L805.2 1939.1L805.9 1935.4L806.5 1931.5L807.2 1927.9L807.7 1924.9L808.1 1922.7L805.6 1917.9L801.3 1921.3L800.8 1923.4L800.0 1926.4L799.2 1930.0L798.2 1933.7L797.3 1937.4L796.4 1940.7L795.4 1944.1L794.5 1947.3L793.6 1950.2L792.5 1953.2L791.1 1956.7L789.8 1959.7L788.4 1963.2L786.9 1966.7L785.4 1970.1L783.9 1973.0L782.5 1975.0L782.1 1975.5L781.6 1975.8L780.5 1975.8L777.9 1975.6L774.2 1975.1L770.0 1975.0L765.3 1975.4L760.7 1976.0L756.6 1976.5L753.8 1976.8ZM807.4 1920.6L806.2 1918.7L804.7 1915.8L802.7 1912.5L800.4 1909.1L797.9 1906.2L795.1 1904.1L792.1 1902.4L789.1 1901.0L786.1 1899.6L783.1 1897.9L779.9 1895.9L776.4 1893.6L773.0 1891.3L769.9 1889.1L767.7 1887.3L765.0 1883.4L764.2 1880.8L762.9 1879.9L762.2 1881.4L763.0 1884.4L765.7 1888.9L768.2 1891.2L771.3 1893.6L774.6 1896.1L778.1 1898.6L781.3 1900.9L784.3 1902.8L787.3 1904.4L790.2 1905.9L792.6 1907.5L794.7 1909.4L796.5 1911.9L798.2 1915.0L799.8 1918.3L801.1 1921.3L802.0 1923.4ZM787.1 1901.0L785.0 1902.5L782.1 1904.7L778.7 1907.1L775.2 1909.3L771.9 1910.8L768.6 1911.5L764.8 1911.8L761.1 1911.8L757.8 1911.7L755.5 1911.7L754.3 1912.7L755.5 1913.7L757.8 1913.8L761.0 1913.9L764.9 1914.0L768.9 1913.9L772.7 1913.2L776.4 1911.8L780.3 1909.8L784.0 1907.6L787.1 1905.7L789.3 1904.4ZM805.2 1921.9L806.9 1920.5L809.4 1918.2L812.1 1914.7L813.8 1911.7L815.6 1908.1L817.4 1904.2L818.9 1900.4L820.1 1897.1L821.2 1892.5L821.4 1888.6L821.3 1885.1L820.2 1880.8L818.9 1877.9L817.5 1877.2L817.1 1878.7L818.2 1881.4L819.1 1885.5L819.0 1888.5L818.5 1892.0L817.3 1896.1L815.9 1899.1L814.1 1902.6L812.1 1906.2L810.1 1909.6L808.5 1912.1L806.0 1915.0L803.7 1916.8L802.1 1918.0ZM819.6 1898.1L821.5 1896.9L824.1 1895.1L827.1 1893.1L830.3 1891.1L833.4 1889.2L836.6 1887.3L840.2 1885.3L843.7 1883.4L846.7 1881.7L848.8 1880.6L849.4 1879.1L847.8 1878.8L845.7 1879.9L842.6 1881.5L839.1 1883.3L835.5 1885.2L832.2 1887.0L829.0 1888.8L825.6 1890.7L822.4 1892.5L819.7 1894.0L817.8 1895.1ZM802.4 1944.6L804.5 1943.1L807.2 1941.2L810.4 1938.9L814.0 1936.4L817.8 1934.0L821.6 1931.7L825.4 1929.8L828.4 1928.5L831.6 1927.3L835.0 1926.1L838.5 1924.9L842.0 1923.9L845.6 1922.9L849.0 1922.0L852.4 1921.3L855.5 1920.6L859.5 1919.9L863.3 1919.4L867.0 1919.0L870.7 1918.8L874.2 1918.7L877.5 1918.7L880.5 1918.7L884.7 1919.0L888.6 1919.6L892.2 1920.3L895.1 1920.9L897.3 1921.4L898.6 1920.7L897.7 1919.6L895.5 1919.2L892.6 1918.5L888.9 1917.7L884.9 1917.1L880.7 1916.7L877.5 1916.6L874.1 1916.5L870.6 1916.5L866.9 1916.6L863.1 1916.8L859.1 1917.1L855.1 1917.6L851.8 1918.1L848.3 1918.7L844.7 1919.4L841.1 1920.2L837.4 1921.0L833.8 1922.0L830.2 1923.0L826.7 1924.0L823.4 1925.2L819.2 1927.0L815.0 1929.1L810.8 1931.3L807.0 1933.6L803.6 1935.7L800.7 1937.4L798.6 1938.6ZM856.4 1920.1L858.1 1918.1L860.2 1915.4L862.9 1912.2L865.7 1908.8L868.6 1905.6L871.4 1903.0L874.4 1900.6L877.9 1898.4L881.4 1896.3L884.7 1894.4L887.5 1892.9L889.5 1891.7L890.0 1890.4L888.7 1890.1L886.6 1891.3L883.8 1892.8L880.5 1894.7L876.9 1896.8L873.3 1899.1L870.2 1901.4L867.1 1904.1L864.0 1907.3L861.0 1910.5L858.2 1913.6L855.9 1916.3L854.2 1918.1ZM799.9 1948.0L802.2 1947.9L805.2 1947.5L808.8 1947.2L812.8 1946.8L816.8 1946.6L820.7 1946.4L824.2 1946.4L828.0 1946.7L831.8 1947.4L835.6 1948.3L839.4 1949.1L843.2 1949.6L846.9 1949.7L850.8 1949.2L854.7 1948.2L858.5 1947.0L861.9 1945.7L864.8 1944.6L866.9 1943.9L867.6 1942.7L866.3 1942.1L864.2 1942.9L861.3 1943.9L857.9 1945.2L854.1 1946.3L850.4 1947.2L846.9 1947.5L843.5 1947.2L840.0 1946.4L836.3 1945.4L832.6 1944.2L828.6 1943.1L824.6 1942.4L820.8 1942.1L816.8 1941.9L812.6 1941.9L808.6 1941.9L804.9 1942.0L801.8 1942.0L799.6 1942.0ZM838.9 1949.3L841.3 1950.4L844.6 1951.9L848.5 1953.7L852.7 1955.6L856.8 1957.5L860.4 1959.3L863.9 1961.0L867.5 1962.9L870.9 1964.8L874.1 1966.6L876.8 1968.0L878.8 1969.1L880.1 1968.8L879.6 1967.5L877.7 1966.4L875.0 1965.0L871.8 1963.2L868.3 1961.3L864.8 1959.4L861.4 1957.5L857.8 1955.6L853.8 1953.4L849.8 1951.2L846.0 1949.2L842.8 1947.4L840.5 1946.2ZM782.1 1986.5L783.9 1987.7L786.4 1989.4L789.5 1991.5L792.9 1993.8L796.6 1996.1L800.4 1998.3L803.9 2000.1L807.9 2002.1L812.0 2004.1L816.1 2006.0L819.8 2007.8L822.9 2009.2L825.1 2010.3L832.0 2008.8L829.3 2002.3L827.1 2001.1L824.0 1999.4L820.5 1997.4L816.6 1995.3L812.8 1993.1L809.2 1990.9L806.2 1988.9L803.1 1986.6L800.1 1984.1L797.2 1981.5L794.6 1979.1L792.4 1977.0L790.7 1975.5ZM828.5 2009.0L830.7 2007.8L833.7 2006.1L837.2 2004.1L841.1 2002.0L845.2 2000.0L849.2 1998.1L853.0 1996.7L856.3 1995.7L859.8 1994.9L863.5 1994.3L867.2 1993.8L870.9 1993.3L874.4 1992.8L877.8 1992.4L880.8 1991.9L885.2 1991.0L889.2 1990.1L892.7 1989.3L895.6 1988.7L897.7 1988.2L898.6 1987.1L897.3 1986.4L895.2 1986.9L892.3 1987.5L888.8 1988.2L884.8 1989.0L880.4 1989.7L877.5 1990.1L874.2 1990.4L870.6 1990.7L866.9 1991.1L863.1 1991.4L859.3 1991.9L855.6 1992.5L852.0 1993.3L847.9 1994.6L843.5 1996.1L839.2 1997.8L835.0 1999.6L831.3 2001.3L828.2 2002.6L825.9 2003.6ZM851.6 1996.2L853.5 1997.6L856.1 1999.7L859.2 2002.2L862.6 2004.8L866.2 2007.4L869.8 2009.6L873.2 2011.4L877.3 2012.8L881.7 2013.8L886.0 2014.5L890.1 2014.9L893.5 2015.3L896.0 2015.6L897.2 2014.8L896.2 2013.8L893.7 2013.5L890.3 2013.1L886.3 2012.7L882.0 2012.0L877.8 2011.0L874.0 2009.6L870.9 2007.8L867.5 2005.5L864.1 2002.9L860.8 2000.1L857.8 1997.6L855.3 1995.4L853.4 1993.8ZM825.8 2004.2L823.8 2005.7L821.1 2007.8L818.0 2010.2L814.5 2012.6L810.9 2014.7L807.1 2016.0L804.1 2016.6L800.4 2016.8L796.4 2016.9L792.3 2016.7L788.3 2016.5L784.7 2016.2L781.7 2016.0L779.5 2015.9L778.3 2016.7L779.3 2017.7L781.6 2017.9L784.6 2018.2L788.2 2018.6L792.1 2019.0L796.3 2019.3L800.4 2019.5L804.3 2019.4L807.9 2019.0L812.1 2017.7L816.3 2015.8L820.2 2013.6L823.7 2011.5L826.5 2009.6L828.6 2008.4ZM822.8 2007.3L823.6 2010.0L824.7 2014.0L826.2 2018.6L827.3 2022.0L828.7 2025.9L830.2 2029.8L831.4 2033.2L832.3 2035.5L836.9 2038.4L838.9 2033.3L838.2 2030.9L837.1 2027.4L835.9 2023.5L834.7 2019.6L833.8 2016.4L832.8 2011.9L832.1 2008.0L831.6 2005.3ZM833.2 2036.2L834.6 2038.0L836.7 2040.4L839.1 2043.3L841.6 2046.4L844.1 2049.5L846.3 2052.5L847.9 2055.0L849.5 2058.2L850.6 2061.2L851.4 2064.2L852.1 2067.2L852.8 2070.2L853.7 2074.4L854.6 2078.7L855.3 2082.5L855.8 2085.1L856.9 2086.1L857.6 2084.9L857.2 2082.2L856.6 2078.3L856.0 2074.0L855.2 2069.8L854.7 2066.7L854.3 2063.6L853.8 2060.4L852.9 2056.9L851.5 2053.2L849.9 2050.2L847.9 2046.9L845.6 2043.4L843.3 2040.1L841.1 2037.0L839.3 2034.4L838.0 2032.6ZM832.7 2033.8L832.3 2036.2L831.8 2039.5L831.2 2043.3L830.6 2047.5L829.8 2051.7L828.9 2055.6L827.9 2058.9L826.5 2062.2L824.8 2065.3L822.9 2068.3L820.9 2071.3L819.0 2074.2L817.2 2077.1L815.5 2080.4L814.2 2083.4L813.0 2086.3L811.4 2089.3L809.3 2092.7L807.1 2095.6L804.4 2098.9L801.4 2102.4L798.3 2106.0L795.5 2109.2L793.0 2111.9L791.3 2113.9L791.3 2115.3L792.7 2115.1L794.4 2113.2L796.9 2110.5L799.8 2107.3L803.0 2103.9L806.1 2100.4L809.0 2097.0L811.3 2094.1L813.7 2090.7L815.5 2087.6L817.0 2084.8L818.5 2081.9L820.2 2078.9L822.0 2076.2L824.0 2073.5L826.2 2070.6L828.3 2067.5L830.3 2064.2L832.1 2060.5L833.4 2056.9L834.6 2052.8L835.6 2048.5L836.6 2044.3L837.4 2040.5L838.0 2037.3L838.5 2035.0ZM826.2 2065.0L823.9 2065.5L820.7 2066.3L816.9 2067.3L812.8 2068.2L808.7 2069.1L804.8 2069.9L800.9 2070.6L796.5 2071.2L792.1 2071.7L788.1 2072.2L784.6 2072.6L782.1 2072.9L781.1 2073.9L782.3 2074.7L784.8 2074.4L788.3 2074.1L792.4 2073.7L796.8 2073.2L801.2 2072.6L805.2 2072.1L809.1 2071.4L813.3 2070.6L817.5 2069.8L821.3 2069.0L824.5 2068.4L826.9 2067.9ZM809.1 2093.9L810.1 2095.9L811.4 2098.9L813.0 2102.2L815.1 2105.3L817.9 2108.2L821.3 2111.0L824.5 2113.5L826.6 2115.2L828.0 2115.2L827.8 2113.8L825.6 2112.1L822.5 2109.6L819.2 2106.8L816.7 2104.1L814.9 2101.2L813.4 2098.0L812.3 2095.0L811.5 2092.9Z" fill="#4ba8bf"/>
<ellipse cx="763.2" cy="1881.1" rx="4.3" ry="3.3" fill="#4ba8bf" transform="rotate(-117 763.2 1881.1)"/>
<ellipse cx="755.5" cy="1912.7" rx="4.3" ry="3.3" fill="#4ba8bf" transform="rotate(178 755.5 1912.7)"/>
<ellipse cx="818.0" cy="1878.3" rx="4.3" ry="3.3" fill="#4ba8bf" transform="rotate(-107 818.0 1878.3)"/>
<ellipse cx="848.3" cy="1879.7" rx="4.3" ry="3.3" fill="#4ba8bf" transform="rotate(-28 848.3 1879.7)"/>
<ellipse cx="897.5" cy="1920.5" rx="4.3" ry="3.3" fill="#4ba8bf" transform="rotate(9 897.5 1920.5)"/>
<ellipse cx="889.1" cy="1890.9" rx="4.3" ry="3.3" fill="#4ba8bf" transform="rotate(-32 889.1 1890.9)"/>
<ellipse cx="866.6" cy="1943.0" rx="4.3" ry="3.3" fill="#4ba8bf" transform="rotate(-16 866.6 1943.0)"/>
<ellipse cx="879.2" cy="1968.3" rx="4.3" ry="3.3" fill="#4ba8bf" transform="rotate(28 879.2 1968.3)"/>
<ellipse cx="897.5" cy="1987.3" rx="4.3" ry="3.3" fill="#4ba8bf" transform="rotate(-12 897.5 1987.3)"/>
<ellipse cx="896.1" cy="2014.7" rx="4.3" ry="3.3" fill="#4ba8bf" transform="rotate(11 896.1 2014.7)"/>
<ellipse cx="779.4" cy="2016.8" rx="4.3" ry="3.3" fill="#4ba8bf" transform="rotate(-179 779.4 2016.8)"/>
<ellipse cx="856.7" cy="2085.0" rx="4.3" ry="3.3" fill="#4ba8bf" transform="rotate(80 856.7 2085.0)"/>
<ellipse cx="792.0" cy="2114.5" rx="4.3" ry="3.3" fill="#4ba8bf" transform="rotate(131 792.0 2114.5)"/>
<ellipse cx="782.2" cy="2073.8" rx="4.3" ry="3.3" fill="#4ba8bf" transform="rotate(173 782.2 2073.8)"/>
<ellipse cx="827.2" cy="2114.5" rx="4.3" ry="3.3" fill="#4ba8bf" transform="rotate(41 827.2 2114.5)"/>
<rect x="381.8" y="1962.2" width="80.5" height="27.5" rx="6" fill="#a4cddb" transform="rotate(9 422.0 1976.0)"/>
<rect x="477.0" y="1975.5" width="80.5" height="27.5" rx="6" fill="#a4cddb" transform="rotate(7.2 517.3 1989.3)"/>
<rect x="577.6" y="1981.8" width="80.5" height="27.5" rx="6" fill="#a4cddb" transform="rotate(1 617.9 1995.5)"/>
<rect x="674.0" y="1973.5" width="80.5" height="27.5" rx="6" fill="#a4cddb" transform="rotate(-7 714.3 1987.3)"/>
<circle cx="307.8" cy="1967.5" r="25.5" fill="#a5cedc"/>
<ellipse cx="307.8" cy="1967.5" rx="15" ry="12.5" fill="#164f62" transform="rotate(8 307.8 1967.5)"/>
<text x="96.5" y="197.5" font-size="42" font-weight="bold" fill="#222222" textLength="1150.0" lengthAdjust="spacingAndGlyphs" stroke="#f5f5f5" stroke-width="0.7">La proteína amiloide se acumula alrededor de las neuronas de</text>
<text x="96.5" y="245.3" font-size="42" font-weight="bold" fill="#222222" textLength="475.0" lengthAdjust="spacingAndGlyphs" stroke="#f5f5f5" stroke-width="0.7">un cerebro con Alzheimer</text>
<text x="97.0" y="746.2" font-size="42" font-weight="bold" fill="#222222" textLength="1075.0" lengthAdjust="spacingAndGlyphs" stroke="#f5f5f5" stroke-width="0.7">El anticuerpo lecanemab se adhiere a la proteína amiloide</text>
<text x="96.5" y="1246.2" font-size="42" font-weight="bold" fill="#222222" textLength="1169.5" lengthAdjust="spacingAndGlyphs" stroke="#f5f5f5" stroke-width="0.7">El anticuerpo llama a las células inmunes a que descompongan</text>
<text x="96.5" y="1293.8" font-size="42" font-weight="bold" fill="#222222" textLength="200.0" lengthAdjust="spacingAndGlyphs" stroke="#f5f5f5" stroke-width="0.7">la proteína</text>
<text x="97.0" y="1750.5" font-size="42" font-weight="bold" fill="#222222" textLength="746.0" lengthAdjust="spacingAndGlyphs" stroke="#f5f5f5" stroke-width="0.7">Menos proteína alrededor de la neurona</text>
<rect x="0" y="2144" width="1280" height="2" fill="#000"/>
<text x="14.0" y="2188.0" font-size="33" font-weight="normal" fill="#222222" textLength="316.0" lengthAdjust="spacingAndGlyphs">Fuente: BBC research</text>
<rect x="1144" y="2158" width="34.3" height="35.8" fill="#000"/>
<rect x="1186.9" y="2158" width="34.3" height="35.8" fill="#000"/>
<rect x="1229.7" y="2158" width="34.3" height="35.8" fill="#000"/>
<text x="1161.2" y="2186" font-size="27" font-weight="bold" fill="#fff" text-anchor="middle">B</text>
<text x="1204.1" y="2186" font-size="27" font-weight="bold" fill="#fff" text-anchor="middle">B</text>
<text x="1246.9" y="2186" font-size="27" font-weight="bold" fill="#fff" text-anchor="middle">C</text>
</svg></body></html>
